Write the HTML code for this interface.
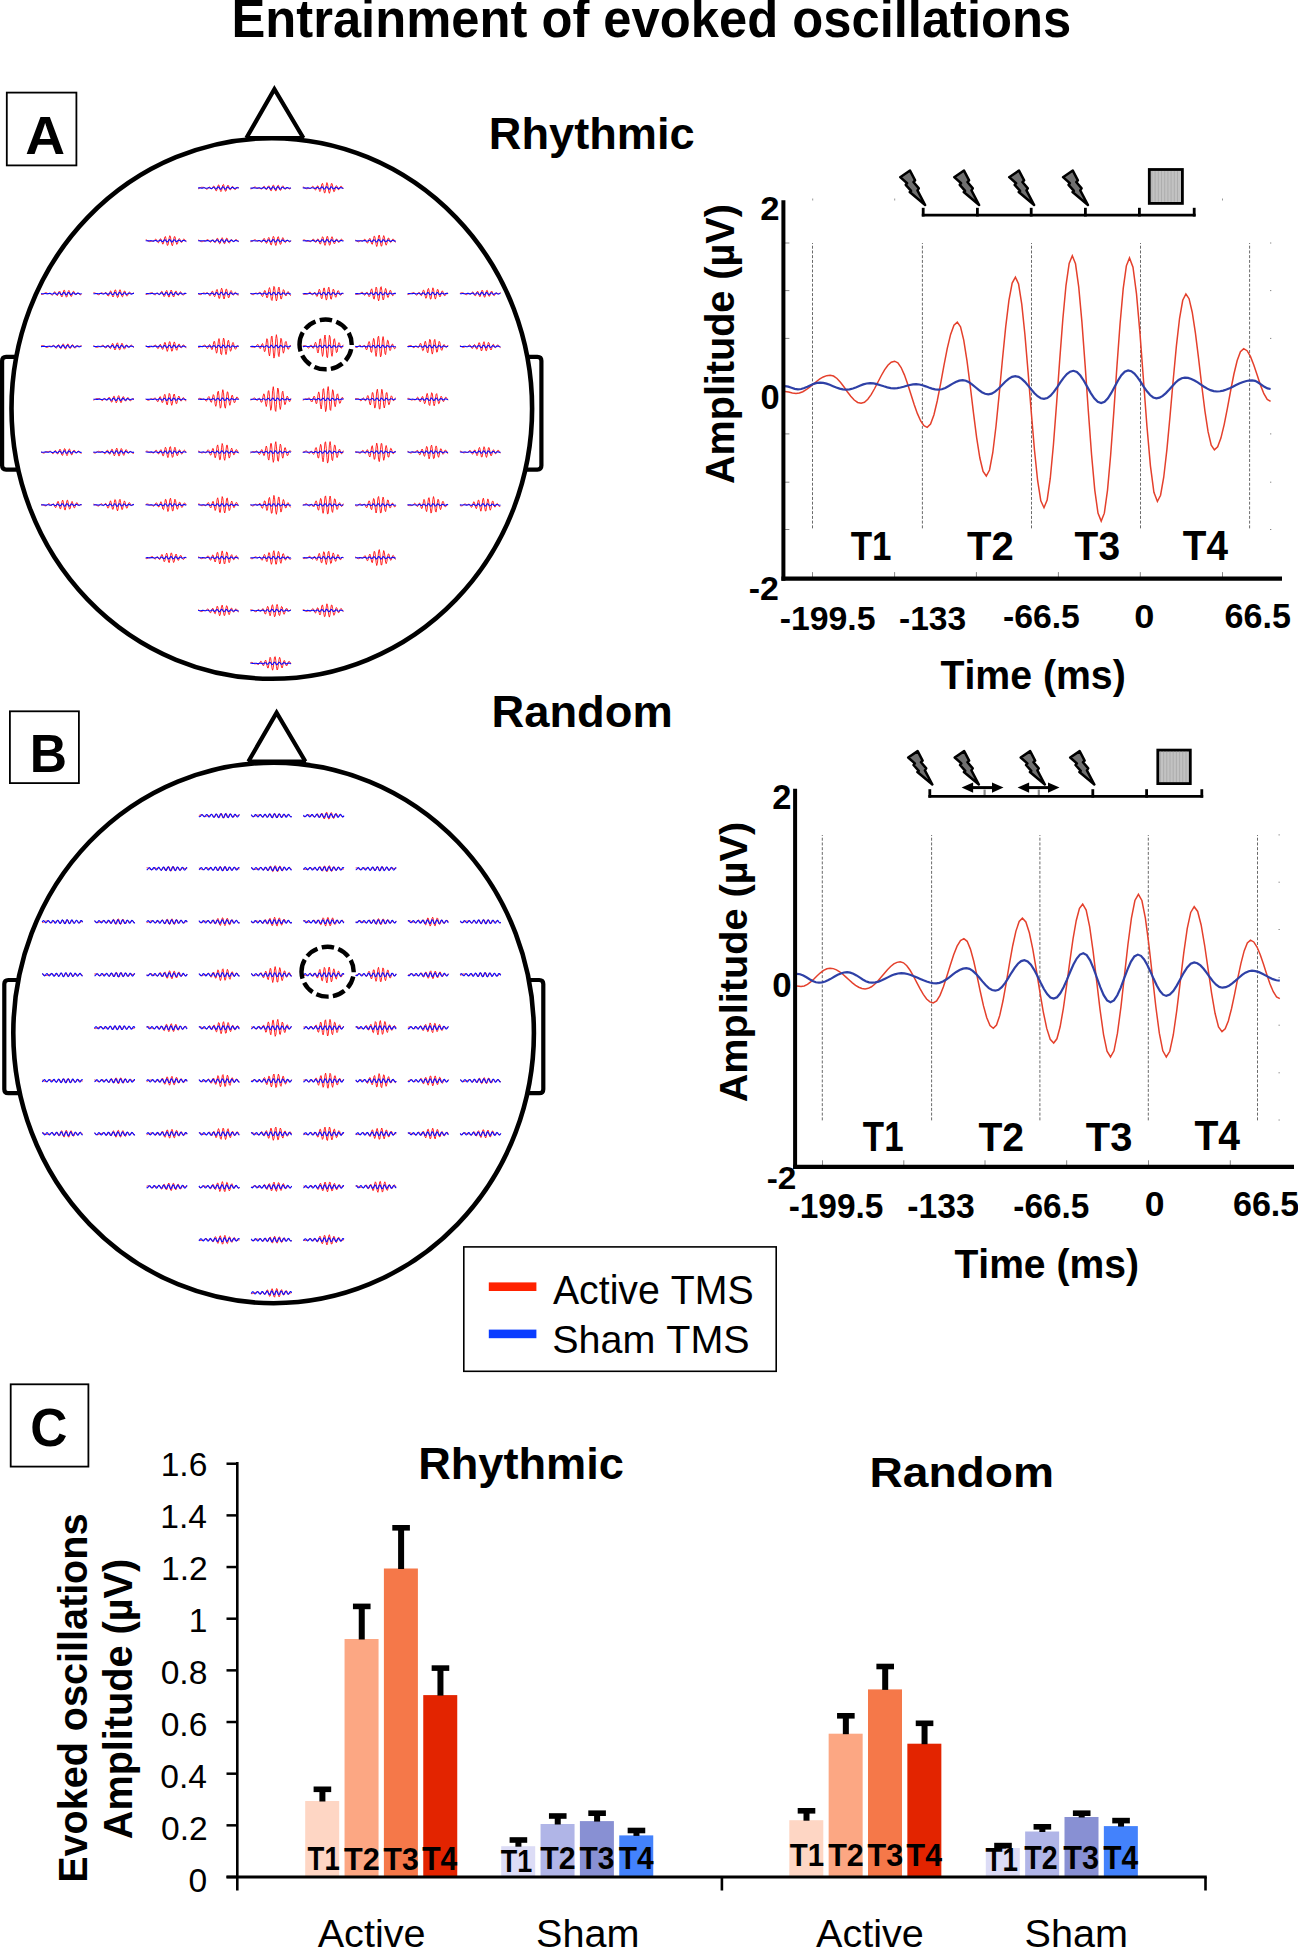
<!DOCTYPE html>
<html><head><meta charset="utf-8"><title>Entrainment of evoked oscillations</title>
<style>html,body{margin:0;padding:0;background:#fff;width:1298px;height:1948px;overflow:hidden}
svg{display:block;font-family:"Liberation Sans",sans-serif}</style></head>
<body>
<svg width="1298" height="1948" viewBox="0 0 1298 1948" font-family="Liberation Sans, sans-serif" style="font-kerning:none"><text transform="translate(231.45,36.67) scale(1,1.0416)" font-size="50.73" font-weight="bold" fill="#000">Entrainment of evoked oscillations</text>
<rect x="6.80" y="92.60" width="69.60" height="72.80" fill="none" stroke="#000" stroke-width="1.80"/>
<text transform="translate(25.35,154.04) scale(1,0.9733)" font-size="55.15" font-weight="bold" fill="#000">A</text>
<rect x="9.90" y="711.30" width="69.00" height="71.80" fill="none" stroke="#000" stroke-width="1.80"/>
<text transform="translate(29.69,771.90) scale(1,1.0328)" font-size="51.64" font-weight="bold" fill="#000">B</text>
<rect x="10.70" y="1384.30" width="77.70" height="82.30" fill="none" stroke="#000" stroke-width="1.80"/>
<text transform="translate(30.34,1446.06) scale(1,1.0494)" font-size="51.54" font-weight="bold" fill="#000">C</text>
<ellipse cx="271.80" cy="408.50" rx="260.30" ry="270.30" fill="none" stroke="#000" stroke-width="4.60"/>
<path d="M246.40,138.00 L274.40,89.20 L303.40,138.00" stroke="#000" stroke-width="4.20" fill="none" stroke-linejoin="miter"/>
<line x1="245.80" y1="138.00" x2="304.00" y2="138.00" stroke="#000" stroke-width="4.20"/>
<path d="M17.31,356.80 H6.10 Q2.10,356.80 2.10,360.80 V465.60 Q2.10,469.60 6.10,469.60 H19.24" stroke="#000" stroke-width="4.20" fill="none"/>
<path d="M526.29,356.80 H537.40 Q541.40,356.80 541.40,360.80 V465.60 Q541.40,469.60 537.40,469.60 H524.36" stroke="#000" stroke-width="4.20" fill="none"/>
<ellipse cx="273.60" cy="1032.90" rx="260.30" ry="270.30" fill="none" stroke="#000" stroke-width="4.60"/>
<path d="M248.40,761.50 L276.60,712.70 L305.40,761.50" stroke="#000" stroke-width="4.20" fill="none" stroke-linejoin="miter"/>
<line x1="247.80" y1="761.50" x2="306.00" y2="761.50" stroke="#000" stroke-width="4.20"/>
<path d="M19.33,980.00 H8.30 Q4.30,980.00 4.30,984.00 V1089.20 Q4.30,1093.20 8.30,1093.20 H20.86" stroke="#000" stroke-width="4.20" fill="none"/>
<path d="M527.87,980.00 H539.30 Q543.30,980.00 543.30,984.00 V1089.20 Q543.30,1093.20 539.30,1093.20 H526.34" stroke="#000" stroke-width="4.20" fill="none"/>
<path d="M198.1 188.8 198.7 188.6 199.3 188.2 200.0 187.8 200.6 187.5 201.3 187.3 201.9 187.3 202.5 187.3 203.2 187.3 203.8 187.4 204.4 187.6 205.1 188.1 205.7 188.6 206.3 189.1 207.0 189.3 207.6 189.0 208.2 188.2 208.9 187.3 209.5 187.0 210.1 187.4 210.8 188.2 211.4 188.9 212.0 188.7 212.7 187.7 213.3 186.4 213.9 185.9 214.6 186.8 215.2 188.8 215.8 190.6 216.5 190.8 217.1 189.2 217.7 186.7 218.4 184.9 219.0 185.2 219.6 187.5 220.3 190.3 220.9 191.6 221.6 190.5 222.2 187.7 222.8 185.0 223.5 184.4 224.1 186.2 224.7 189.2 225.4 191.2 226.0 191.1 226.6 189.0 227.3 186.4 227.9 185.1 228.5 185.8 229.2 187.7 229.8 189.5 230.4 189.9 231.1 188.9 231.7 187.3 232.3 186.4 233.0 186.6 233.6 187.7 234.2 189.0 234.9 189.7 235.5 189.5 236.1 188.7 236.8 187.9 237.4 187.4 238.0 187.4 238.7 187.5 M250.4 188.9 251.1 188.8 251.7 188.6 252.3 188.3 253.0 187.9 253.6 187.5 254.2 187.2 254.9 187.0 255.5 187.1 256.1 187.5 256.8 187.9 257.4 188.2 258.1 188.3 258.7 188.3 259.3 188.2 260.0 188.4 260.6 188.7 261.2 189.0 261.9 189.0 262.5 188.3 263.1 187.2 263.8 186.4 264.4 186.3 265.0 187.3 265.7 188.7 266.3 189.6 266.9 189.4 267.6 188.0 268.2 186.5 268.8 185.8 269.5 186.8 270.1 188.8 270.7 190.6 271.4 190.7 272.0 188.9 272.6 186.5 273.3 185.0 273.9 185.5 274.5 187.7 275.2 190.1 275.8 191.1 276.4 190.0 277.1 187.6 277.7 185.6 278.4 185.3 279.0 186.9 279.6 189.1 280.3 190.4 280.9 190.1 281.5 188.4 282.2 186.6 282.8 185.8 283.4 186.3 284.1 187.6 284.7 188.8 285.3 189.2 286.0 188.8 286.6 188.1 287.2 187.7 287.9 187.9 288.5 188.4 289.1 188.9 289.8 188.9 290.4 188.4 291.0 187.8 M302.8 187.1 303.4 187.1 304.1 187.3 304.7 187.7 305.3 188.1 306.0 188.5 306.6 188.8 307.2 188.7 307.9 188.5 308.5 188.4 309.1 188.3 309.8 188.4 310.4 188.4 311.0 188.1 311.7 187.3 312.3 186.5 312.9 186.2 313.6 186.8 314.2 188.1 314.9 189.6 315.5 190.1 316.1 189.2 316.8 187.4 317.4 185.9 318.0 185.9 318.7 187.7 319.3 190.2 319.9 191.6 320.6 190.5 321.2 187.4 321.8 184.2 322.5 183.3 323.1 185.5 323.7 189.6 324.4 192.8 325.0 192.8 325.6 189.5 326.3 185.1 326.9 182.6 327.5 183.7 328.2 187.8 328.8 191.9 329.4 193.3 330.1 191.1 330.7 187.0 331.3 183.7 332.0 183.5 332.6 186.1 333.2 189.7 333.9 191.8 334.5 191.3 335.2 188.9 335.8 186.5 336.4 185.6 337.1 186.5 337.7 188.3 338.3 189.7 339.0 189.6 339.6 188.4 340.2 187.0 340.9 186.1 341.5 186.3 342.1 187.3 342.8 188.3 343.4 188.9 M145.7 239.9 146.4 239.9 147.0 240.2 147.6 240.6 148.3 241.0 148.9 241.4 149.5 241.6 150.2 241.6 150.8 241.4 151.4 241.2 152.1 241.1 152.7 241.2 153.3 241.1 154.0 240.8 154.6 240.1 155.2 239.4 155.9 239.1 156.5 239.7 157.1 241.1 157.8 242.4 158.4 242.8 159.0 241.9 159.7 240.2 160.3 238.8 160.9 238.9 161.6 240.7 162.2 243.0 162.8 244.2 163.5 243.0 164.1 240.0 164.8 237.2 165.4 236.5 166.0 238.7 166.7 242.6 167.3 245.4 167.9 245.2 168.6 242.0 169.2 237.8 169.8 235.7 170.5 237.0 171.1 240.9 171.7 244.7 172.4 245.8 173.0 243.5 173.6 239.6 174.3 236.7 174.9 236.6 175.5 239.2 176.2 242.6 176.8 244.4 177.4 243.8 178.1 241.5 178.7 239.3 179.3 238.5 180.0 239.5 180.6 241.2 181.2 242.4 181.9 242.3 182.5 241.1 183.1 239.7 183.8 239.0 184.4 239.3 185.1 240.2 185.7 241.2 186.3 241.7 M198.1 240.0 198.7 240.2 199.3 240.5 200.0 240.9 200.6 241.3 201.3 241.6 201.9 241.7 202.5 241.6 203.2 241.3 203.8 241.1 204.4 240.9 205.1 240.8 205.7 240.6 206.3 240.3 207.0 239.9 207.6 239.7 208.2 239.7 208.9 240.4 209.5 241.3 210.1 242.1 210.8 242.2 211.4 241.5 212.0 240.4 212.7 239.7 213.3 239.9 213.9 241.0 214.6 242.3 215.2 242.7 215.8 241.7 216.5 239.8 217.1 238.3 217.7 238.4 218.4 240.1 219.0 242.4 219.6 243.8 220.3 243.2 220.9 240.9 221.6 238.6 222.2 237.7 222.8 238.9 223.5 241.4 224.1 243.5 224.7 243.7 225.4 241.9 226.0 239.5 226.6 238.1 227.3 238.5 227.9 240.4 228.5 242.3 229.2 243.2 229.8 242.6 230.4 241.0 231.1 239.8 231.7 239.5 232.3 240.2 233.0 241.2 233.6 241.7 234.2 241.3 234.9 240.5 235.5 239.7 236.1 239.5 236.8 239.9 237.4 240.7 238.0 241.4 238.7 241.7 M250.4 241.7 251.1 241.6 251.7 241.5 252.3 241.2 253.0 240.8 253.6 240.3 254.2 239.9 254.9 239.8 255.5 239.9 256.1 240.3 256.8 240.8 257.4 241.1 258.1 241.1 258.7 240.9 259.3 240.8 260.0 241.0 260.6 241.6 261.2 242.2 261.9 242.2 262.5 241.4 263.1 239.9 263.8 238.6 264.4 238.5 265.0 239.9 265.7 242.0 266.3 243.4 266.9 243.0 267.6 240.9 268.2 238.4 268.8 237.4 269.5 238.9 270.1 241.9 270.7 244.6 271.4 244.9 272.0 242.4 272.6 238.6 273.3 236.3 273.9 236.9 274.5 240.2 275.2 244.0 275.8 245.5 276.4 243.9 277.1 240.3 277.7 237.2 278.4 236.7 279.0 239.0 279.6 242.3 280.3 244.4 280.9 244.1 281.5 241.6 282.2 238.9 282.8 237.6 283.4 238.4 284.1 240.4 284.7 242.1 285.3 242.7 286.0 241.9 286.6 240.8 287.2 240.1 287.9 240.3 288.5 241.1 289.1 241.8 289.8 242.0 290.4 241.5 291.0 240.7 M302.8 240.2 303.4 240.0 304.1 239.9 304.7 240.0 305.3 240.3 306.0 240.7 306.6 241.0 307.2 241.2 307.9 241.3 308.5 241.3 309.1 241.4 309.8 241.6 310.4 241.7 311.0 241.5 311.7 240.9 312.3 240.0 312.9 239.2 313.6 239.2 314.2 240.0 314.9 241.3 315.5 242.3 316.1 242.2 316.8 241.0 317.4 239.4 318.0 238.8 318.7 239.8 319.3 242.0 319.9 243.9 320.6 243.9 321.2 241.8 321.8 238.7 322.5 236.7 323.1 237.4 323.7 240.4 324.4 243.9 325.0 245.4 325.6 243.8 326.3 240.1 326.9 236.8 327.5 236.2 328.2 238.8 328.8 242.6 329.4 245.2 330.1 244.7 330.7 241.7 331.3 238.3 332.0 236.7 332.6 237.9 333.2 240.7 333.9 243.2 334.5 243.9 335.2 242.5 335.8 240.4 336.4 239.0 337.1 239.2 337.7 240.6 338.3 242.1 339.0 242.6 339.6 242.0 340.2 240.7 340.9 239.5 341.5 239.2 342.1 239.5 342.8 240.3 343.4 240.9 M355.2 240.1 355.8 240.4 356.4 240.8 357.1 241.2 357.7 241.6 358.3 241.8 359.0 241.7 359.6 241.4 360.2 241.0 360.9 240.7 361.5 240.7 362.1 240.8 362.8 240.8 363.4 240.4 364.0 239.7 364.7 239.3 365.3 239.5 365.9 240.5 366.6 242.1 367.2 243.1 367.8 242.9 368.5 241.3 369.1 239.3 369.8 238.3 370.4 239.2 371.0 241.6 371.7 243.9 372.3 244.3 372.9 242.0 373.6 238.5 374.2 236.0 374.8 236.6 375.5 240.2 376.1 244.5 376.7 246.5 377.4 244.7 378.0 240.2 378.6 236.0 379.3 235.0 379.9 238.0 380.5 242.9 381.2 246.2 381.8 245.9 382.4 242.2 383.1 237.7 383.7 235.6 384.3 237.0 385.0 240.7 385.6 244.2 386.2 245.2 386.9 243.4 387.5 240.4 388.1 238.2 388.8 238.1 389.4 239.8 390.1 241.7 390.7 242.6 391.3 242.0 392.0 240.5 392.6 239.2 393.2 239.0 393.9 239.8 394.5 241.0 395.1 242.0 395.8 242.2 M41.0 294.4 41.6 294.5 42.3 294.5 42.9 294.3 43.5 294.0 44.2 293.5 44.8 293.1 45.4 292.8 46.1 292.7 46.7 292.9 47.3 293.3 48.0 293.6 48.6 293.7 49.2 293.6 49.9 293.6 50.5 293.8 51.1 294.3 51.8 294.9 52.4 295.1 53.1 294.5 53.7 293.3 54.3 292.1 55.0 291.7 55.6 292.4 56.2 294.0 56.9 295.4 57.5 295.5 58.1 294.1 58.8 292.1 59.4 291.0 60.0 291.7 60.7 293.9 61.3 296.3 61.9 297.0 62.6 295.5 63.2 292.7 63.8 290.4 64.5 290.3 65.1 292.4 65.7 295.5 66.4 297.2 67.0 296.5 67.6 294.0 68.3 291.3 68.9 290.4 69.5 291.7 70.2 294.2 70.8 296.2 71.5 296.4 72.1 294.9 72.7 292.7 73.4 291.3 74.0 291.5 74.6 292.8 75.3 294.2 75.9 294.8 76.5 294.5 77.2 293.7 77.8 293.1 78.4 293.2 79.1 293.8 79.7 294.5 80.3 294.8 81.0 294.6 81.6 293.9 M93.4 292.8 94.0 292.8 94.6 292.9 95.3 293.2 95.9 293.4 96.5 293.7 97.2 294.1 97.8 294.5 98.4 294.7 99.1 294.7 99.7 294.3 100.3 293.7 101.0 293.1 101.6 292.8 102.2 293.0 102.9 293.4 103.5 293.8 104.1 293.7 104.8 293.2 105.4 292.5 106.0 292.4 106.7 293.3 107.3 294.8 108.0 296.0 108.6 295.9 109.2 294.4 109.9 292.3 110.5 290.9 111.1 291.3 111.8 293.5 112.4 295.9 113.0 297.0 113.7 295.6 114.3 292.7 114.9 290.2 115.6 289.9 116.2 292.2 116.8 295.5 117.5 297.6 118.1 297.1 118.7 294.2 119.4 291.0 120.0 289.7 120.6 291.0 121.3 293.9 121.9 296.4 122.5 296.9 123.2 295.1 123.8 292.5 124.4 291.0 125.1 291.3 125.7 293.2 126.3 295.3 127.0 296.2 127.6 295.5 128.3 294.0 128.9 292.6 129.5 292.1 130.2 292.5 130.8 293.3 131.4 293.8 132.1 293.8 132.7 293.4 133.3 293.1 134.0 293.2 M145.7 294.5 146.4 294.5 147.0 294.4 147.6 294.1 148.3 293.8 148.9 293.5 149.5 293.3 150.2 293.1 150.8 292.9 151.4 292.8 152.1 292.7 152.7 293.0 153.3 293.5 154.0 294.2 154.6 294.8 155.2 294.9 155.9 294.4 156.5 293.6 157.1 293.0 157.8 293.1 158.4 293.8 159.0 294.6 159.7 294.7 160.3 293.9 160.9 292.4 161.6 291.3 162.2 291.6 162.8 293.2 163.5 295.4 164.1 296.6 164.8 295.9 165.4 293.6 166.0 291.2 166.7 290.4 167.3 291.9 167.9 294.7 168.6 296.9 169.2 297.0 169.8 294.7 170.5 291.7 171.1 290.0 171.7 290.8 172.4 293.4 173.0 296.1 173.6 297.0 174.3 295.8 174.9 293.3 175.5 291.3 176.2 291.1 176.8 292.6 177.4 294.5 178.1 295.5 178.7 295.1 179.3 293.6 180.0 292.2 180.6 291.7 181.2 292.5 181.9 293.8 182.5 294.8 183.1 295.2 183.8 294.8 184.4 294.1 185.1 293.6 185.7 293.5 186.3 293.5 M198.1 293.7 198.7 294.1 199.3 294.4 200.0 294.6 200.6 294.6 201.3 294.4 201.9 293.9 202.5 293.4 203.2 293.0 203.8 293.0 204.4 293.1 205.1 293.4 205.7 293.4 206.3 293.1 207.0 292.8 207.6 292.8 208.2 293.5 208.9 294.6 209.5 295.7 210.1 295.8 210.8 294.7 211.4 292.8 212.0 291.3 212.7 291.3 213.3 293.1 213.9 295.5 214.6 296.7 215.2 295.7 215.8 292.9 216.5 290.1 217.1 289.4 217.7 291.7 218.4 295.6 219.0 298.5 219.6 298.2 220.3 294.8 220.9 290.5 221.6 288.2 222.2 289.6 222.8 293.7 223.5 297.8 224.1 299.0 224.7 296.6 225.4 292.3 226.0 289.2 226.6 289.2 227.3 292.1 227.9 295.9 228.5 297.9 229.2 297.1 229.8 294.3 230.4 291.5 231.1 290.5 231.7 291.5 232.3 293.6 233.0 295.1 233.6 295.1 234.2 294.1 234.9 292.8 235.5 292.2 236.1 292.7 236.8 293.9 237.4 294.9 238.0 295.2 238.7 294.9 M250.4 293.4 251.1 293.7 251.7 294.1 252.3 294.5 253.0 294.7 253.6 294.6 254.2 294.2 254.9 293.7 255.5 293.2 256.1 293.1 256.8 293.3 257.4 293.6 258.1 293.6 258.7 293.1 259.3 292.4 260.0 292.1 260.6 292.7 261.2 294.2 261.9 295.9 262.5 296.6 263.1 295.5 263.8 293.1 264.4 290.8 265.0 290.4 265.7 292.4 266.3 295.7 266.9 297.9 267.6 297.2 268.2 293.6 268.8 289.4 269.5 287.6 270.1 289.8 270.7 295.0 271.4 299.7 272.0 300.5 272.6 296.6 273.3 290.5 273.9 286.4 274.5 287.2 275.2 292.3 275.8 298.3 276.4 301.0 277.1 298.7 277.7 293.2 278.4 288.2 279.0 287.1 279.6 290.4 280.3 295.5 280.9 299.0 281.5 298.8 282.2 295.5 282.8 291.5 283.4 289.6 284.1 290.5 284.7 293.1 285.3 295.4 286.0 296.0 286.6 294.7 287.2 292.8 287.9 291.6 288.5 291.9 289.1 293.2 289.8 294.7 290.4 295.4 291.0 295.3 M302.8 293.7 303.4 294.1 304.1 294.3 304.7 294.4 305.3 294.3 306.0 294.3 306.6 294.2 307.2 294.1 307.9 293.7 308.5 293.2 309.1 292.6 309.8 292.2 310.4 292.3 311.0 293.1 311.7 294.2 312.3 294.9 312.9 294.8 313.6 293.8 314.2 292.7 314.9 292.3 315.5 293.3 316.1 295.1 316.8 296.5 317.4 296.1 318.0 293.9 318.7 290.9 319.3 289.2 319.9 290.4 320.6 293.9 321.2 297.6 321.8 298.8 322.5 296.5 323.1 291.9 323.7 288.2 324.4 288.1 325.0 291.9 325.6 297.1 326.3 300.1 326.9 298.8 327.5 293.9 328.2 288.9 328.8 287.2 329.4 289.7 330.1 294.8 330.7 298.8 331.3 299.2 332.0 296.0 332.6 291.6 333.2 289.1 333.9 289.9 334.5 293.1 335.2 296.3 335.8 297.3 336.4 295.9 337.1 293.1 337.7 291.0 338.3 290.6 339.0 291.9 339.6 293.8 340.2 295.1 340.9 295.2 341.5 294.5 342.1 293.7 342.8 293.4 343.4 293.7 M355.2 294.1 355.8 294.4 356.4 294.4 357.1 294.4 357.7 294.2 358.3 294.1 359.0 293.9 359.6 293.8 360.2 293.4 360.9 292.9 361.5 292.4 362.1 292.2 362.8 292.6 363.4 293.6 364.0 294.7 364.7 295.3 365.3 294.8 365.9 293.6 366.6 292.4 367.2 292.2 367.8 293.5 368.5 295.5 369.1 296.7 369.8 295.8 370.4 293.0 371.0 290.0 371.7 288.8 372.3 290.9 372.9 295.1 373.6 298.7 374.2 299.1 374.8 295.7 375.5 290.5 376.1 287.1 376.7 288.2 377.4 293.1 378.0 298.6 378.6 300.9 379.3 298.3 379.9 292.5 380.5 287.5 381.2 286.7 381.8 290.5 382.4 296.3 383.1 300.0 383.7 299.3 384.3 295.1 385.0 290.4 385.6 288.4 386.2 290.0 386.9 293.9 387.5 297.1 388.1 297.6 388.8 295.4 389.4 292.3 390.1 290.3 390.7 290.5 391.3 292.4 392.0 294.6 392.6 295.7 393.2 295.5 393.9 294.4 394.5 293.5 395.1 293.2 395.8 293.6 M407.5 294.6 408.2 294.5 408.8 294.3 409.4 294.0 410.1 293.7 410.7 293.4 411.3 293.3 412.0 293.1 412.6 292.9 413.2 292.7 413.9 292.6 414.5 292.9 415.1 293.6 415.8 294.5 416.4 295.2 417.0 295.1 417.7 294.3 418.3 293.1 418.9 292.3 419.6 292.7 420.2 294.0 420.8 295.3 421.5 295.6 422.1 294.1 422.7 291.8 423.4 290.1 424.0 290.5 424.6 293.3 425.3 296.6 425.9 298.3 426.6 297.0 427.2 293.1 427.8 289.4 428.5 288.4 429.1 291.1 429.7 295.7 430.4 299.1 431.0 298.9 431.6 295.1 432.3 290.3 432.9 287.8 433.5 289.2 434.2 293.6 434.8 297.8 435.4 299.1 436.1 296.8 436.7 292.7 437.3 289.6 438.0 289.5 438.6 292.1 439.2 295.3 439.9 296.9 440.5 296.1 441.1 293.7 441.8 291.4 442.4 290.8 443.0 292.0 443.7 294.0 444.3 295.5 444.9 295.8 445.6 295.0 446.2 293.9 446.9 293.2 447.5 293.1 448.1 293.4 M459.9 293.5 460.5 293.2 461.1 292.9 461.8 292.8 462.4 292.8 463.1 292.9 463.7 293.2 464.3 293.6 465.0 294.1 465.6 294.5 466.2 294.7 466.9 294.5 467.5 294.0 468.1 293.6 468.8 293.4 469.4 293.6 470.0 293.9 470.7 293.9 471.3 293.4 471.9 292.6 472.6 292.0 473.2 292.2 473.8 293.4 474.5 294.9 475.1 295.9 475.7 295.5 476.4 293.8 477.0 292.0 477.6 291.2 478.3 292.2 478.9 294.4 479.5 296.4 480.2 296.5 480.8 294.6 481.4 291.8 482.1 290.1 482.7 290.7 483.4 293.3 484.0 296.2 484.6 297.3 485.3 296.0 485.9 293.1 486.5 290.7 487.2 290.3 487.8 292.2 488.4 294.8 489.1 296.4 489.7 296.0 490.3 294.0 491.0 291.9 491.6 291.0 492.2 291.9 492.9 293.7 493.5 295.3 494.1 295.8 494.8 295.0 495.4 293.8 496.0 293.0 496.7 292.9 497.3 293.3 497.9 293.8 498.6 293.9 499.2 293.5 499.8 292.9 500.5 292.6 M41.0 346.0 41.6 345.7 42.3 345.6 42.9 345.6 43.5 345.8 44.2 346.0 44.8 346.4 45.4 346.8 46.1 347.2 46.7 347.4 47.3 347.4 48.0 347.1 48.6 346.7 49.2 346.3 49.9 346.1 50.5 346.2 51.1 346.4 51.8 346.3 52.4 346.0 53.1 345.5 53.7 345.3 54.3 345.7 55.0 346.7 55.6 347.8 56.2 348.3 56.9 347.7 57.5 346.3 58.1 345.0 58.8 344.7 59.4 345.7 60.0 347.4 60.7 348.6 61.3 348.3 61.9 346.7 62.6 344.7 63.2 343.8 63.8 344.7 64.5 346.8 65.1 348.7 65.7 349.1 66.4 347.7 67.0 345.6 67.6 344.0 68.3 344.2 68.9 345.8 69.5 347.7 70.2 348.6 70.8 347.9 71.5 346.3 72.1 344.9 72.7 344.6 73.4 345.5 74.0 347.0 74.6 348.0 75.3 348.1 75.9 347.4 76.5 346.4 77.2 345.8 77.8 345.8 78.4 346.1 79.1 346.4 79.7 346.3 80.3 346.1 81.0 345.8 81.6 345.7 M93.4 345.7 94.0 345.9 94.6 346.3 95.3 346.7 95.9 347.1 96.5 347.3 97.2 347.3 97.8 347.2 98.4 346.9 99.1 346.6 99.7 346.4 100.3 346.4 101.0 346.3 101.6 346.0 102.2 345.5 102.9 345.2 103.5 345.4 104.1 346.1 104.8 347.2 105.4 348.0 106.0 348.0 106.7 347.1 107.3 345.8 108.0 345.0 108.6 345.4 109.2 346.8 109.9 348.2 110.5 348.6 111.1 347.3 111.8 345.1 112.4 343.5 113.0 343.7 113.7 345.8 114.3 348.5 114.9 350.0 115.6 349.1 116.2 346.4 116.8 343.6 117.5 342.8 118.1 344.5 118.7 347.4 119.4 349.7 120.0 349.7 120.6 347.6 121.3 344.8 121.9 343.2 122.5 343.9 123.2 346.1 123.8 348.4 124.4 349.2 125.1 348.3 125.7 346.5 126.3 345.1 127.0 344.9 127.6 345.8 128.3 346.9 128.9 347.5 129.5 347.1 130.2 346.1 130.8 345.3 131.4 345.1 132.1 345.6 132.7 346.5 133.3 347.2 134.0 347.5 M145.7 345.8 146.4 346.1 147.0 346.5 147.6 346.9 148.3 347.3 148.9 347.4 149.5 347.3 150.2 347.0 150.8 346.6 151.4 346.4 152.1 346.3 152.7 346.4 153.3 346.3 154.0 346.0 154.6 345.4 155.2 345.1 155.9 345.3 156.5 346.3 157.1 347.7 157.8 348.6 158.4 348.3 159.0 346.9 159.7 345.1 160.3 344.2 160.9 345.1 161.6 347.2 162.2 349.1 162.8 349.4 163.5 347.4 164.1 344.3 164.8 342.3 165.4 342.9 166.0 346.1 166.7 349.8 167.3 351.4 167.9 349.7 168.6 345.7 169.2 342.1 169.8 341.5 170.5 344.2 171.1 348.4 171.7 351.2 172.4 350.8 173.0 347.5 173.6 343.6 174.3 341.9 174.9 343.2 175.5 346.6 176.2 349.5 176.8 350.3 177.4 348.7 178.1 346.0 178.7 344.2 179.3 344.1 180.0 345.6 180.6 347.3 181.2 348.0 181.9 347.4 182.5 346.0 183.1 345.0 183.8 344.9 184.4 345.6 185.1 346.7 185.7 347.6 186.3 347.8 M198.1 347.3 198.7 347.4 199.3 347.2 200.0 346.9 200.6 346.7 201.3 346.5 201.9 346.4 202.5 346.2 203.2 345.9 203.8 345.5 204.4 345.1 205.1 345.2 205.7 346.0 206.3 347.2 207.0 348.3 207.6 348.4 208.2 347.4 208.9 345.7 209.5 344.5 210.1 344.9 210.8 346.8 211.4 349.0 212.0 349.7 212.7 347.9 213.3 344.4 213.9 341.5 214.6 341.5 215.2 345.0 215.8 350.1 216.5 353.2 217.1 351.9 217.7 346.7 218.4 340.8 219.0 338.6 219.6 341.7 220.3 348.4 220.9 354.0 221.6 354.7 222.2 349.7 222.8 342.6 223.5 338.1 224.1 339.3 224.7 345.2 225.4 351.7 226.0 354.5 226.6 351.8 227.3 346.0 227.9 341.0 228.5 340.2 229.2 343.5 229.8 348.2 230.4 351.2 231.1 350.6 231.7 347.3 232.3 343.8 233.0 342.4 233.6 343.6 234.2 346.3 234.9 348.6 235.5 349.3 236.1 348.4 236.8 346.8 237.4 345.8 238.0 345.6 238.7 346.2 M250.4 346.5 251.1 346.8 251.7 347.0 252.3 347.1 253.0 347.0 253.6 347.1 254.2 347.2 254.9 347.2 255.5 347.0 256.1 346.3 256.8 345.3 257.4 344.5 258.1 344.6 258.7 345.7 259.3 347.4 260.0 348.6 260.6 348.3 261.2 346.5 261.9 344.3 262.5 343.5 263.1 345.2 263.8 348.6 264.4 351.5 265.0 351.4 265.7 347.5 266.3 342.1 266.9 338.7 267.6 340.3 268.2 346.5 268.8 353.3 269.5 356.0 270.1 352.1 270.7 343.8 271.4 336.7 272.0 336.0 272.6 342.6 273.3 352.1 273.9 358.1 274.5 356.3 275.2 347.8 275.8 338.5 276.4 334.7 277.1 338.8 277.7 347.8 278.4 355.4 279.0 356.6 279.6 351.2 280.3 343.2 280.9 338.3 281.5 339.2 282.2 344.8 282.8 350.8 283.4 353.2 284.1 351.0 284.7 346.2 285.3 342.2 286.0 341.4 286.6 343.5 287.2 346.8 287.9 349.1 288.5 349.2 289.1 347.7 289.8 346.1 290.4 345.4 291.0 345.9 M302.8 345.9 303.4 345.8 304.1 345.7 304.7 345.7 305.3 345.8 306.0 345.9 306.6 346.3 307.2 347.0 307.9 347.7 308.5 348.1 309.1 347.8 309.8 346.7 310.4 345.5 311.0 345.0 311.7 345.5 312.3 347.0 312.9 348.2 313.6 348.1 314.2 346.2 314.9 343.6 315.5 342.2 316.1 343.6 316.8 347.5 317.4 351.6 318.0 353.0 318.7 349.9 319.3 344.0 319.9 339.0 320.6 338.9 321.2 344.2 321.8 351.8 322.5 356.4 323.1 354.3 323.7 346.4 324.4 338.0 325.0 335.0 325.6 339.7 326.3 349.2 326.9 357.0 327.5 357.7 328.2 350.8 328.8 341.1 329.4 335.3 330.1 337.1 330.7 344.9 331.3 353.2 332.0 356.3 332.6 352.8 333.2 345.4 333.9 339.5 334.5 338.7 335.2 343.0 335.8 348.9 336.4 352.6 337.1 352.0 337.7 348.3 338.3 344.3 339.0 342.6 339.6 343.5 340.2 346.0 340.9 347.9 341.5 348.2 342.1 347.0 342.8 345.5 343.4 344.8 M355.2 347.1 355.8 347.3 356.4 347.4 357.1 347.3 357.7 347.0 358.3 346.5 359.0 345.8 359.6 345.3 360.2 345.3 360.9 345.8 361.5 346.5 362.1 347.0 362.8 346.7 363.4 345.9 364.0 345.3 364.7 345.5 365.3 346.9 365.9 348.9 366.6 349.9 367.2 348.9 367.8 346.0 368.5 342.7 369.1 341.5 369.8 343.6 370.4 348.0 371.0 352.0 371.7 352.3 372.3 348.2 372.9 342.2 373.6 338.4 374.2 340.0 374.8 346.5 375.5 353.7 376.1 356.4 376.7 352.5 377.4 344.1 378.0 337.1 378.6 336.2 379.3 342.3 379.9 351.3 380.5 356.9 381.2 355.4 381.8 348.0 382.4 340.0 383.1 336.6 383.7 340.0 384.3 347.4 385.0 353.6 385.6 354.6 386.2 350.4 386.9 344.2 387.5 340.2 388.1 340.6 388.8 344.4 389.4 348.7 390.1 350.6 390.7 349.5 391.3 346.6 392.0 344.3 392.6 344.0 393.2 345.5 393.9 347.6 394.5 348.8 395.1 348.5 395.8 347.2 M407.5 346.5 408.2 346.2 408.8 345.9 409.4 345.7 410.1 345.5 410.7 345.5 411.3 345.7 412.0 346.2 412.6 346.8 413.2 347.5 413.9 347.7 414.5 347.4 415.1 346.6 415.8 346.0 416.4 345.9 417.0 346.6 417.7 347.4 418.3 347.7 418.9 346.9 419.6 345.1 420.2 343.5 420.8 343.5 421.5 345.5 422.1 348.6 422.7 350.7 423.4 350.2 424.0 347.0 424.6 343.1 425.3 341.2 425.9 343.0 426.6 347.6 427.2 352.0 427.8 352.8 428.5 349.2 429.1 343.4 429.7 339.3 430.4 340.0 431.0 345.1 431.6 351.2 432.3 354.1 432.9 351.9 433.5 346.1 434.2 340.7 434.8 339.4 435.4 342.8 436.1 348.4 436.7 352.2 437.3 351.9 438.0 348.0 438.6 343.5 439.2 341.3 439.9 342.6 440.5 346.1 441.1 349.4 441.8 350.4 442.4 349.0 443.0 346.6 443.7 344.8 444.3 344.6 444.9 345.7 445.6 347.0 446.2 347.5 446.9 347.0 447.5 346.0 448.1 345.1 M459.9 345.6 460.5 345.9 461.1 346.2 461.8 346.7 462.4 347.1 463.1 347.3 463.7 347.4 464.3 347.1 465.0 346.8 465.6 346.6 466.2 346.5 466.9 346.5 467.5 346.4 468.1 346.1 468.8 345.5 469.4 345.0 470.0 345.1 470.7 346.0 471.3 347.3 471.9 348.3 472.6 348.3 473.2 347.2 473.8 345.5 474.5 344.5 475.1 345.0 475.7 346.8 476.4 348.8 477.0 349.3 477.6 347.7 478.3 344.9 478.9 342.7 479.5 342.9 480.2 345.5 480.8 349.0 481.4 351.0 482.1 349.9 482.7 346.4 483.4 342.9 484.0 341.7 484.6 343.8 485.3 347.6 485.9 350.6 486.5 350.7 487.2 348.0 487.8 344.4 488.4 342.3 489.1 343.1 489.7 346.0 490.3 348.9 491.0 350.0 491.6 348.8 492.2 346.5 492.9 344.6 493.5 344.3 494.1 345.5 494.8 347.1 495.4 347.8 496.0 347.4 496.7 346.2 497.3 345.1 497.9 344.8 498.6 345.4 499.2 346.4 499.8 347.3 500.5 347.6 M93.4 400.2 94.0 400.0 94.6 399.6 95.3 399.3 95.9 398.9 96.5 398.7 97.2 398.6 97.8 398.6 98.4 398.6 99.1 398.6 99.7 398.8 100.3 399.2 101.0 399.7 101.6 400.3 102.2 400.6 102.9 400.3 103.5 399.6 104.1 398.8 104.8 398.4 105.4 398.7 106.0 399.5 106.7 400.2 107.3 400.1 108.0 399.0 108.6 397.7 109.2 397.1 109.9 397.9 110.5 399.8 111.1 401.7 111.8 402.2 112.4 400.8 113.0 398.2 113.7 396.3 114.3 396.3 114.9 398.5 115.6 401.3 116.2 402.9 116.8 402.0 117.5 399.3 118.1 396.5 118.7 395.6 119.4 397.2 120.0 400.1 120.6 402.4 121.3 402.5 121.9 400.5 122.5 398.0 123.2 396.5 123.8 397.0 124.4 398.8 125.1 400.6 125.7 401.2 126.3 400.3 127.0 398.7 127.6 397.6 128.3 397.7 128.9 398.8 129.5 400.1 130.2 400.9 130.8 400.8 131.4 400.1 132.1 399.3 132.7 398.8 133.3 398.7 134.0 398.8 M145.7 399.0 146.4 399.4 147.0 399.8 147.6 400.1 148.3 400.3 148.9 400.2 149.5 399.9 150.2 399.4 150.8 399.0 151.4 398.8 152.1 398.9 152.7 399.1 153.3 399.1 154.0 398.7 154.6 398.2 155.2 398.0 155.9 398.6 156.5 399.8 157.1 401.2 157.8 401.8 158.4 400.9 159.0 398.9 159.7 397.0 160.3 396.6 160.9 398.2 161.6 400.9 162.2 402.7 162.8 402.2 163.5 399.3 164.1 395.8 164.8 394.3 165.4 396.1 166.0 400.4 166.7 404.2 167.3 404.9 167.9 401.7 168.6 396.8 169.2 393.4 169.8 394.0 170.5 398.2 171.1 403.0 171.7 405.3 172.4 403.5 173.0 398.9 173.6 394.9 174.3 394.0 174.9 396.6 175.5 400.8 176.2 403.7 176.8 403.5 177.4 400.8 178.1 397.6 178.7 396.0 179.3 396.7 180.0 398.8 180.6 400.7 181.2 401.1 181.9 400.1 182.5 398.5 183.1 397.6 183.8 397.9 184.4 399.0 185.1 400.2 185.7 400.9 186.3 400.8 M198.1 399.2 198.7 398.8 199.3 398.4 200.0 398.3 200.6 398.5 201.3 398.8 201.9 399.2 202.5 399.3 203.2 399.3 203.8 399.2 204.4 399.4 205.1 400.0 205.7 400.7 206.3 401.1 207.0 400.5 207.6 399.0 208.2 397.3 208.9 396.5 209.5 397.4 210.1 399.7 210.8 401.9 211.4 402.3 212.0 400.3 212.7 396.9 213.3 394.6 213.9 395.5 214.6 399.5 215.2 404.3 215.8 406.3 216.5 403.6 217.1 397.6 217.7 392.1 218.4 391.2 219.0 395.9 219.6 403.2 220.3 408.2 220.9 407.2 221.6 400.8 222.2 393.2 222.8 389.7 223.5 392.7 224.1 400.1 224.7 406.7 225.4 408.2 226.0 403.7 226.6 396.6 227.3 391.8 227.9 392.2 228.5 397.0 229.2 402.6 229.8 405.3 230.4 403.7 231.1 399.6 231.7 395.9 232.3 395.1 233.0 397.3 233.6 400.5 234.2 402.6 234.9 402.4 235.5 400.5 236.1 398.2 236.8 397.0 237.4 397.2 238.0 398.2 238.7 399.3 M250.4 400.0 251.1 399.8 251.7 399.6 252.3 399.3 253.0 398.8 253.6 398.3 254.2 397.9 254.9 398.0 255.5 398.7 256.1 399.6 256.8 400.4 257.4 400.4 258.1 399.6 258.7 398.6 259.3 398.1 260.0 399.0 260.6 400.8 261.2 402.3 261.9 402.0 262.5 399.5 263.1 396.0 263.8 393.8 264.4 394.9 265.0 399.4 265.7 404.4 266.3 406.5 266.9 403.5 267.6 397.0 268.2 391.2 268.8 390.6 269.5 396.3 270.1 404.9 270.7 410.3 271.4 408.5 272.0 400.1 272.6 390.6 273.3 386.7 273.9 391.3 274.5 401.4 275.2 410.1 275.8 411.4 276.4 404.6 277.1 394.5 277.7 388.0 278.4 389.3 279.0 397.1 279.6 405.7 280.3 409.4 280.9 406.2 281.5 398.8 282.2 392.6 282.8 391.2 283.4 395.0 284.1 400.7 284.7 404.5 285.3 404.4 286.0 401.3 286.6 397.7 287.2 396.1 287.9 397.1 288.5 399.5 289.1 401.3 289.8 401.5 290.4 400.2 291.0 398.5 M302.8 400.3 303.4 400.0 304.1 399.6 304.7 399.2 305.3 398.9 306.0 398.9 306.6 399.0 307.2 399.0 307.9 398.7 308.5 398.2 309.1 398.0 309.8 398.4 310.4 399.6 311.0 401.1 311.7 402.0 312.3 401.4 312.9 399.3 313.6 397.0 314.2 396.1 314.9 397.6 315.5 400.8 316.1 403.6 316.8 403.4 317.4 399.8 318.0 394.7 318.7 391.9 319.3 393.8 319.9 400.1 320.6 406.7 321.2 409.0 321.8 404.6 322.5 396.1 323.1 389.0 323.7 388.7 324.4 395.8 325.0 405.7 325.6 411.6 326.3 409.2 326.9 400.0 327.5 390.3 328.2 386.6 328.8 391.5 329.4 401.4 330.1 409.5 330.7 410.4 331.3 404.1 332.0 395.1 332.6 389.7 333.2 391.0 333.9 397.4 334.5 404.1 335.2 406.7 335.8 404.1 336.4 398.6 337.1 394.4 337.7 393.8 338.3 396.8 339.0 400.8 339.6 403.3 340.2 403.1 340.9 400.9 341.5 398.5 342.1 397.4 342.8 397.7 343.4 398.8 M355.2 398.6 355.8 398.5 356.4 398.6 357.1 398.6 357.7 398.7 358.3 398.8 359.0 399.3 359.6 399.9 360.2 400.5 360.9 400.8 361.5 400.5 362.1 399.5 362.8 398.4 363.4 397.9 364.0 398.4 364.7 399.7 365.3 400.8 365.9 400.6 366.6 398.9 367.2 396.7 367.8 395.5 368.5 396.9 369.1 400.4 369.8 404.0 370.4 405.0 371.0 402.2 371.7 396.9 372.3 392.6 372.9 392.7 373.6 397.6 374.2 404.3 374.8 408.1 375.5 405.9 376.1 398.8 376.7 391.5 377.4 389.2 378.0 393.7 378.6 402.1 379.3 408.8 379.9 409.1 380.5 402.7 381.2 394.2 381.8 389.3 382.4 391.2 383.1 398.3 383.7 405.5 384.3 408.0 385.0 404.6 385.6 398.0 386.2 393.0 386.9 392.5 387.5 396.5 388.1 401.8 388.8 404.8 389.4 404.1 390.1 400.8 390.7 397.3 391.3 395.8 392.0 396.7 392.6 398.9 393.2 400.5 393.9 400.7 394.5 399.7 395.1 398.4 395.8 397.8 M407.5 398.4 408.2 398.3 408.8 398.5 409.4 398.8 410.1 399.3 410.7 399.7 411.3 400.0 412.0 400.0 412.6 399.8 413.2 399.6 413.9 399.7 414.5 399.9 415.1 400.0 415.8 399.6 416.4 398.8 417.0 397.7 417.7 397.2 418.3 397.7 418.9 399.2 419.6 401.0 420.2 401.8 420.8 400.9 421.5 398.7 422.1 396.7 422.7 396.5 423.4 398.6 424.0 401.8 424.6 403.8 425.3 402.8 425.9 399.1 426.6 395.0 427.2 393.4 427.8 395.8 428.5 400.7 429.1 404.9 429.7 405.5 430.4 401.7 431.0 396.2 431.6 392.7 432.3 393.6 432.9 398.4 433.5 403.6 434.2 405.8 434.8 403.6 435.4 398.6 436.1 394.3 436.7 393.6 437.3 396.5 438.0 400.9 438.6 403.7 439.2 403.4 439.9 400.7 440.5 397.6 441.1 396.2 441.8 397.2 442.4 399.5 443.0 401.3 443.7 401.5 444.3 400.1 444.9 398.3 445.6 397.2 446.2 397.3 446.9 398.3 447.5 399.4 448.1 400.2 M41.0 451.9 41.6 452.3 42.3 452.6 42.9 452.9 43.5 453.1 44.2 453.0 44.8 452.7 45.4 452.3 46.1 451.9 46.7 451.6 47.3 451.6 48.0 451.7 48.6 451.7 49.2 451.5 49.9 451.3 50.5 451.3 51.1 451.8 51.8 452.6 52.4 453.5 53.1 453.8 53.7 453.2 54.3 452.0 55.0 450.8 55.6 450.5 56.2 451.4 56.9 453.0 57.5 454.0 58.1 453.7 58.8 451.9 59.4 449.9 60.0 449.1 60.7 450.3 61.3 452.9 61.9 455.1 62.6 455.4 63.2 453.5 63.8 450.5 64.5 448.6 65.1 449.0 65.7 451.5 66.4 454.4 67.0 455.7 67.6 454.5 68.3 451.8 68.9 449.4 69.5 448.9 70.2 450.6 70.8 453.1 71.5 454.9 72.1 454.7 72.7 453.1 73.4 451.1 74.0 450.1 74.6 450.5 75.3 451.7 75.9 452.8 76.5 452.9 77.2 452.3 77.8 451.4 78.4 451.0 79.1 451.3 79.7 452.1 80.3 452.9 81.0 453.4 81.6 453.3 M93.4 452.6 94.0 452.9 94.6 453.0 95.3 453.0 95.9 452.8 96.5 452.4 97.2 451.9 97.8 451.5 98.4 451.3 99.1 451.3 99.7 451.6 100.3 451.8 101.0 451.9 101.6 451.8 102.2 451.7 102.9 451.9 103.5 452.5 104.1 453.3 104.8 453.8 105.4 453.5 106.0 452.4 106.7 450.9 107.3 450.1 108.0 450.5 108.6 452.1 109.2 453.7 109.9 454.3 110.5 453.1 111.1 450.9 111.8 449.2 112.4 449.4 113.0 451.6 113.7 454.4 114.3 455.9 114.9 454.9 115.6 451.9 116.2 449.0 116.8 448.1 117.5 449.9 118.1 453.2 118.7 455.8 119.4 455.8 120.0 453.4 120.6 450.2 121.3 448.5 121.9 449.3 122.5 451.9 123.2 454.5 123.8 455.4 124.4 454.1 125.1 451.8 125.7 449.9 126.3 449.6 127.0 450.8 127.6 452.3 128.3 453.2 128.9 453.1 129.5 452.2 130.2 451.4 130.8 451.3 131.4 451.9 132.1 452.8 132.7 453.4 133.3 453.4 134.0 452.8 M145.7 451.4 146.4 451.2 147.0 451.1 147.6 451.3 148.3 451.7 148.9 452.1 149.5 452.4 150.2 452.6 150.8 452.6 151.4 452.5 152.1 452.6 152.7 452.8 153.3 453.0 154.0 452.8 154.6 452.1 155.2 451.0 155.9 450.2 156.5 450.3 157.1 451.4 157.8 452.9 158.4 454.0 159.0 453.7 159.7 452.1 160.3 450.3 160.9 449.6 161.6 450.9 162.2 453.6 162.8 455.8 163.5 455.7 164.1 453.1 164.8 449.4 165.4 447.2 166.0 448.2 166.7 452.0 167.3 456.1 167.9 457.6 168.6 455.4 169.2 450.8 169.8 447.1 170.5 446.7 171.1 450.0 171.7 454.6 172.4 457.4 173.0 456.6 173.6 452.8 174.3 448.8 174.9 447.2 175.5 448.8 176.2 452.3 176.8 455.2 177.4 455.8 178.1 454.0 178.7 451.4 179.3 449.8 180.0 450.1 180.6 451.9 181.2 453.6 181.9 454.2 182.5 453.4 183.1 451.8 183.8 450.6 184.4 450.2 185.1 450.8 185.7 451.7 186.3 452.4 M198.1 451.1 198.7 451.2 199.3 451.4 200.0 451.9 200.6 452.4 201.3 452.8 201.9 452.9 202.5 452.8 203.2 452.5 203.8 452.3 204.4 452.4 205.1 452.7 205.7 452.8 206.3 452.4 207.0 451.3 207.6 450.2 208.2 449.7 208.9 450.5 209.5 452.6 210.1 454.6 210.8 455.2 211.4 453.7 212.0 450.8 212.7 448.5 213.3 448.7 213.9 451.8 214.6 455.7 215.2 457.8 215.8 455.9 216.5 451.0 217.1 446.2 217.7 444.9 218.4 448.6 219.0 454.9 219.6 459.7 220.3 459.5 220.9 454.1 221.6 447.2 222.2 443.5 222.8 445.6 223.5 452.1 224.1 458.4 224.7 460.3 225.4 456.7 226.0 450.2 226.6 445.3 227.3 445.2 227.9 449.5 228.5 455.0 229.2 458.1 229.8 457.0 230.4 453.2 231.1 449.3 231.7 448.1 232.3 449.7 233.0 452.6 233.6 454.7 234.2 454.7 234.9 452.9 235.5 450.7 236.1 449.6 236.8 449.9 237.4 451.3 238.0 452.7 238.7 453.4 M250.4 453.0 251.1 452.8 251.7 452.4 252.3 452.0 253.0 451.7 253.6 451.6 254.2 451.7 254.9 451.7 255.5 451.5 256.1 451.1 256.8 451.0 257.4 451.5 258.1 452.6 258.7 453.8 259.3 454.5 260.0 453.9 260.6 452.1 261.2 450.2 261.9 449.5 262.5 450.8 263.1 453.4 263.8 455.6 264.4 455.3 265.0 452.2 265.7 448.2 266.3 446.0 266.9 447.9 267.6 453.1 268.2 458.5 268.8 460.1 269.5 456.2 270.1 449.1 270.7 443.5 271.4 443.6 272.0 449.6 272.6 457.7 273.3 462.3 273.9 460.0 274.5 452.2 275.2 444.4 275.8 441.7 276.4 446.1 277.1 454.3 277.7 460.7 278.4 461.2 279.0 455.7 279.6 448.3 280.3 444.1 280.9 445.5 281.5 450.9 282.2 456.3 282.8 458.2 283.4 455.8 284.1 451.3 284.7 447.9 285.3 447.7 286.0 450.3 286.6 453.6 287.2 455.6 287.9 455.3 288.5 453.4 289.1 451.5 289.8 450.5 290.4 450.8 291.0 451.6 M302.8 452.4 303.4 452.1 304.1 451.8 304.7 451.5 305.3 451.2 306.0 451.0 306.6 451.0 307.2 451.4 307.9 452.2 308.5 453.1 309.1 453.5 309.8 453.2 310.4 452.2 311.0 451.3 311.7 451.2 312.3 452.2 312.9 453.7 313.6 454.4 314.2 453.5 314.9 450.9 315.5 448.2 316.1 447.5 316.8 449.8 317.4 454.2 318.0 457.9 318.7 457.9 319.3 453.8 319.9 447.9 320.6 444.3 321.2 446.0 321.8 452.4 322.5 459.4 323.1 461.8 323.7 457.6 324.4 449.2 325.0 442.3 325.6 441.9 326.3 448.4 326.9 457.5 327.5 463.1 328.2 461.2 328.8 453.3 329.4 444.8 330.1 441.6 330.7 445.5 331.3 453.4 332.0 459.8 332.6 460.6 333.2 455.8 333.9 449.0 334.5 444.9 335.2 445.8 335.8 450.4 336.4 455.4 337.1 457.6 337.7 456.1 338.3 452.7 339.0 449.8 339.6 449.2 340.2 450.7 340.9 452.8 341.5 453.9 342.1 453.5 342.8 452.0 343.4 450.7 M355.2 451.4 355.8 451.7 356.4 452.0 357.1 452.3 357.7 452.4 358.3 452.6 359.0 452.9 359.6 453.2 360.2 453.2 360.9 452.8 361.5 451.9 362.1 450.9 362.8 450.4 363.4 450.7 364.0 451.9 364.7 453.1 365.3 453.6 365.9 452.7 366.6 450.9 367.2 449.6 367.8 450.1 368.5 452.5 369.1 455.6 369.8 457.0 370.4 455.3 371.0 451.0 371.7 446.8 372.3 445.7 372.9 449.1 373.6 455.0 374.2 459.4 374.8 458.9 375.5 453.6 376.1 446.7 376.7 443.1 377.4 445.6 378.0 452.7 378.6 459.6 379.3 461.6 379.9 457.1 380.5 449.3 381.2 443.5 381.8 443.6 382.4 449.3 383.1 456.5 383.7 460.3 384.3 458.4 385.0 452.7 385.6 447.2 386.2 445.5 386.9 448.4 387.5 453.4 388.1 457.0 388.8 457.1 389.4 454.1 390.1 450.4 390.7 448.3 391.3 448.7 392.0 450.9 392.6 453.0 393.2 453.9 393.9 453.3 394.5 452.1 395.1 451.3 395.8 451.5 M407.5 451.3 408.2 451.6 408.8 452.0 409.4 452.5 410.1 452.9 410.7 453.1 411.3 453.0 412.0 452.6 412.6 452.2 413.2 452.0 413.9 452.0 414.5 452.2 415.1 452.2 415.8 451.8 416.4 451.0 417.0 450.3 417.7 450.5 418.3 451.7 418.9 453.5 419.6 454.8 420.2 454.5 420.8 452.6 421.5 450.2 422.1 449.0 422.7 450.1 423.4 453.0 424.0 455.8 424.6 456.3 425.3 453.7 425.9 449.4 426.6 446.4 427.2 447.1 427.8 451.3 428.5 456.4 429.1 458.9 429.7 456.8 430.4 451.4 431.0 446.3 431.6 445.1 432.3 448.6 432.9 454.5 433.5 458.6 434.2 458.2 434.8 453.8 435.4 448.5 436.1 445.9 436.7 447.5 437.3 451.9 438.0 456.1 438.6 457.3 439.2 455.2 439.9 451.6 440.5 448.9 441.1 448.8 441.8 450.8 442.4 453.2 443.0 454.3 443.7 453.6 444.3 451.8 444.9 450.3 445.6 450.0 446.2 450.9 446.9 452.3 447.5 453.4 448.1 453.7 M459.9 451.2 460.5 451.2 461.1 451.4 461.8 451.8 462.4 452.2 463.1 452.6 463.7 452.9 464.3 452.8 465.0 452.7 465.6 452.5 466.2 452.4 466.9 452.5 467.5 452.5 468.1 452.2 468.8 451.4 469.4 450.6 470.0 450.3 470.7 450.9 471.3 452.2 471.9 453.6 472.6 454.2 473.2 453.3 473.8 451.5 474.5 450.0 475.1 450.0 475.7 451.8 476.4 454.3 477.0 455.7 477.6 454.6 478.3 451.5 478.9 448.4 479.5 447.4 480.2 449.6 480.8 453.7 481.4 456.9 482.1 456.9 482.7 453.6 483.4 449.2 484.0 446.7 484.6 447.8 485.3 451.8 485.9 456.0 486.5 457.4 487.2 455.2 487.8 451.1 488.4 447.8 489.1 447.6 489.7 450.2 490.3 453.8 491.0 455.9 491.6 455.4 492.2 453.0 492.9 450.6 493.5 449.7 494.1 450.6 494.8 452.4 495.4 453.8 496.0 453.7 496.7 452.5 497.3 451.1 497.9 450.2 498.6 450.4 499.2 451.4 499.8 452.4 500.5 453.0 M41.0 504.2 41.6 504.5 42.3 504.8 42.9 505.1 43.5 505.3 44.2 505.5 44.8 505.7 45.4 505.9 46.1 505.8 46.7 505.5 47.3 504.9 48.0 504.2 48.6 503.7 49.2 503.8 49.9 504.4 50.5 505.2 51.1 505.5 51.8 505.2 52.4 504.4 53.1 503.7 53.7 504.0 54.3 505.3 55.0 507.0 55.6 507.7 56.2 506.8 56.9 504.4 57.5 502.0 58.1 501.3 58.8 503.1 59.4 506.2 60.0 508.7 60.7 508.7 61.3 505.9 61.9 502.1 62.6 500.1 63.2 501.3 63.8 505.1 64.5 508.9 65.1 510.1 65.7 507.8 66.4 503.6 67.0 500.4 67.6 500.2 68.3 503.2 68.9 507.1 69.5 509.2 70.2 508.4 70.8 505.4 71.5 502.4 72.1 501.4 72.7 502.9 73.4 505.7 74.0 507.7 74.6 507.8 75.3 506.2 75.9 504.1 76.5 502.8 77.2 502.8 77.8 503.9 78.4 505.1 79.1 505.6 79.7 505.4 80.3 504.9 81.0 504.6 81.6 504.8 M93.4 504.1 94.0 504.3 94.6 504.5 95.3 504.8 95.9 505.1 96.5 505.4 97.2 505.6 97.8 505.9 98.4 506.0 99.1 505.8 99.7 505.2 100.3 504.4 101.0 503.8 101.6 503.8 102.2 504.3 102.9 505.1 103.5 505.6 104.1 505.3 104.8 504.3 105.4 503.4 106.0 503.5 106.7 504.9 107.3 506.9 108.0 508.2 108.6 507.5 109.2 505.0 109.9 502.1 110.5 500.8 111.1 502.3 111.8 505.8 112.4 509.0 113.0 509.5 113.7 506.7 114.3 502.4 114.9 499.5 115.6 500.2 116.2 504.2 116.8 508.8 117.5 510.9 118.1 508.9 118.7 504.3 119.4 500.2 120.0 499.3 120.6 502.2 121.3 506.7 121.9 509.6 122.5 509.3 123.2 506.1 123.8 502.5 124.4 500.9 125.1 502.2 125.7 505.2 126.3 507.7 127.0 508.3 127.6 506.8 128.3 504.5 128.9 502.8 129.5 502.6 130.2 503.6 130.8 504.9 131.4 505.6 132.1 505.5 132.7 504.9 133.3 504.4 134.0 504.5 M145.7 504.5 146.4 504.2 147.0 504.0 147.6 504.0 148.3 504.2 148.9 504.6 149.5 505.0 150.2 505.2 150.8 505.2 151.4 505.2 152.1 505.4 152.7 505.7 153.3 506.1 154.0 506.1 154.6 505.4 155.2 504.2 155.9 503.1 156.5 502.8 157.1 503.7 157.8 505.5 158.4 506.9 159.0 506.9 159.7 505.3 160.3 502.9 160.9 501.7 161.6 502.9 162.2 505.9 162.8 509.0 163.5 509.7 164.1 507.1 164.8 502.7 165.4 499.4 166.0 499.6 166.7 503.6 167.3 508.7 167.9 511.5 168.6 509.8 169.2 504.7 169.8 499.7 170.5 498.2 171.1 501.2 171.7 506.7 172.4 510.8 173.0 510.9 173.6 507.0 174.3 502.0 174.9 499.2 175.5 500.3 176.2 504.2 176.8 508.0 177.4 509.3 178.1 507.6 178.7 504.6 179.3 502.3 180.0 502.3 180.6 504.1 181.2 506.3 181.9 507.5 182.5 506.9 183.1 505.2 183.8 503.6 184.4 502.9 185.1 503.3 185.7 504.2 186.3 505.0 M198.1 504.0 198.7 504.0 199.3 504.1 200.0 504.6 200.6 505.1 201.3 505.5 201.9 505.7 202.5 505.6 203.2 505.3 203.8 505.1 204.4 505.2 205.1 505.5 205.7 505.7 206.3 505.3 207.0 504.3 207.6 503.1 208.2 502.5 208.9 503.2 209.5 505.1 210.1 507.2 210.8 508.0 211.4 506.6 212.0 503.9 212.7 501.5 213.3 501.5 213.9 504.3 214.6 508.2 215.2 510.5 215.8 509.0 216.5 504.3 217.1 499.4 217.7 497.8 218.4 501.0 219.0 507.2 219.6 512.2 220.3 512.4 220.9 507.5 221.6 500.7 222.2 496.6 222.8 498.2 223.5 504.3 224.1 510.7 224.7 513.0 225.4 509.9 226.0 503.6 226.6 498.6 227.3 498.0 227.9 501.9 228.5 507.3 229.2 510.6 229.8 509.9 230.4 506.3 231.1 502.5 231.7 501.0 232.3 502.4 233.0 505.2 233.6 507.4 234.2 507.6 234.9 505.9 235.5 503.7 236.1 502.5 236.8 502.7 237.4 503.9 238.0 505.3 238.7 506.1 M250.4 504.9 251.1 505.3 251.7 505.6 252.3 505.9 253.0 506.0 253.6 505.8 254.2 505.2 254.9 504.6 255.5 504.2 256.1 504.2 256.8 504.6 257.4 505.0 258.1 505.0 258.7 504.4 259.3 503.6 260.0 503.3 260.6 504.2 261.2 506.1 261.9 507.9 262.5 508.3 263.1 506.6 263.8 503.4 264.4 500.9 265.0 501.0 265.7 504.0 266.3 508.2 266.9 510.5 267.6 508.9 268.2 504.0 268.8 498.9 269.5 497.4 270.1 501.1 270.7 507.9 271.4 513.2 272.0 513.1 272.6 507.3 273.3 499.7 273.9 495.4 274.5 497.6 275.2 504.7 275.8 511.9 276.4 514.3 277.1 510.4 277.7 503.0 278.4 497.3 279.0 497.0 279.6 501.9 280.3 508.4 280.9 512.1 281.5 510.9 282.2 506.2 282.8 501.3 283.4 499.5 284.1 501.3 284.7 504.9 285.3 507.7 286.0 508.0 286.6 506.1 287.2 503.7 287.9 502.5 288.5 503.1 289.1 504.8 289.8 506.5 290.4 507.1 291.0 506.6 M302.8 505.3 303.4 505.0 304.1 504.7 304.7 504.4 305.3 504.1 306.0 503.8 306.6 503.8 307.2 504.1 307.9 504.9 308.5 505.7 309.1 506.1 309.8 506.0 310.4 505.2 311.0 504.4 311.7 504.2 312.3 505.0 312.9 506.2 313.6 507.0 314.2 506.2 314.9 504.0 315.5 501.6 316.1 500.8 316.8 502.6 317.4 506.4 318.0 509.7 318.7 510.1 319.3 506.8 319.9 501.7 320.6 498.4 321.2 499.4 321.8 504.7 322.5 510.8 323.1 513.3 323.7 510.2 324.4 503.1 325.0 496.9 325.6 495.9 326.3 501.1 326.9 509.0 327.5 514.1 328.2 513.1 328.8 506.6 329.4 499.2 330.1 496.0 330.7 498.8 331.3 505.5 332.0 511.2 332.6 512.4 333.2 508.5 333.9 502.7 334.5 498.9 335.2 499.3 335.8 503.1 336.4 507.4 337.1 509.5 337.7 508.5 338.3 505.7 339.0 503.2 339.6 502.6 340.2 503.7 340.9 505.5 341.5 506.5 342.1 506.2 342.8 504.9 343.4 503.7 M355.2 505.5 355.8 505.7 356.4 505.9 357.1 505.8 357.7 505.6 358.3 505.0 359.0 504.4 359.6 504.0 360.2 503.9 360.9 504.2 361.5 504.8 362.1 505.2 362.8 505.1 363.4 504.5 364.0 504.0 364.7 504.2 365.3 505.3 365.9 506.9 366.6 507.8 367.2 507.1 367.8 504.8 368.5 502.1 369.1 500.8 369.8 502.3 370.4 505.8 371.0 509.1 371.7 509.7 372.3 506.7 372.9 501.8 373.6 498.5 374.2 499.4 374.8 504.5 375.5 510.4 376.1 513.0 376.7 510.2 377.4 503.6 378.0 497.7 378.6 496.5 379.3 501.1 379.9 508.2 380.5 513.1 381.2 512.4 381.8 506.7 382.4 500.1 383.1 497.1 383.7 499.4 384.3 505.2 385.0 510.4 385.6 511.6 386.2 508.5 386.9 503.5 387.5 500.0 388.1 500.0 388.8 502.9 389.4 506.4 390.1 508.1 390.7 507.4 391.3 505.2 392.0 503.3 392.6 503.0 393.2 504.2 393.9 505.8 394.5 506.9 395.1 506.8 395.8 505.7 M407.5 504.9 408.2 505.3 408.8 505.5 409.4 505.6 410.1 505.6 410.7 505.6 411.3 505.6 412.0 505.5 412.6 505.3 413.2 504.7 413.9 503.9 414.5 503.3 415.1 503.4 415.8 504.2 416.4 505.5 417.0 506.4 417.7 506.3 418.3 505.1 418.9 503.6 419.6 503.0 420.2 504.2 420.8 506.5 421.5 508.5 422.1 508.4 422.7 505.6 423.4 501.8 424.0 499.4 424.6 500.5 425.3 504.8 425.9 509.7 426.6 511.6 427.2 508.9 427.8 503.1 428.5 498.1 429.1 497.6 429.7 502.1 430.4 508.8 431.0 513.1 431.6 511.9 432.3 505.9 432.9 499.4 433.5 496.6 434.2 499.5 434.8 505.8 435.4 511.2 436.1 512.1 436.7 508.3 437.3 502.8 438.0 499.2 438.6 499.9 439.2 503.8 439.9 508.0 440.5 509.7 441.1 508.1 441.8 504.7 442.4 501.8 443.0 501.2 443.7 502.7 444.3 505.0 444.9 506.7 445.6 506.8 446.2 505.9 446.9 504.9 447.5 504.4 448.1 504.8 M459.9 505.4 460.5 505.7 461.1 505.8 461.8 505.9 462.4 505.7 463.1 505.3 463.7 504.7 464.3 504.2 465.0 504.0 465.6 504.1 466.2 504.5 466.9 504.9 467.5 504.9 468.1 504.5 468.8 504.1 469.4 504.2 470.0 505.1 470.7 506.4 471.3 507.4 471.9 507.0 472.6 505.3 473.2 503.0 473.8 501.7 474.5 502.5 475.1 505.1 475.7 507.8 476.4 508.7 477.0 506.8 477.6 503.0 478.3 500.1 478.9 500.3 479.5 503.8 480.2 508.6 480.8 511.2 481.4 509.7 482.1 504.8 482.7 499.8 483.4 498.2 484.0 501.1 484.6 506.6 485.3 510.9 485.9 511.1 486.5 507.2 487.2 501.9 487.8 498.9 488.4 500.1 489.1 504.4 489.7 508.7 490.3 510.2 491.0 508.3 491.6 504.5 492.2 501.5 492.9 501.0 493.5 502.9 494.1 505.6 494.8 507.1 495.4 506.8 496.0 505.3 496.7 503.8 497.3 503.4 497.9 504.2 498.6 505.6 499.2 506.5 499.8 506.6 500.5 505.9 M145.7 558.5 146.4 558.6 147.0 558.6 147.6 558.4 148.3 558.1 148.9 557.9 149.5 557.6 150.2 557.4 150.8 557.2 151.4 556.8 152.1 556.6 152.7 556.7 153.3 557.2 154.0 558.1 154.6 558.9 155.2 559.1 155.9 558.6 156.5 557.6 157.1 556.8 157.8 556.9 158.4 557.9 159.0 559.1 159.7 559.6 160.3 558.6 160.9 556.5 161.6 554.7 162.2 554.6 162.8 556.6 163.5 559.6 164.1 561.7 164.8 561.2 165.4 558.3 166.0 554.7 166.7 553.1 167.3 554.6 167.9 558.5 168.6 562.0 169.2 562.7 169.8 560.1 170.5 555.8 171.1 552.9 171.7 553.3 172.4 556.6 173.0 560.6 173.6 562.5 174.3 561.2 174.9 557.8 175.5 554.8 176.2 554.0 176.8 555.8 177.4 558.6 178.1 560.4 178.7 560.2 179.3 558.3 180.0 556.1 180.6 555.2 181.2 555.8 181.9 557.4 182.5 558.9 183.1 559.5 183.8 559.2 184.4 558.3 185.1 557.7 185.7 557.5 186.3 557.7 M198.1 556.8 198.7 557.0 199.3 557.3 200.0 557.8 200.6 558.2 201.3 558.6 201.9 558.6 202.5 558.4 203.2 558.1 203.8 557.9 204.4 557.9 205.1 558.0 205.7 558.0 206.3 557.6 207.0 556.8 207.6 556.0 208.2 555.9 208.9 556.8 209.5 558.5 210.1 560.0 210.8 560.2 211.4 558.8 212.0 556.4 212.7 554.9 213.3 555.4 213.9 558.0 214.6 560.9 215.2 562.0 215.8 560.1 216.5 556.1 217.1 552.6 217.7 552.4 218.4 555.8 219.0 560.8 219.6 564.0 220.3 563.1 220.9 558.4 221.6 553.1 222.2 550.9 222.8 553.4 223.5 558.7 224.1 563.3 224.7 564.0 225.4 560.5 226.0 555.3 226.6 552.0 227.3 552.6 227.9 556.5 228.5 560.7 229.2 562.7 229.8 561.3 230.4 558.0 231.1 555.2 231.7 554.6 232.3 556.2 233.0 558.5 233.6 559.8 234.2 559.5 234.9 557.9 235.5 556.2 236.1 555.6 236.8 556.2 237.4 557.4 238.0 558.6 238.7 559.1 M250.4 558.2 251.1 558.5 251.7 558.7 252.3 558.7 253.0 558.5 253.6 558.1 254.2 557.5 254.9 557.0 255.5 556.8 256.1 557.0 256.8 557.4 257.4 557.8 258.1 557.7 258.7 557.4 259.3 557.0 260.0 557.1 260.6 558.0 261.2 559.3 261.9 560.3 262.5 559.9 263.1 558.0 263.8 555.7 264.4 554.4 265.0 555.3 265.7 558.0 266.3 560.9 266.9 561.7 267.6 559.5 268.2 555.6 268.8 552.6 269.5 553.0 270.1 556.8 270.7 561.7 271.4 564.3 272.0 562.5 272.6 557.4 273.3 552.2 273.9 550.7 274.5 554.0 275.2 559.8 275.8 564.2 276.4 564.1 277.1 559.9 277.7 554.4 278.4 551.4 279.0 552.8 279.6 557.4 280.3 561.8 280.9 563.3 281.5 561.1 282.2 557.1 282.8 554.0 283.4 553.6 284.1 555.7 284.7 558.5 285.3 560.1 286.0 559.7 286.6 558.1 287.2 556.5 287.9 556.1 288.5 557.1 289.1 558.5 289.8 559.4 290.4 559.4 291.0 558.7 M302.8 558.2 303.4 558.5 304.1 558.6 304.7 558.5 305.3 558.3 306.0 558.2 306.6 558.0 307.2 557.8 307.9 557.5 308.5 557.0 309.1 556.5 309.8 556.3 310.4 556.7 311.0 557.7 311.7 558.7 312.3 559.3 312.9 558.9 313.6 557.7 314.2 556.6 314.9 556.5 315.5 557.6 316.1 559.5 316.8 560.5 317.4 559.7 318.0 557.1 318.7 554.3 319.3 553.3 319.9 555.2 320.6 559.1 321.2 562.5 321.8 562.8 322.5 559.6 323.1 554.8 323.7 551.7 324.4 552.7 325.0 557.3 325.6 562.4 326.3 564.5 326.9 562.0 327.5 556.6 328.2 552.0 328.8 551.3 329.4 554.9 330.1 560.2 330.7 563.6 331.3 563.0 332.0 559.1 332.6 554.7 333.2 552.9 333.9 554.4 334.5 558.0 335.2 560.9 335.8 561.4 336.4 559.4 337.1 556.5 337.7 554.6 338.3 554.8 339.0 556.6 339.6 558.6 340.2 559.7 340.9 559.5 341.5 558.5 342.1 557.7 342.8 557.4 343.4 557.7 M355.2 556.9 355.8 557.2 356.4 557.6 357.1 558.1 357.7 558.5 358.3 558.7 359.0 558.6 359.6 558.3 360.2 557.9 360.9 557.6 361.5 557.7 362.1 558.0 362.8 558.0 363.4 557.5 364.0 556.6 364.7 555.8 365.3 555.8 365.9 557.1 366.6 559.2 367.2 560.7 367.8 560.5 368.5 558.4 369.1 555.6 369.8 554.1 370.4 555.3 371.0 558.6 371.7 562.0 372.3 562.7 372.9 559.8 373.6 554.9 374.2 551.3 374.8 551.8 375.5 556.5 376.1 562.4 376.7 565.5 377.4 563.4 378.0 557.3 378.6 551.3 379.3 549.6 379.9 553.4 380.5 560.1 381.2 565.0 381.8 564.9 382.4 560.1 383.1 553.9 383.7 550.6 384.3 552.2 385.0 557.2 385.6 562.1 386.2 563.7 386.9 561.5 387.5 557.3 388.1 554.2 388.8 553.9 389.4 556.1 390.1 558.9 390.7 560.4 391.3 559.7 392.0 557.6 392.6 555.8 393.2 555.3 393.9 556.3 394.5 557.8 395.1 559.0 395.8 559.4 M198.1 609.8 198.7 610.0 199.3 610.4 200.0 610.9 200.6 611.3 201.3 611.5 201.9 611.5 202.5 611.2 203.2 610.8 203.8 610.6 204.4 610.5 205.1 610.6 205.7 610.5 206.3 610.2 207.0 609.5 207.6 609.0 208.2 609.2 208.9 610.2 209.5 611.6 210.1 612.7 210.8 612.6 211.4 611.2 212.0 609.3 212.7 608.2 213.3 608.9 213.9 611.1 214.6 613.3 215.2 613.8 215.8 611.9 216.5 608.6 217.1 606.2 217.7 606.6 218.4 609.7 219.0 613.8 219.6 615.8 220.3 614.3 220.9 610.2 221.6 606.2 222.2 605.1 222.8 607.7 223.5 612.2 224.1 615.5 224.7 615.4 225.4 612.1 226.0 607.9 226.6 605.7 227.3 606.9 227.9 610.3 228.5 613.6 229.2 614.7 229.8 613.1 230.4 610.3 231.1 608.3 231.7 608.1 232.3 609.5 233.0 611.3 233.6 612.2 234.2 611.7 234.9 610.3 235.5 609.1 236.1 608.8 236.8 609.5 237.4 610.6 238.0 611.6 238.7 611.9 M250.4 609.7 251.1 609.8 251.7 609.9 252.3 610.1 253.0 610.3 253.6 610.6 254.2 611.0 254.9 611.4 255.5 611.7 256.1 611.7 256.8 611.3 257.4 610.5 258.1 609.8 258.7 609.5 259.3 609.9 260.0 610.6 260.6 611.2 261.2 611.0 261.9 610.0 262.5 608.9 263.1 608.6 263.8 609.9 264.4 612.1 265.0 613.9 265.7 613.9 266.3 611.6 266.9 608.3 267.6 606.3 268.2 607.1 268.8 610.5 269.5 614.3 270.1 615.8 270.7 613.6 271.4 609.1 272.0 605.2 272.6 604.8 273.3 608.4 273.9 613.6 274.5 616.8 275.2 615.8 275.8 611.3 276.4 606.4 277.1 604.4 277.7 606.6 278.4 611.2 279.0 615.0 279.6 615.6 280.3 612.8 280.9 608.8 281.5 606.4 282.2 607.0 282.8 609.8 283.4 612.9 284.1 614.3 284.7 613.2 285.3 610.9 286.0 608.9 286.6 608.2 287.2 609.0 287.9 610.3 288.5 611.2 289.1 611.1 289.8 610.5 290.4 609.9 291.0 609.8 M302.8 609.6 303.4 609.7 304.1 609.9 304.7 610.3 305.3 610.8 306.0 611.2 306.6 611.4 307.2 611.3 307.9 611.0 308.5 610.8 309.1 610.9 309.8 611.0 310.4 611.1 311.0 610.7 311.7 609.8 312.3 608.9 312.9 608.5 313.6 609.2 314.2 610.9 314.9 612.5 315.5 613.1 316.1 611.9 316.8 609.7 317.4 607.8 318.0 608.0 318.7 610.3 319.3 613.4 319.9 615.0 320.6 613.6 321.2 609.7 321.8 605.9 322.5 604.9 323.1 607.7 323.7 612.7 324.4 616.6 325.0 616.4 325.6 612.2 326.3 606.8 326.9 603.8 327.5 605.4 328.2 610.5 328.8 615.5 329.4 617.1 330.1 614.2 330.7 609.1 331.3 605.2 332.0 605.1 332.6 608.4 333.2 612.8 333.9 615.3 334.5 614.5 335.2 611.5 335.8 608.5 336.4 607.5 337.1 608.7 337.7 611.0 338.3 612.6 339.0 612.6 339.6 611.1 340.2 609.3 340.9 608.4 341.5 608.7 342.1 609.8 342.8 611.0 343.4 611.7 M250.4 662.8 251.1 662.5 251.7 662.4 252.3 662.5 253.0 662.9 253.6 663.4 254.2 663.7 254.9 663.8 255.5 663.8 256.1 663.7 256.8 663.8 257.4 664.2 258.1 664.5 258.7 664.3 259.3 663.5 260.0 662.3 260.6 661.3 261.2 661.3 261.9 662.5 262.5 664.4 263.1 665.7 263.8 665.4 264.4 663.4 265.0 661.0 265.7 660.1 266.3 661.7 266.9 665.1 267.6 667.9 268.2 668.0 268.8 664.8 269.5 660.2 270.1 657.3 270.7 658.4 271.4 663.0 272.0 668.2 272.6 670.2 273.3 667.6 273.9 662.0 274.5 657.2 275.2 656.6 275.8 660.5 276.4 666.3 277.1 670.0 277.7 669.1 278.4 664.5 279.0 659.4 279.6 657.3 280.3 659.2 280.9 663.5 281.5 667.2 282.2 668.0 282.8 665.8 283.4 662.5 284.1 660.4 284.7 660.8 285.3 662.9 286.0 665.1 286.6 666.0 287.2 665.0 287.9 663.2 288.5 661.7 289.1 661.2 289.8 661.9 290.4 662.9 291.0 663.8" stroke="#ff1010" stroke-width="0.90" fill="none" stroke-linejoin="round"/>
<path d="M198.1 188.0 198.7 187.9 199.3 187.9 200.0 187.9 200.6 188.0 201.3 188.1 201.9 188.1 202.5 188.1 203.2 187.9 203.8 187.8 204.4 187.8 205.1 188.0 205.7 188.2 206.3 188.3 207.0 188.2 207.6 188.0 208.2 187.7 208.9 187.6 209.5 187.7 210.1 188.1 210.8 188.5 211.4 188.6 212.0 188.2 212.7 187.7 213.3 187.2 213.9 187.3 214.6 187.9 215.2 188.6 215.8 189.0 216.5 188.7 217.1 187.9 217.7 187.1 218.4 186.9 219.0 187.4 219.6 188.4 220.3 189.2 220.9 189.1 221.6 188.3 222.2 187.3 222.8 186.7 223.5 187.0 224.1 188.0 224.7 188.9 225.4 189.2 226.0 188.7 226.6 187.7 227.3 187.0 227.9 187.0 228.5 187.6 229.2 188.4 229.8 188.9 230.4 188.7 231.1 188.1 231.7 187.5 232.3 187.3 233.0 187.5 233.6 188.1 234.2 188.4 234.9 188.5 235.5 188.2 236.1 187.9 236.8 187.6 237.4 187.7 238.0 187.9 238.7 188.1 M250.4 188.0 251.1 188.1 251.7 188.1 252.3 188.1 253.0 188.0 253.6 187.9 254.2 187.9 254.9 187.9 255.5 188.0 256.1 188.2 256.8 188.2 257.4 188.1 258.1 187.9 258.7 187.7 259.3 187.7 260.0 187.9 260.6 188.2 261.2 188.4 261.9 188.3 262.5 188.0 263.1 187.6 263.8 187.4 264.4 187.7 265.0 188.2 265.7 188.7 266.3 188.8 266.9 188.3 267.6 187.5 268.2 187.0 268.8 187.2 269.5 187.9 270.1 188.8 270.7 189.2 271.4 188.8 272.0 187.8 272.6 186.9 273.3 186.8 273.9 187.5 274.5 188.5 275.2 189.2 275.8 189.1 276.4 188.3 277.1 187.2 277.7 186.8 278.4 187.1 279.0 188.0 279.6 188.9 280.3 189.1 280.9 188.6 281.5 187.7 282.2 187.2 282.8 187.2 283.4 187.7 284.1 188.4 284.7 188.7 285.3 188.5 286.0 188.1 286.6 187.6 287.2 187.5 287.9 187.7 288.5 188.1 289.1 188.3 289.8 188.3 290.4 188.1 291.0 187.9 M302.8 187.9 303.4 187.9 304.1 188.0 304.7 188.1 305.3 188.1 306.0 188.1 306.6 188.0 307.2 187.9 307.9 187.8 308.5 187.9 309.1 188.1 309.8 188.2 310.4 188.2 311.0 188.1 311.7 187.8 312.3 187.7 312.9 187.7 313.6 188.0 314.2 188.3 314.9 188.5 315.5 188.4 316.1 187.9 316.8 187.5 317.4 187.3 318.0 187.6 318.7 188.3 319.3 188.8 319.9 188.8 320.6 188.2 321.2 187.4 321.8 186.9 322.5 187.1 323.1 188.0 323.7 188.9 324.4 189.2 325.0 188.7 325.6 187.7 326.3 186.9 326.9 186.8 327.5 187.5 328.2 188.6 328.8 189.2 329.4 189.1 330.1 188.2 330.7 187.2 331.3 186.8 332.0 187.2 332.6 188.1 333.2 188.8 333.9 189.0 334.5 188.5 335.2 187.7 335.8 187.2 336.4 187.3 337.1 187.8 337.7 188.3 338.3 188.6 339.0 188.4 339.6 188.0 340.2 187.7 340.9 187.6 341.5 187.8 342.1 188.1 342.8 188.3 343.4 188.3 M145.7 240.7 146.4 240.7 147.0 240.8 147.6 240.9 148.3 240.9 148.9 240.9 149.5 240.8 150.2 240.7 150.8 240.6 151.4 240.7 152.1 240.9 152.7 241.0 153.3 241.1 154.0 240.9 154.6 240.7 155.2 240.5 155.9 240.5 156.5 240.8 157.1 241.2 157.8 241.3 158.4 241.2 159.0 240.7 159.7 240.3 160.3 240.1 160.9 240.5 161.6 241.1 162.2 241.7 162.8 241.6 163.5 241.0 164.1 240.2 164.8 239.7 165.4 240.0 166.0 240.9 166.7 241.8 167.3 242.0 167.9 241.5 168.6 240.5 169.2 239.7 169.8 239.6 170.5 240.4 171.1 241.4 171.7 242.1 172.4 241.8 173.0 240.9 173.6 240.0 174.3 239.7 174.9 240.1 175.5 241.0 176.2 241.7 176.8 241.8 177.4 241.2 178.1 240.5 178.7 240.1 179.3 240.1 180.0 240.7 180.6 241.2 181.2 241.4 181.9 241.2 182.5 240.8 183.1 240.5 183.8 240.4 184.4 240.6 185.1 240.9 185.7 241.1 186.3 241.1 M198.1 240.7 198.7 240.7 199.3 240.8 200.0 240.9 200.6 240.9 201.3 240.9 201.9 240.8 202.5 240.7 203.2 240.7 203.8 240.8 204.4 240.9 205.1 241.1 205.7 241.0 206.3 240.9 207.0 240.6 207.6 240.5 208.2 240.6 208.9 240.9 209.5 241.2 210.1 241.3 210.8 241.1 211.4 240.6 212.0 240.2 212.7 240.2 213.3 240.6 213.9 241.3 214.6 241.7 215.2 241.5 215.8 240.8 216.5 240.0 217.1 239.7 217.7 240.2 218.4 241.1 219.0 241.9 219.6 242.0 220.3 241.3 220.9 240.2 221.6 239.6 222.2 239.7 222.8 240.6 223.5 241.7 224.1 242.1 224.7 241.7 225.4 240.7 226.0 239.9 226.6 239.7 227.3 240.3 227.9 241.2 228.5 241.8 229.2 241.7 229.8 241.1 230.4 240.4 231.1 240.0 231.7 240.2 232.3 240.8 233.0 241.3 233.6 241.4 234.2 241.2 234.9 240.7 235.5 240.4 236.1 240.4 236.8 240.7 237.4 241.0 238.0 241.1 238.7 241.1 M250.4 240.8 251.1 240.9 251.7 240.9 252.3 240.9 253.0 240.8 253.6 240.7 254.2 240.7 254.9 240.7 255.5 240.9 256.1 241.0 256.8 241.0 257.4 240.9 258.1 240.7 258.7 240.5 259.3 240.5 260.0 240.8 260.6 241.1 261.2 241.2 261.9 241.2 262.5 240.8 263.1 240.4 263.8 240.2 264.4 240.5 265.0 241.0 265.7 241.5 266.3 241.6 266.9 241.1 267.6 240.4 268.2 239.9 268.8 240.0 269.5 240.7 270.1 241.6 270.7 242.0 271.4 241.6 272.0 240.6 272.6 239.8 273.3 239.6 273.9 240.2 274.5 241.3 275.2 242.0 275.8 242.0 276.4 241.1 277.1 240.1 277.7 239.6 278.4 239.9 279.0 240.8 279.6 241.7 280.3 241.9 280.9 241.4 281.5 240.6 282.2 240.0 282.8 240.0 283.4 240.5 284.1 241.2 284.7 241.5 285.3 241.4 286.0 240.9 286.6 240.5 287.2 240.3 287.9 240.5 288.5 240.9 289.1 241.1 289.8 241.2 290.4 241.0 291.0 240.7 M302.8 240.7 303.4 240.7 304.1 240.8 304.7 240.8 305.3 240.9 306.0 240.9 306.6 240.9 307.2 240.7 307.9 240.6 308.5 240.7 309.1 240.8 309.8 241.0 310.4 241.1 311.0 241.0 311.7 240.8 312.3 240.5 312.9 240.4 313.6 240.6 314.2 241.0 314.9 241.3 315.5 241.3 316.1 241.0 316.8 240.5 317.4 240.1 318.0 240.2 318.7 240.8 319.3 241.5 319.9 241.8 320.6 241.4 321.2 240.6 321.8 239.9 322.5 239.7 323.1 240.3 323.7 241.3 324.4 242.0 325.0 241.9 325.6 241.1 326.3 240.0 326.9 239.5 327.5 239.9 328.2 240.9 328.8 241.8 329.4 242.1 330.1 241.5 330.7 240.5 331.3 239.8 332.0 239.8 332.6 240.5 333.2 241.3 333.9 241.8 334.5 241.6 335.2 240.9 335.8 240.3 336.4 240.1 337.1 240.4 337.7 240.9 338.3 241.3 339.0 241.4 339.6 241.0 340.2 240.6 340.9 240.4 341.5 240.5 342.1 240.7 342.8 241.0 343.4 241.1 M355.2 240.7 355.8 240.8 356.4 240.8 357.1 240.9 357.7 240.9 358.3 240.9 359.0 240.8 359.6 240.7 360.2 240.7 360.9 240.8 361.5 241.0 362.1 241.1 362.8 241.0 363.4 240.8 364.0 240.6 364.7 240.5 365.3 240.6 365.9 240.9 366.6 241.2 367.2 241.3 367.8 241.0 368.5 240.5 369.1 240.2 369.8 240.2 370.4 240.8 371.0 241.4 371.7 241.7 372.3 241.4 372.9 240.7 373.6 240.0 374.2 239.8 374.8 240.3 375.5 241.3 376.1 242.0 376.7 241.9 377.4 241.1 378.0 240.1 378.6 239.5 379.3 239.9 379.9 240.8 380.5 241.8 381.2 242.1 381.8 241.5 382.4 240.5 383.1 239.8 383.7 239.7 384.3 240.4 385.0 241.3 385.6 241.8 386.2 241.6 386.9 240.9 387.5 240.2 388.1 240.0 388.8 240.3 389.4 240.9 390.1 241.4 390.7 241.4 391.3 241.1 392.0 240.6 392.6 240.4 393.2 240.4 393.9 240.7 394.5 241.0 395.1 241.1 395.8 241.0 M41.0 293.6 41.6 293.7 42.3 293.7 42.9 293.7 43.5 293.7 44.2 293.6 44.8 293.5 45.4 293.5 46.1 293.6 46.7 293.8 47.3 293.9 48.0 293.8 48.6 293.6 49.2 293.4 49.9 293.3 50.5 293.5 51.1 293.8 51.8 294.1 52.4 294.0 53.1 293.7 53.7 293.3 54.3 293.0 55.0 293.2 55.6 293.7 56.2 294.3 56.9 294.5 57.5 294.1 58.1 293.4 58.8 292.7 59.4 292.7 60.0 293.3 60.7 294.2 61.3 294.8 61.9 294.6 62.6 293.7 63.2 292.8 63.8 292.4 64.5 292.8 65.1 293.9 65.7 294.7 66.4 294.9 67.0 294.2 67.6 293.1 68.3 292.5 68.9 292.6 69.5 293.4 70.2 294.3 70.8 294.7 71.5 294.4 72.1 293.6 72.7 292.9 73.4 292.8 74.0 293.2 74.6 293.8 75.3 294.3 75.9 294.2 76.5 293.8 77.2 293.4 77.8 293.1 78.4 293.3 79.1 293.6 79.7 293.9 80.3 294.0 81.0 293.8 81.6 293.6 M93.4 293.7 94.0 293.7 94.6 293.7 95.3 293.6 95.9 293.5 96.5 293.5 97.2 293.6 97.8 293.8 98.4 293.8 99.1 293.8 99.7 293.6 100.3 293.4 101.0 293.4 101.6 293.5 102.2 293.8 102.9 294.0 103.5 294.0 104.1 293.7 104.8 293.4 105.4 293.1 106.0 293.2 106.7 293.7 107.3 294.2 108.0 294.4 108.6 294.1 109.2 293.4 109.9 292.8 110.5 292.8 111.1 293.3 111.8 294.1 112.4 294.7 113.0 294.6 113.7 293.8 114.3 292.8 114.9 292.4 115.6 292.8 116.2 293.8 116.8 294.7 117.5 294.9 118.1 294.2 118.7 293.2 119.4 292.4 120.0 292.5 120.6 293.3 121.3 294.3 121.9 294.8 122.5 294.5 123.2 293.7 123.8 292.9 124.4 292.7 125.1 293.1 125.7 293.8 126.3 294.4 127.0 294.4 127.6 293.9 128.3 293.3 128.9 293.1 129.5 293.2 130.2 293.6 130.8 293.9 131.4 294.1 132.1 293.9 132.7 293.6 133.3 293.4 134.0 293.4 M145.7 293.7 146.4 293.6 147.0 293.5 147.6 293.5 148.3 293.6 148.9 293.7 149.5 293.8 150.2 293.8 150.8 293.6 151.4 293.5 152.1 293.4 152.7 293.5 153.3 293.7 154.0 293.9 154.6 293.9 155.2 293.8 155.9 293.5 156.5 293.2 157.1 293.2 157.8 293.6 158.4 294.0 159.0 294.3 159.7 294.1 160.3 293.6 160.9 293.0 161.6 292.8 162.2 293.2 162.8 293.9 163.5 294.6 164.1 294.6 164.8 293.9 165.4 293.0 166.0 292.5 166.7 292.7 167.3 293.6 167.9 294.5 168.6 294.9 169.2 294.4 169.8 293.4 170.5 292.5 171.1 292.4 171.7 293.1 172.4 294.2 173.0 294.8 173.6 294.7 174.3 293.8 174.9 292.9 175.5 292.6 176.2 292.9 176.8 293.7 177.4 294.4 178.1 294.5 178.7 294.1 179.3 293.4 180.0 293.0 180.6 293.0 181.2 293.5 181.9 293.9 182.5 294.1 183.1 294.0 183.8 293.7 184.4 293.4 185.1 293.3 185.7 293.4 186.3 293.7 M198.1 293.6 198.7 293.6 199.3 293.7 200.0 293.8 200.6 293.7 201.3 293.6 201.9 293.5 202.5 293.5 203.2 293.6 203.8 293.7 204.4 293.8 205.1 293.9 205.7 293.7 206.3 293.5 207.0 293.3 207.6 293.4 208.2 293.6 208.9 293.9 209.5 294.1 210.1 294.0 210.8 293.5 211.4 293.1 212.0 293.0 212.7 293.3 213.3 294.0 213.9 294.4 214.6 294.4 215.2 293.8 215.8 293.0 216.5 292.6 217.1 292.9 217.7 293.7 218.4 294.6 219.0 294.8 219.6 294.3 220.3 293.3 220.9 292.5 221.6 292.4 222.2 293.2 222.8 294.3 223.5 294.9 224.1 294.7 224.7 293.8 225.4 292.8 226.0 292.4 226.6 292.9 227.3 293.8 227.9 294.5 228.5 294.6 229.2 294.1 229.8 293.3 230.4 292.8 231.1 292.9 231.7 293.5 232.3 294.1 233.0 294.3 233.6 294.1 234.2 293.6 234.9 293.3 235.5 293.2 236.1 293.4 236.8 293.7 237.4 293.9 238.0 293.9 238.7 293.7 M250.4 293.5 251.1 293.6 251.7 293.7 252.3 293.8 253.0 293.7 253.6 293.7 254.2 293.5 254.9 293.5 255.5 293.5 256.1 293.7 256.8 293.8 257.4 293.9 258.1 293.8 258.7 293.5 259.3 293.3 260.0 293.3 260.6 293.5 261.2 293.9 261.9 294.1 262.5 294.0 263.1 293.6 263.8 293.2 264.4 293.0 265.0 293.2 265.7 293.8 266.3 294.4 266.9 294.5 267.6 294.0 268.2 293.2 268.8 292.6 269.5 292.7 270.1 293.5 270.7 294.4 271.4 294.8 272.0 294.5 272.6 293.5 273.3 292.6 273.9 292.4 274.5 293.0 275.2 294.1 275.8 294.8 276.4 294.8 277.1 294.0 277.7 293.0 278.4 292.5 279.0 292.7 279.6 293.6 280.3 294.4 280.9 294.7 281.5 294.2 282.2 293.5 282.8 292.9 283.4 292.9 284.1 293.3 284.7 293.9 285.3 294.3 286.0 294.2 286.6 293.7 287.2 293.3 287.9 293.2 288.5 293.3 289.1 293.7 289.8 293.9 290.4 294.0 291.0 293.8 M302.8 293.7 303.4 293.7 304.1 293.6 304.7 293.5 305.3 293.5 306.0 293.6 306.6 293.8 307.2 293.8 307.9 293.7 308.5 293.6 309.1 293.4 309.8 293.4 310.4 293.5 311.0 293.8 311.7 294.0 312.3 293.9 312.9 293.7 313.6 293.4 314.2 293.2 314.9 293.3 315.5 293.7 316.1 294.1 316.8 294.3 317.4 294.0 318.0 293.4 318.7 292.9 319.3 292.9 319.9 293.4 320.6 294.2 321.2 294.7 321.8 294.5 322.5 293.7 323.1 292.8 323.7 292.4 324.4 292.9 325.0 293.9 325.6 294.8 326.3 294.9 326.9 294.1 327.5 293.1 328.2 292.4 328.8 292.6 329.4 293.4 330.1 294.4 330.7 294.8 331.3 294.4 332.0 293.5 332.6 292.8 333.2 292.6 333.9 293.1 334.5 293.9 335.2 294.4 335.8 294.4 336.4 293.9 337.1 293.3 337.7 293.0 338.3 293.2 339.0 293.6 339.6 294.0 340.2 294.1 340.9 293.9 341.5 293.6 342.1 293.3 342.8 293.3 343.4 293.5 M355.2 293.7 355.8 293.6 356.4 293.6 357.1 293.5 357.7 293.6 358.3 293.7 359.0 293.8 359.6 293.8 360.2 293.7 360.9 293.6 361.5 293.4 362.1 293.4 362.8 293.6 363.4 293.8 364.0 294.0 364.7 293.9 365.3 293.6 365.9 293.3 366.6 293.2 367.2 293.4 367.8 293.8 368.5 294.2 369.1 294.2 369.8 293.8 370.4 293.2 371.0 292.8 371.7 293.0 372.3 293.6 372.9 294.3 373.6 294.7 374.2 294.3 374.8 293.4 375.5 292.6 376.1 292.5 376.7 293.1 377.4 294.2 378.0 294.9 378.6 294.8 379.3 293.9 379.9 292.8 380.5 292.4 381.2 292.7 381.8 293.7 382.4 294.6 383.1 294.8 383.7 294.3 384.3 293.3 385.0 292.7 385.6 292.7 386.2 293.3 386.9 294.1 387.5 294.5 388.1 294.3 388.8 293.7 389.4 293.2 390.1 293.0 390.7 293.3 391.3 293.7 392.0 294.1 392.6 294.1 393.2 293.8 393.9 293.5 394.5 293.3 395.1 293.4 395.8 293.6 M407.5 293.7 408.2 293.6 408.8 293.5 409.4 293.5 410.1 293.6 410.7 293.7 411.3 293.8 412.0 293.8 412.6 293.6 413.2 293.5 413.9 293.4 414.5 293.5 415.1 293.7 415.8 293.9 416.4 293.9 417.0 293.7 417.7 293.4 418.3 293.2 418.9 293.3 419.6 293.6 420.2 294.0 420.8 294.3 421.5 294.1 422.1 293.5 422.7 293.0 423.4 292.8 424.0 293.3 424.6 294.0 425.3 294.6 425.9 294.5 426.6 293.9 427.2 293.0 427.8 292.5 428.5 292.8 429.1 293.7 429.7 294.6 430.4 294.9 431.0 294.4 431.6 293.3 432.3 292.5 432.9 292.4 433.5 293.2 434.2 294.2 434.8 294.8 435.4 294.6 436.1 293.8 436.7 292.9 437.3 292.6 438.0 293.0 438.6 293.8 439.2 294.4 439.9 294.5 440.5 294.0 441.1 293.4 441.8 293.0 442.4 293.1 443.0 293.5 443.7 293.9 444.3 294.1 444.9 294.0 445.6 293.6 446.2 293.4 446.9 293.3 447.5 293.5 448.1 293.7 M459.9 293.7 460.5 293.7 461.1 293.7 461.8 293.6 462.4 293.5 463.1 293.5 463.7 293.6 464.3 293.7 465.0 293.8 465.6 293.8 466.2 293.7 466.9 293.5 467.5 293.4 468.1 293.4 468.8 293.6 469.4 293.9 470.0 294.0 470.7 293.9 471.3 293.6 471.9 293.2 472.6 293.1 473.2 293.3 473.8 293.9 474.5 294.3 475.1 294.3 475.7 293.9 476.4 293.2 477.0 292.7 477.6 292.9 478.3 293.6 478.9 294.4 479.5 294.8 480.2 294.4 480.8 293.4 481.4 292.6 482.1 292.4 482.7 293.1 483.4 294.2 484.0 294.9 484.6 294.8 485.3 293.9 485.9 292.9 486.5 292.4 487.2 292.8 487.8 293.7 488.4 294.5 489.1 294.7 489.7 294.2 490.3 293.4 491.0 292.8 491.6 292.8 492.2 293.4 492.9 294.0 493.5 294.4 494.1 294.2 494.8 293.7 495.4 293.2 496.0 293.1 496.7 293.3 497.3 293.7 497.9 294.0 498.6 294.0 499.2 293.8 499.8 293.5 500.5 293.4 M41.0 346.5 41.6 346.6 42.3 346.5 42.9 346.4 43.5 346.4 44.2 346.3 44.8 346.4 45.4 346.5 46.1 346.6 46.7 346.6 47.3 346.5 48.0 346.3 48.6 346.2 49.2 346.3 49.9 346.5 50.5 346.7 51.1 346.8 51.8 346.7 52.4 346.3 53.1 346.0 53.7 345.9 54.3 346.3 55.0 346.8 55.6 347.2 56.2 347.1 56.9 346.5 57.5 345.9 58.1 345.5 58.8 345.8 59.4 346.6 60.0 347.4 60.7 347.6 61.3 347.0 61.9 346.0 62.6 345.3 63.2 345.4 63.8 346.2 64.5 347.2 65.1 347.8 65.7 347.4 66.4 346.4 67.0 345.5 67.6 345.2 68.3 345.8 68.9 346.8 69.5 347.5 70.2 347.5 70.8 346.8 71.5 346.0 72.1 345.5 72.7 345.7 73.4 346.3 74.0 347.0 74.6 347.2 75.3 346.9 75.9 346.4 76.5 346.0 77.2 345.9 77.8 346.2 78.4 346.6 79.1 346.9 79.7 346.8 80.3 346.6 81.0 346.3 81.6 346.2 M93.4 346.4 94.0 346.4 94.6 346.5 95.3 346.6 95.9 346.6 96.5 346.5 97.2 346.4 97.8 346.3 98.4 346.3 99.1 346.4 99.7 346.6 100.3 346.7 101.0 346.7 101.6 346.5 102.2 346.2 102.9 346.1 103.5 346.2 104.1 346.5 104.8 346.9 105.4 347.0 106.0 346.7 106.7 346.2 107.3 345.8 108.0 345.8 108.6 346.3 109.2 347.0 109.9 347.3 110.5 347.1 111.1 346.4 111.8 345.6 112.4 345.4 113.0 345.9 113.7 346.8 114.3 347.6 114.9 347.6 115.6 346.8 116.2 345.8 116.8 345.2 117.5 345.4 118.1 346.4 118.7 347.4 119.4 347.7 120.0 347.3 120.6 346.3 121.3 345.4 121.9 345.3 122.5 346.0 123.2 346.9 123.8 347.4 124.4 347.3 125.1 346.7 125.7 345.9 126.3 345.6 127.0 345.9 127.6 346.5 128.3 347.0 128.9 347.1 129.5 346.8 130.2 346.3 130.8 346.0 131.4 346.1 132.1 346.3 132.7 346.6 133.3 346.8 134.0 346.7 M145.7 346.4 146.4 346.4 147.0 346.5 147.6 346.6 148.3 346.6 148.9 346.5 149.5 346.4 150.2 346.3 150.8 346.3 151.4 346.4 152.1 346.6 152.7 346.7 153.3 346.6 154.0 346.4 154.6 346.2 155.2 346.1 155.9 346.3 156.5 346.6 157.1 346.9 157.8 346.9 158.4 346.6 159.0 346.1 159.7 345.8 160.3 345.9 160.9 346.4 161.6 347.0 162.2 347.3 162.8 347.0 163.5 346.3 164.1 345.6 164.8 345.4 165.4 346.0 166.0 346.9 166.7 347.6 167.3 347.5 167.9 346.7 168.6 345.7 169.2 345.2 169.8 345.5 170.5 346.5 171.1 347.5 171.7 347.7 172.4 347.1 173.0 346.1 173.6 345.4 174.3 345.4 174.9 346.1 175.5 347.0 176.2 347.5 176.8 347.2 177.4 346.5 178.1 345.9 178.7 345.6 179.3 346.0 180.0 346.6 180.6 347.0 181.2 347.0 181.9 346.7 182.5 346.3 183.1 346.0 183.8 346.1 184.4 346.4 185.1 346.7 185.7 346.8 186.3 346.7 M198.1 346.5 198.7 346.4 199.3 346.4 200.0 346.4 200.6 346.4 201.3 346.5 201.9 346.6 202.5 346.6 203.2 346.5 203.8 346.3 204.4 346.2 205.1 346.3 205.7 346.5 206.3 346.7 207.0 346.8 207.6 346.6 208.2 346.3 208.9 346.1 209.5 346.0 210.1 346.3 210.8 346.8 211.4 347.1 212.0 347.0 212.7 346.4 213.3 345.9 213.9 345.6 214.6 346.0 215.2 346.7 215.8 347.3 216.5 347.4 217.1 346.8 217.7 345.9 218.4 345.3 219.0 345.5 219.6 346.3 220.3 347.3 220.9 347.7 221.6 347.3 222.2 346.3 222.8 345.4 223.5 345.2 224.1 345.9 224.7 346.9 225.4 347.6 226.0 347.5 226.6 346.8 227.3 345.8 227.9 345.4 228.5 345.7 229.2 346.4 229.8 347.1 230.4 347.3 231.1 346.9 231.7 346.3 232.3 345.8 233.0 345.8 233.6 346.2 234.2 346.7 234.9 346.9 235.5 346.9 236.1 346.5 236.8 346.2 237.4 346.1 238.0 346.2 238.7 346.5 M250.4 346.6 251.1 346.5 251.7 346.4 252.3 346.3 253.0 346.4 253.6 346.5 254.2 346.6 254.9 346.6 255.5 346.6 256.1 346.4 256.8 346.3 257.4 346.2 258.1 346.4 258.7 346.6 259.3 346.8 260.0 346.8 260.6 346.5 261.2 346.2 261.9 346.0 262.5 346.1 263.1 346.5 263.8 346.9 264.4 347.1 265.0 346.8 265.7 346.2 266.3 345.7 266.9 345.6 267.6 346.2 268.2 347.0 268.8 347.5 269.5 347.3 270.1 346.6 270.7 345.7 271.4 345.3 272.0 345.7 272.6 346.7 273.3 347.5 273.9 347.7 274.5 347.0 275.2 346.0 275.8 345.2 276.4 345.3 277.1 346.2 277.7 347.2 278.4 347.7 279.0 347.3 279.6 346.4 280.3 345.6 280.9 345.4 281.5 345.9 282.2 346.7 282.8 347.2 283.4 347.2 284.1 346.7 284.7 346.1 285.3 345.8 286.0 346.0 286.6 346.4 287.2 346.8 287.9 346.9 288.5 346.7 289.1 346.4 289.8 346.2 290.4 346.2 291.0 346.3 M302.8 346.5 303.4 346.6 304.1 346.5 304.7 346.4 305.3 346.3 306.0 346.3 306.6 346.4 307.2 346.5 307.9 346.6 308.5 346.6 309.1 346.5 309.8 346.3 310.4 346.2 311.0 346.3 311.7 346.5 312.3 346.8 312.9 346.8 313.6 346.6 314.2 346.3 314.9 346.0 315.5 346.0 316.1 346.3 316.8 346.9 317.4 347.2 318.0 347.0 318.7 346.4 319.3 345.8 319.9 345.5 320.6 345.9 321.2 346.7 321.8 347.4 322.5 347.5 323.1 346.9 323.7 345.9 324.4 345.3 325.0 345.4 325.6 346.3 326.3 347.3 326.9 347.8 327.5 347.3 328.2 346.3 328.8 345.4 329.4 345.2 330.1 345.9 330.7 346.9 331.3 347.5 332.0 347.5 332.6 346.7 333.2 345.9 333.9 345.5 334.5 345.8 335.2 346.5 335.8 347.1 336.4 347.2 337.1 346.9 337.7 346.3 338.3 345.9 339.0 345.9 339.6 346.3 340.2 346.7 340.9 346.9 341.5 346.8 342.1 346.5 342.8 346.3 343.4 346.2 M355.2 346.4 355.8 346.5 356.4 346.6 357.1 346.6 357.7 346.5 358.3 346.4 359.0 346.3 359.6 346.3 360.2 346.4 360.9 346.6 361.5 346.7 362.1 346.6 362.8 346.4 363.4 346.2 364.0 346.2 364.7 346.3 365.3 346.6 365.9 346.9 366.6 346.9 367.2 346.6 367.8 346.1 368.5 345.8 369.1 346.0 369.8 346.5 370.4 347.0 371.0 347.3 371.7 347.0 372.3 346.2 372.9 345.6 373.6 345.5 374.2 346.1 374.8 347.0 375.5 347.6 376.1 347.5 376.7 346.6 377.4 345.6 378.0 345.2 378.6 345.6 379.3 346.6 379.9 347.5 380.5 347.7 381.2 347.1 381.8 346.0 382.4 345.3 383.1 345.4 383.7 346.2 384.3 347.1 385.0 347.5 385.6 347.2 386.2 346.5 386.9 345.8 387.5 345.6 388.1 346.0 388.8 346.6 389.4 347.1 390.1 347.1 390.7 346.7 391.3 346.2 392.0 346.0 392.6 346.1 393.2 346.4 393.9 346.7 394.5 346.8 395.1 346.7 395.8 346.4 M407.5 346.5 408.2 346.6 408.8 346.6 409.4 346.5 410.1 346.4 410.7 346.3 411.3 346.4 412.0 346.5 412.6 346.6 413.2 346.6 413.9 346.6 414.5 346.4 415.1 346.2 415.8 346.2 416.4 346.4 417.0 346.7 417.7 346.8 418.3 346.8 418.9 346.5 419.6 346.1 420.2 345.9 420.8 346.1 421.5 346.6 422.1 347.1 422.7 347.2 423.4 346.8 424.0 346.1 424.6 345.6 425.3 345.6 425.9 346.3 426.6 347.2 427.2 347.6 427.8 347.3 428.5 346.4 429.1 345.5 429.7 345.2 430.4 345.8 431.0 346.9 431.6 347.7 432.3 347.6 432.9 346.8 433.5 345.8 434.2 345.2 434.8 345.5 435.4 346.4 436.1 347.3 436.7 347.6 437.3 347.1 438.0 346.3 438.6 345.6 439.2 345.6 439.9 346.1 440.5 346.8 441.1 347.2 441.8 347.1 442.4 346.6 443.0 346.1 443.7 345.9 444.3 346.1 444.9 346.5 445.6 346.8 446.2 346.8 446.9 346.6 447.5 346.4 448.1 346.2 M459.9 346.4 460.5 346.4 461.1 346.5 461.8 346.6 462.4 346.6 463.1 346.5 463.7 346.4 464.3 346.3 465.0 346.3 465.6 346.4 466.2 346.6 466.9 346.7 467.5 346.7 468.1 346.5 468.8 346.2 469.4 346.1 470.0 346.2 470.7 346.5 471.3 346.9 471.9 347.0 472.6 346.7 473.2 346.2 473.8 345.8 474.5 345.8 475.1 346.3 475.7 347.0 476.4 347.3 477.0 347.1 477.6 346.4 478.3 345.7 478.9 345.4 479.5 345.9 480.2 346.8 480.8 347.5 481.4 347.6 482.1 346.9 482.7 345.8 483.4 345.2 484.0 345.4 484.6 346.3 485.3 347.3 485.9 347.7 486.5 347.3 487.2 346.3 487.8 345.5 488.4 345.3 489.1 346.0 489.7 346.9 490.3 347.4 491.0 347.3 491.6 346.7 492.2 346.0 492.9 345.6 493.5 345.9 494.1 346.5 494.8 347.0 495.4 347.1 496.0 346.8 496.7 346.3 497.3 346.0 497.9 346.1 498.6 346.3 499.2 346.6 499.8 346.8 500.5 346.7 M93.4 399.3 94.0 399.2 94.6 399.2 95.3 399.2 95.9 399.3 96.5 399.4 97.2 399.4 97.8 399.4 98.4 399.2 99.1 399.1 99.7 399.1 100.3 399.2 101.0 399.4 101.6 399.6 102.2 399.5 102.9 399.3 103.5 399.0 104.1 398.8 104.8 399.0 105.4 399.4 106.0 399.8 106.7 399.9 107.3 399.6 108.0 399.0 108.6 398.5 109.2 398.6 109.9 399.1 110.5 399.8 111.1 400.3 111.8 400.0 112.4 399.2 113.0 398.4 113.7 398.1 114.3 398.6 114.9 399.6 115.6 400.4 116.2 400.5 116.8 399.7 117.5 398.7 118.1 398.0 118.7 398.2 119.4 399.1 120.0 400.1 120.6 400.5 121.3 400.1 121.9 399.1 122.5 398.4 123.2 398.2 123.8 398.8 124.4 399.6 125.1 400.1 125.7 400.1 126.3 399.5 127.0 398.8 127.6 398.6 128.3 398.8 128.9 399.3 129.5 399.7 130.2 399.8 130.8 399.5 131.4 399.2 132.1 398.9 132.7 399.0 133.3 399.2 134.0 399.4 M145.7 399.2 146.4 399.2 147.0 399.3 147.6 399.4 148.3 399.4 148.9 399.3 149.5 399.2 150.2 399.1 150.8 399.2 151.4 399.3 152.1 399.5 152.7 399.5 153.3 399.4 154.0 399.2 154.6 399.0 155.2 399.0 155.9 399.2 156.5 399.5 157.1 399.7 157.8 399.7 158.4 399.3 159.0 398.8 159.7 398.6 160.3 398.9 160.9 399.4 161.6 400.0 162.2 400.1 162.8 399.6 163.5 398.8 164.1 398.3 164.8 398.4 165.4 399.1 166.0 400.0 166.7 400.5 167.3 400.1 167.9 399.2 168.6 398.3 169.2 398.0 169.8 398.6 170.5 399.7 171.1 400.5 171.7 400.4 172.4 399.6 173.0 398.6 173.6 398.1 174.3 398.4 174.9 399.2 175.5 400.0 176.2 400.3 176.8 399.9 177.4 399.1 178.1 398.5 178.7 398.5 179.3 399.0 180.0 399.6 180.6 399.9 181.2 399.8 181.9 399.4 182.5 399.0 183.1 398.8 183.8 399.0 184.4 399.3 185.1 399.5 185.7 399.6 186.3 399.4 M198.1 399.2 198.7 399.2 199.3 399.2 200.0 399.3 200.6 399.4 201.3 399.4 201.9 399.4 202.5 399.3 203.2 399.1 203.8 399.1 204.4 399.2 205.1 399.4 205.7 399.5 206.3 399.5 207.0 399.4 207.6 399.1 208.2 398.9 208.9 399.0 209.5 399.3 210.1 399.7 210.8 399.8 211.4 399.6 212.0 399.1 212.7 398.6 213.3 398.6 213.9 399.0 214.6 399.7 215.2 400.2 215.8 400.1 216.5 399.4 217.1 398.6 217.7 398.1 218.4 398.5 219.0 399.4 219.6 400.3 220.3 400.5 220.9 399.9 221.6 398.8 222.2 398.1 222.8 398.1 223.5 398.9 224.1 400.0 224.7 400.5 225.4 400.2 226.0 399.3 226.6 398.4 227.3 398.2 227.9 398.6 228.5 399.5 229.2 400.1 229.8 400.2 230.4 399.6 231.1 398.9 231.7 398.5 232.3 398.7 233.0 399.2 233.6 399.7 234.2 399.8 234.9 399.6 235.5 399.2 236.1 398.9 236.8 398.9 237.4 399.1 238.0 399.4 238.7 399.5 M250.4 399.3 251.1 399.4 251.7 399.4 252.3 399.3 253.0 399.3 253.6 399.2 254.2 399.1 254.9 399.2 255.5 399.4 256.1 399.5 256.8 399.5 257.4 399.3 258.1 399.1 258.7 399.0 259.3 399.1 260.0 399.3 260.6 399.6 261.2 399.7 261.9 399.5 262.5 399.1 263.1 398.8 263.8 398.7 264.4 399.1 265.0 399.7 265.7 400.0 266.3 399.9 266.9 399.3 267.6 398.6 268.2 398.3 268.8 398.7 269.5 399.5 270.1 400.3 270.7 400.4 271.4 399.8 272.0 398.8 272.6 398.1 273.3 398.2 273.9 399.1 274.5 400.1 275.2 400.6 275.8 400.2 276.4 399.2 277.1 398.3 277.7 398.1 278.4 398.7 279.0 399.6 279.6 400.3 280.3 400.3 280.9 399.6 281.5 398.8 282.2 398.4 282.8 398.6 283.4 399.2 284.1 399.8 284.7 400.0 285.3 399.7 286.0 399.2 286.6 398.8 287.2 398.8 287.9 399.1 288.5 399.4 289.1 399.6 289.8 399.6 290.4 399.3 291.0 399.1 M302.8 399.3 303.4 399.2 304.1 399.2 304.7 399.2 305.3 399.3 306.0 399.4 306.6 399.4 307.2 399.4 307.9 399.2 308.5 399.1 309.1 399.1 309.8 399.2 310.4 399.4 311.0 399.6 311.7 399.5 312.3 399.3 312.9 399.0 313.6 398.8 314.2 399.0 314.9 399.3 315.5 399.7 316.1 399.9 316.8 399.6 317.4 399.0 318.0 398.6 318.7 398.5 319.3 399.0 319.9 399.8 320.6 400.3 321.2 400.1 321.8 399.3 322.5 398.5 323.1 398.1 323.7 398.6 324.4 399.5 325.0 400.4 325.6 400.5 326.3 399.8 326.9 398.7 327.5 398.0 328.2 398.2 328.8 399.1 329.4 400.1 330.1 400.5 330.7 400.1 331.3 399.2 332.0 398.4 332.6 398.2 333.2 398.7 333.9 399.6 334.5 400.1 335.2 400.1 335.8 399.5 336.4 398.9 337.1 398.6 337.7 398.8 338.3 399.2 339.0 399.7 339.6 399.8 340.2 399.6 340.9 399.2 341.5 399.0 342.1 398.9 342.8 399.1 343.4 399.4 M355.2 399.4 355.8 399.4 356.4 399.3 357.1 399.2 357.7 399.2 358.3 399.2 359.0 399.2 359.6 399.4 360.2 399.5 360.9 399.4 361.5 399.3 362.1 399.1 362.8 399.0 363.4 399.1 364.0 399.3 364.7 399.6 365.3 399.7 365.9 399.4 366.6 399.1 367.2 398.8 367.8 398.8 368.5 399.2 369.1 399.7 369.8 400.0 370.4 399.8 371.0 399.2 371.7 398.6 372.3 398.4 372.9 398.8 373.6 399.6 374.2 400.3 374.8 400.3 375.5 399.6 376.1 398.7 376.7 398.1 377.4 398.3 378.0 399.2 378.6 400.2 379.3 400.6 379.9 400.1 380.5 399.1 381.2 398.2 381.8 398.1 382.4 398.8 383.1 399.7 383.7 400.4 384.3 400.3 385.0 399.5 385.6 398.7 386.2 398.3 386.9 398.6 387.5 399.3 388.1 399.9 388.8 400.0 389.4 399.7 390.1 399.1 390.7 398.7 391.3 398.8 392.0 399.1 392.6 399.5 393.2 399.7 393.9 399.6 394.5 399.3 395.1 399.1 395.8 399.0 M407.5 399.2 408.2 399.2 408.8 399.2 409.4 399.3 410.1 399.4 410.7 399.4 411.3 399.3 412.0 399.2 412.6 399.1 413.2 399.2 413.9 399.3 414.5 399.5 415.1 399.5 415.8 399.4 416.4 399.2 417.0 398.9 417.7 398.9 418.3 399.2 418.9 399.6 419.6 399.8 420.2 399.7 420.8 399.3 421.5 398.8 422.1 398.6 422.7 398.9 423.4 399.5 424.0 400.1 424.6 400.1 425.3 399.6 425.9 398.8 426.6 398.2 427.2 398.4 427.8 399.2 428.5 400.1 429.1 400.5 429.7 400.1 430.4 399.1 431.0 398.2 431.6 398.0 432.3 398.7 432.9 399.7 433.5 400.5 434.2 400.4 434.8 399.6 435.4 398.6 436.1 398.1 436.7 398.4 437.3 399.3 438.0 400.0 438.6 400.3 439.2 399.8 439.9 399.1 440.5 398.6 441.1 398.6 441.8 399.0 442.4 399.6 443.0 399.9 443.7 399.7 444.3 399.4 444.9 399.0 445.6 398.9 446.2 399.0 446.9 399.3 447.5 399.5 448.1 399.6 M41.0 452.0 41.6 452.1 42.3 452.2 42.9 452.2 43.5 452.2 44.2 452.1 44.8 452.0 45.4 451.9 46.1 452.0 46.7 452.1 47.3 452.3 48.0 452.3 48.6 452.2 49.2 452.0 49.9 451.8 50.5 451.8 51.1 452.0 51.8 452.4 52.4 452.6 53.1 452.5 53.7 452.1 54.3 451.6 55.0 451.4 55.6 451.7 56.2 452.3 56.9 452.8 57.5 452.9 58.1 452.4 58.8 451.6 59.4 451.1 60.0 451.2 60.7 452.0 61.3 452.9 61.9 453.3 62.6 452.9 63.2 452.0 63.8 451.1 64.5 450.8 65.1 451.5 65.7 452.5 66.4 453.3 67.0 453.2 67.6 452.4 68.3 451.4 68.9 450.9 69.5 451.2 70.2 452.1 70.8 452.9 71.5 453.1 72.1 452.7 72.7 451.9 73.4 451.3 74.0 451.3 74.6 451.8 75.3 452.4 75.9 452.7 76.5 452.6 77.2 452.2 77.8 451.8 78.4 451.6 79.1 451.8 79.7 452.1 80.3 452.4 81.0 452.4 81.6 452.2 M93.4 452.0 94.0 452.1 94.6 452.2 95.3 452.2 95.9 452.2 96.5 452.1 97.2 452.0 97.8 452.0 98.4 452.1 99.1 452.2 99.7 452.3 100.3 452.3 101.0 452.1 101.6 451.9 102.2 451.8 102.9 451.9 103.5 452.2 104.1 452.5 104.8 452.5 105.4 452.3 106.0 451.9 106.7 451.5 107.3 451.5 108.0 452.0 108.6 452.6 109.2 452.9 109.9 452.7 110.5 452.0 111.1 451.3 111.8 451.1 112.4 451.5 113.0 452.4 113.7 453.2 114.3 453.2 114.9 452.5 115.6 451.4 116.2 450.8 116.8 451.1 117.5 452.0 118.1 453.0 118.7 453.4 119.4 452.9 120.0 451.9 120.6 451.1 121.3 450.9 121.9 451.6 122.5 452.5 123.2 453.1 123.8 453.0 124.4 452.3 125.1 451.5 125.7 451.2 126.3 451.5 127.0 452.1 127.6 452.6 128.3 452.7 128.9 452.4 129.5 452.0 130.2 451.6 130.8 451.7 131.4 452.0 132.1 452.3 132.7 452.4 133.3 452.4 134.0 452.1 M145.7 452.0 146.4 452.0 147.0 452.0 147.6 452.1 148.3 452.2 148.9 452.2 149.5 452.1 150.2 452.0 150.8 451.9 151.4 451.9 152.1 452.1 152.7 452.3 153.3 452.4 154.0 452.3 154.6 452.1 155.2 451.8 155.9 451.7 156.5 451.9 157.1 452.3 157.8 452.6 158.4 452.6 159.0 452.2 159.7 451.7 160.3 451.4 160.9 451.5 161.6 452.1 162.2 452.8 162.8 453.0 163.5 452.7 164.1 451.8 164.8 451.1 165.4 451.0 166.0 451.7 166.7 452.7 167.3 453.3 167.9 453.1 168.6 452.3 169.2 451.2 169.8 450.8 170.5 451.2 171.1 452.2 171.7 453.1 172.4 453.3 173.0 452.7 173.6 451.7 174.3 451.0 174.9 451.1 175.5 451.8 176.2 452.7 176.8 453.1 177.4 452.8 178.1 452.1 178.7 451.5 179.3 451.3 180.0 451.7 180.6 452.2 181.2 452.6 181.9 452.6 182.5 452.3 183.1 451.9 183.8 451.7 184.4 451.8 185.1 452.0 185.7 452.3 186.3 452.4 M198.1 452.0 198.7 452.0 199.3 452.1 200.0 452.2 200.6 452.2 201.3 452.2 201.9 452.1 202.5 452.0 203.2 451.9 203.8 452.0 204.4 452.2 205.1 452.3 205.7 452.3 206.3 452.2 207.0 451.9 207.6 451.8 208.2 451.8 208.9 452.1 209.5 452.4 210.1 452.6 210.8 452.5 211.4 452.0 212.0 451.5 212.7 451.4 213.3 451.8 213.9 452.4 214.6 452.9 215.2 452.9 215.8 452.3 216.5 451.5 217.1 451.0 217.7 451.3 218.4 452.1 219.0 453.0 219.6 453.3 220.3 452.8 220.9 451.8 221.6 450.9 222.2 450.9 222.8 451.7 223.5 452.7 224.1 453.3 224.7 453.1 225.4 452.2 226.0 451.3 226.6 450.9 227.3 451.4 227.9 452.2 228.5 452.9 229.2 453.1 229.8 452.5 230.4 451.8 231.1 451.3 231.7 451.4 232.3 451.9 233.0 452.5 233.6 452.7 234.2 452.5 234.9 452.1 235.5 451.8 236.1 451.7 236.8 451.9 237.4 452.2 238.0 452.4 238.7 452.4 M250.4 452.1 251.1 452.0 251.7 452.0 252.3 452.0 253.0 452.1 253.6 452.2 254.2 452.2 254.9 452.2 255.5 452.0 256.1 451.9 256.8 451.9 257.4 452.0 258.1 452.2 258.7 452.4 259.3 452.4 260.0 452.1 260.6 451.8 261.2 451.7 261.9 451.8 262.5 452.2 263.1 452.6 263.8 452.7 264.4 452.4 265.0 451.8 265.7 451.4 266.3 451.4 266.9 451.9 267.6 452.6 268.2 453.1 268.8 452.9 269.5 452.1 270.1 451.2 270.7 450.9 271.4 451.4 272.0 452.4 272.6 453.2 273.3 453.3 273.9 452.6 274.5 451.5 275.2 450.8 275.8 451.0 276.4 451.9 277.1 452.9 277.7 453.3 278.4 452.9 279.0 452.0 279.6 451.2 280.3 451.1 280.9 451.6 281.5 452.4 282.2 453.0 282.8 452.9 283.4 452.3 284.1 451.7 284.7 451.4 285.3 451.6 286.0 452.1 286.6 452.5 287.2 452.6 287.9 452.4 288.5 452.0 289.1 451.8 289.8 451.8 290.4 452.0 291.0 452.2 M302.8 452.1 303.4 452.2 304.1 452.2 304.7 452.1 305.3 452.0 306.0 452.0 306.6 452.0 307.2 452.1 307.9 452.2 308.5 452.3 309.1 452.2 309.8 452.1 310.4 451.9 311.0 451.8 311.7 452.0 312.3 452.2 312.9 452.5 313.6 452.5 314.2 452.2 314.9 451.8 315.5 451.5 316.1 451.7 316.8 452.1 317.4 452.7 318.0 452.9 318.7 452.5 319.3 451.8 319.9 451.2 320.6 451.2 321.2 451.8 321.8 452.7 322.5 453.2 323.1 453.0 323.7 452.2 324.4 451.2 325.0 450.8 325.6 451.3 326.3 452.3 326.9 453.2 327.5 453.3 328.2 452.7 328.8 451.6 329.4 450.9 330.1 451.0 330.7 451.8 331.3 452.8 332.0 453.2 332.6 452.9 333.2 452.1 333.9 451.4 334.5 451.2 335.2 451.6 335.8 452.3 336.4 452.8 337.1 452.8 337.7 452.3 338.3 451.8 339.0 451.6 339.6 451.7 340.2 452.0 340.9 452.4 341.5 452.5 342.1 452.3 342.8 452.1 343.4 451.9 M355.2 452.2 355.8 452.2 356.4 452.1 357.1 452.0 357.7 452.0 358.3 452.0 359.0 452.2 359.6 452.3 360.2 452.3 360.9 452.1 361.5 452.0 362.1 451.9 362.8 451.9 363.4 452.1 364.0 452.3 364.7 452.5 365.3 452.3 365.9 452.0 366.6 451.7 367.2 451.6 367.8 451.9 368.5 452.4 369.1 452.7 369.8 452.7 370.4 452.2 371.0 451.6 371.7 451.2 372.3 451.5 372.9 452.2 373.6 452.9 374.2 453.2 374.8 452.7 375.5 451.7 376.1 451.0 376.7 451.0 377.4 451.7 378.0 452.8 378.6 453.4 379.3 453.1 379.9 452.2 380.5 451.2 381.2 450.8 381.8 451.3 382.4 452.3 383.1 453.1 383.7 453.2 384.3 452.6 385.0 451.7 385.6 451.1 386.2 451.3 386.9 451.9 387.5 452.6 388.1 452.9 388.8 452.6 389.4 452.1 390.1 451.6 390.7 451.5 391.3 451.8 392.0 452.2 392.6 452.5 393.2 452.5 393.9 452.2 394.5 451.9 395.1 451.8 395.8 451.9 M407.5 452.0 408.2 452.0 408.8 452.1 409.4 452.2 410.1 452.2 410.7 452.2 411.3 452.0 412.0 451.9 412.6 451.9 413.2 452.1 413.9 452.2 414.5 452.3 415.1 452.3 415.8 452.1 416.4 451.9 417.0 451.7 417.7 451.9 418.3 452.2 418.9 452.5 419.6 452.6 420.2 452.3 420.8 451.8 421.5 451.4 422.1 451.5 422.7 452.0 423.4 452.7 424.0 453.0 424.6 452.7 425.3 452.0 425.9 451.2 426.6 451.0 427.2 451.6 427.8 452.5 428.5 453.2 429.1 453.2 429.7 452.4 430.4 451.4 431.0 450.8 431.6 451.1 432.3 452.1 432.9 453.1 433.5 453.4 434.2 452.8 434.8 451.8 435.4 451.0 436.1 451.0 436.7 451.7 437.3 452.6 438.0 453.1 438.6 452.9 439.2 452.2 439.9 451.5 440.5 451.3 441.1 451.6 441.8 452.2 442.4 452.6 443.0 452.7 443.7 452.4 444.3 451.9 444.9 451.7 445.6 451.7 446.2 452.0 446.9 452.3 447.5 452.4 448.1 452.3 M459.9 452.0 460.5 452.0 461.1 452.1 461.8 452.2 462.4 452.2 463.1 452.2 463.7 452.1 464.3 452.0 465.0 451.9 465.6 452.0 466.2 452.2 466.9 452.3 467.5 452.3 468.1 452.2 468.8 451.9 469.4 451.8 470.0 451.8 470.7 452.1 471.3 452.4 471.9 452.6 472.6 452.5 473.2 452.0 473.8 451.6 474.5 451.4 475.1 451.7 475.7 452.4 476.4 452.9 477.0 452.9 477.6 452.3 478.3 451.5 478.9 451.0 479.5 451.2 480.2 452.1 480.8 453.0 481.4 453.3 482.1 452.8 482.7 451.8 483.4 451.0 484.0 450.9 484.6 451.6 485.3 452.7 485.9 453.3 486.5 453.2 487.2 452.3 487.8 451.3 488.4 450.9 489.1 451.3 489.7 452.2 490.3 452.9 491.0 453.1 491.6 452.6 492.2 451.8 492.9 451.4 493.5 451.4 494.1 451.9 494.8 452.4 495.4 452.7 496.0 452.5 496.7 452.1 497.3 451.8 497.9 451.7 498.6 451.9 499.2 452.2 499.8 452.4 500.5 452.4 M41.0 505.0 41.6 505.0 42.3 504.9 42.9 504.8 43.5 504.8 44.2 504.9 44.8 505.0 45.4 505.1 46.1 505.1 46.7 505.0 47.3 504.8 48.0 504.7 48.6 504.7 49.2 504.9 49.9 505.2 50.5 505.3 51.1 505.2 51.8 504.8 52.4 504.5 53.1 504.4 53.7 504.7 54.3 505.2 55.0 505.6 55.6 505.5 56.2 505.1 56.9 504.4 57.5 504.0 58.1 504.3 58.8 505.0 59.4 505.7 60.0 506.0 60.7 505.5 61.3 504.6 61.9 503.8 62.6 503.8 63.2 504.5 63.8 505.6 64.5 506.2 65.1 506.0 65.7 505.0 66.4 504.0 67.0 503.6 67.6 504.1 68.3 505.1 68.9 505.9 69.5 506.0 70.2 505.4 70.8 504.5 71.5 503.9 72.1 504.1 72.7 504.7 73.4 505.4 74.0 505.7 74.6 505.5 75.3 504.9 75.9 504.4 76.5 504.3 77.2 504.6 77.8 505.0 78.4 505.3 79.1 505.3 79.7 505.1 80.3 504.8 81.0 504.6 81.6 504.7 M93.4 505.0 94.0 505.0 94.6 504.9 95.3 504.8 95.9 504.8 96.5 504.8 97.2 504.9 97.8 505.1 98.4 505.1 99.1 505.0 99.7 504.8 100.3 504.7 101.0 504.7 101.6 504.9 102.2 505.1 102.9 505.3 103.5 505.2 104.1 504.9 104.8 504.6 105.4 504.4 106.0 504.6 106.7 505.1 107.3 505.5 108.0 505.6 108.6 505.2 109.2 504.5 109.9 504.1 110.5 504.2 111.1 504.8 111.8 505.6 112.4 506.0 113.0 505.7 113.7 504.8 114.3 503.9 114.9 503.7 115.6 504.3 116.2 505.4 116.8 506.1 117.5 506.1 118.1 505.2 118.7 504.2 119.4 503.7 120.0 504.0 120.6 504.9 121.3 505.8 121.9 506.1 122.5 505.6 123.2 504.7 123.8 504.0 124.4 504.0 125.1 504.6 125.7 505.3 126.3 505.7 127.0 505.6 127.6 505.0 128.3 504.5 128.9 504.3 129.5 504.5 130.2 505.0 130.8 505.3 131.4 505.3 132.1 505.1 132.7 504.8 133.3 504.6 134.0 504.7 M145.7 504.9 146.4 504.8 147.0 504.8 147.6 504.9 148.3 505.0 148.9 505.1 149.5 505.0 150.2 504.9 150.8 504.8 151.4 504.7 152.1 504.9 152.7 505.0 153.3 505.2 154.0 505.1 154.6 504.9 155.2 504.7 155.9 504.5 156.5 504.7 157.1 505.0 157.8 505.4 158.4 505.5 159.0 505.2 159.7 504.6 160.3 504.2 160.9 504.3 161.6 504.8 162.2 505.5 162.8 505.9 163.5 505.6 164.1 504.9 164.8 504.1 165.4 503.8 166.0 504.3 166.7 505.3 167.3 506.0 167.9 506.1 168.6 505.3 169.2 504.3 169.8 503.6 170.5 503.9 171.1 504.8 171.7 505.8 172.4 506.2 173.0 505.7 173.6 504.7 174.3 503.9 174.9 503.8 175.5 504.5 176.2 505.3 176.8 505.8 177.4 505.7 178.1 505.1 178.7 504.4 179.3 504.2 180.0 504.4 180.6 504.9 181.2 505.4 181.9 505.5 182.5 505.2 183.1 504.8 183.8 504.5 184.4 504.6 185.1 504.8 185.7 505.1 186.3 505.2 M198.1 504.8 198.7 504.8 199.3 504.9 200.0 505.0 200.6 505.0 201.3 505.0 201.9 504.9 202.5 504.8 203.2 504.7 203.8 504.8 204.4 505.0 205.1 505.1 205.7 505.2 206.3 505.0 207.0 504.8 207.6 504.6 208.2 504.6 208.9 504.9 209.5 505.2 210.1 505.4 210.8 505.3 211.4 504.9 212.0 504.4 212.7 504.2 213.3 504.5 213.9 505.2 214.6 505.7 215.2 505.8 215.8 505.2 216.5 504.4 217.1 503.8 217.7 504.0 218.4 504.9 219.0 505.8 219.6 506.2 220.3 505.7 220.9 504.7 221.6 503.8 222.2 503.7 222.8 504.4 223.5 505.5 224.1 506.1 224.7 506.0 225.4 505.1 226.0 504.2 226.6 503.8 227.3 504.1 227.9 505.0 228.5 505.7 229.2 505.9 229.8 505.4 230.4 504.7 231.1 504.2 231.7 504.2 232.3 504.7 233.0 505.2 233.6 505.5 234.2 505.4 234.9 505.0 235.5 504.6 236.1 504.5 236.8 504.7 237.4 505.0 238.0 505.2 238.7 505.2 M250.4 504.8 251.1 504.9 251.7 505.0 252.3 505.0 253.0 505.0 253.6 504.9 254.2 504.8 254.9 504.8 255.5 504.8 256.1 505.0 256.8 505.1 257.4 505.1 258.1 505.0 258.7 504.8 259.3 504.6 260.0 504.6 260.6 504.9 261.2 505.2 261.9 505.4 262.5 505.3 263.1 504.8 263.8 504.4 264.4 504.3 265.0 504.6 265.7 505.2 266.3 505.7 266.9 505.7 267.6 505.1 268.2 504.3 268.8 503.9 269.5 504.1 270.1 504.9 270.7 505.8 271.4 506.1 272.0 505.6 272.6 504.6 273.3 503.8 273.9 503.7 274.5 504.5 275.2 505.5 275.8 506.2 276.4 506.0 277.1 505.1 277.7 504.1 278.4 503.7 279.0 504.1 279.6 505.0 280.3 505.8 280.9 505.9 281.5 505.4 282.2 504.6 282.8 504.1 283.4 504.2 284.1 504.7 284.7 505.3 285.3 505.6 286.0 505.4 286.6 504.9 287.2 504.6 287.9 504.5 288.5 504.7 289.1 505.0 289.8 505.2 290.4 505.2 291.0 505.0 M302.8 504.9 303.4 505.0 304.1 505.0 304.7 505.0 305.3 504.9 306.0 504.8 306.6 504.8 307.2 504.9 307.9 505.0 308.5 505.1 309.1 505.1 309.8 504.9 310.4 504.7 311.0 504.6 311.7 504.8 312.3 505.0 312.9 505.3 313.6 505.3 314.2 505.0 314.9 504.6 315.5 504.4 316.1 504.5 316.8 504.9 317.4 505.5 318.0 505.7 318.7 505.4 319.3 504.7 319.9 504.1 320.6 504.0 321.2 504.5 321.8 505.4 322.5 506.0 323.1 505.9 323.7 505.1 324.4 504.1 325.0 503.7 325.6 504.0 326.3 505.0 326.9 506.0 327.5 506.2 328.2 505.6 328.8 504.5 329.4 503.8 330.1 503.8 330.7 504.6 331.3 505.5 332.0 506.0 332.6 505.8 333.2 505.0 333.9 504.2 334.5 504.0 335.2 504.4 335.8 505.1 336.4 505.6 337.1 505.6 337.7 505.2 338.3 504.7 339.0 504.4 339.6 504.5 340.2 504.8 340.9 505.2 341.5 505.3 342.1 505.2 342.8 504.9 343.4 504.7 M355.2 504.9 355.8 504.9 356.4 505.0 357.1 505.0 357.7 505.0 358.3 504.9 359.0 504.8 359.6 504.8 360.2 504.9 360.9 505.0 361.5 505.1 362.1 505.1 362.8 504.9 363.4 504.7 364.0 504.6 364.7 504.7 365.3 505.0 365.9 505.3 366.6 505.3 367.2 505.1 367.8 504.6 368.5 504.3 369.1 504.4 369.8 504.9 370.4 505.5 371.0 505.7 371.7 505.5 372.3 504.7 372.9 504.1 373.6 503.9 374.2 504.5 374.8 505.4 375.5 506.0 376.1 506.0 376.7 505.2 377.4 504.2 378.0 503.6 378.6 504.0 379.3 505.0 379.9 505.9 380.5 506.2 381.2 505.6 381.8 504.6 382.4 503.8 383.1 503.8 383.7 504.5 384.3 505.5 385.0 506.0 385.6 505.7 386.2 505.0 386.9 504.3 387.5 504.0 388.1 504.4 388.8 505.0 389.4 505.5 390.1 505.6 390.7 505.2 391.3 504.7 392.0 504.4 392.6 504.5 393.2 504.8 393.9 505.1 394.5 505.3 395.1 505.2 395.8 504.9 M407.5 505.0 408.2 504.9 408.8 504.9 409.4 504.8 410.1 504.8 410.7 504.9 411.3 505.0 412.0 505.1 412.6 505.0 413.2 504.9 413.9 504.7 414.5 504.7 415.1 504.8 415.8 505.0 416.4 505.2 417.0 505.2 417.7 505.0 418.3 504.7 418.9 504.4 419.6 504.5 420.2 504.9 420.8 505.4 421.5 505.6 422.1 505.3 422.7 504.7 423.4 504.2 424.0 504.1 424.6 504.6 425.3 505.4 425.9 505.9 426.6 505.8 427.2 505.0 427.8 504.1 428.5 503.7 429.1 504.1 429.7 505.1 430.4 506.0 431.0 506.2 431.6 505.5 432.3 504.4 432.9 503.7 433.5 503.8 434.2 504.6 434.8 505.6 435.4 506.1 436.1 505.8 436.7 504.9 437.3 504.1 438.0 503.9 438.6 504.4 439.2 505.1 439.9 505.7 440.5 505.7 441.1 505.2 441.8 504.6 442.4 504.3 443.0 504.4 443.7 504.8 444.3 505.3 444.9 505.4 445.6 505.2 446.2 504.9 446.9 504.6 447.5 504.6 448.1 504.8 M459.9 504.9 460.5 504.9 461.1 505.0 461.8 505.0 462.4 505.0 463.1 504.9 463.7 504.8 464.3 504.8 465.0 504.9 465.6 505.0 466.2 505.1 466.9 505.1 467.5 504.9 468.1 504.7 468.8 504.6 469.4 504.7 470.0 505.0 470.7 505.3 471.3 505.4 471.9 505.1 472.6 504.7 473.2 504.3 473.8 504.3 474.5 504.8 475.1 505.4 475.7 505.7 476.4 505.6 477.0 504.9 477.6 504.1 478.3 503.9 478.9 504.3 479.5 505.2 480.2 506.0 480.8 506.0 481.4 505.3 482.1 504.3 482.7 503.7 483.4 503.9 484.0 504.8 484.6 505.8 485.3 506.2 485.9 505.7 486.5 504.7 487.2 503.9 487.8 503.8 488.4 504.4 489.1 505.3 489.7 505.9 490.3 505.8 491.0 505.1 491.6 504.4 492.2 504.1 492.9 504.3 493.5 504.9 494.1 505.5 494.8 505.6 495.4 505.3 496.0 504.8 496.7 504.5 497.3 504.5 497.9 504.8 498.6 505.1 499.2 505.3 499.8 505.2 500.5 505.0 M145.7 557.8 146.4 557.7 147.0 557.6 147.6 557.6 148.3 557.7 148.9 557.8 149.5 557.9 150.2 557.9 150.8 557.8 151.4 557.6 152.1 557.5 152.7 557.6 153.3 557.8 154.0 558.0 154.6 558.1 155.2 557.9 155.9 557.6 156.5 557.3 157.1 557.3 157.8 557.6 158.4 558.0 159.0 558.3 159.7 558.3 160.3 557.8 160.9 557.2 161.6 556.9 162.2 557.2 162.8 557.9 163.5 558.6 164.1 558.7 164.8 558.2 165.4 557.3 166.0 556.6 166.7 556.7 167.3 557.5 167.9 558.5 168.6 559.0 169.2 558.7 169.8 557.7 170.5 556.7 171.1 556.5 171.7 557.1 172.4 558.1 173.0 558.8 173.6 558.8 174.3 558.1 174.9 557.2 175.5 556.7 176.2 556.9 176.8 557.6 177.4 558.4 178.1 558.6 178.7 558.3 179.3 557.6 180.0 557.2 180.6 557.1 181.2 557.5 181.9 557.9 182.5 558.2 183.1 558.1 183.8 557.8 184.4 557.5 185.1 557.4 185.7 557.5 186.3 557.7 M198.1 557.6 198.7 557.7 199.3 557.7 200.0 557.8 200.6 557.9 201.3 557.8 201.9 557.7 202.5 557.6 203.2 557.6 203.8 557.7 204.4 557.8 205.1 558.0 205.7 558.0 206.3 557.8 207.0 557.5 207.6 557.4 208.2 557.5 208.9 557.8 209.5 558.1 210.1 558.2 210.8 558.0 211.4 557.6 212.0 557.1 212.7 557.1 213.3 557.5 213.9 558.2 214.6 558.6 215.2 558.5 215.8 557.8 216.5 557.0 217.1 556.7 217.7 557.0 218.4 557.9 219.0 558.8 219.6 558.9 220.3 558.3 220.9 557.2 221.6 556.5 222.2 556.6 222.8 557.5 223.5 558.5 224.1 559.0 224.7 558.6 225.4 557.7 226.0 556.8 226.6 556.6 227.3 557.1 227.9 558.0 228.5 558.7 229.2 558.6 229.8 558.0 230.4 557.3 231.1 556.9 231.7 557.1 232.3 557.7 233.0 558.2 233.6 558.3 234.2 558.1 234.9 557.7 235.5 557.4 236.1 557.3 236.8 557.6 237.4 557.9 238.0 558.0 238.7 558.0 M250.4 557.7 251.1 557.8 251.7 557.8 252.3 557.9 253.0 557.8 253.6 557.7 254.2 557.6 254.9 557.6 255.5 557.7 256.1 557.8 256.8 558.0 257.4 557.9 258.1 557.7 258.7 557.5 259.3 557.4 260.0 557.5 260.6 557.8 261.2 558.1 261.9 558.2 262.5 557.9 263.1 557.5 263.8 557.1 264.4 557.2 265.0 557.6 265.7 558.2 266.3 558.6 266.9 558.3 267.6 557.7 268.2 556.9 268.8 556.7 269.5 557.2 270.1 558.1 270.7 558.8 271.4 558.8 272.0 558.1 272.6 557.1 273.3 556.5 273.9 556.7 274.5 557.7 275.2 558.7 275.8 559.0 276.4 558.5 277.1 557.5 277.7 556.7 278.4 556.6 279.0 557.3 279.6 558.2 280.3 558.8 280.9 558.6 281.5 557.9 282.2 557.2 282.8 556.9 283.4 557.2 284.1 557.8 284.7 558.3 285.3 558.4 286.0 558.1 286.6 557.6 287.2 557.3 287.9 557.3 288.5 557.6 289.1 557.9 289.8 558.1 290.4 558.0 291.0 557.8 M302.8 557.8 303.4 557.7 304.1 557.7 304.7 557.6 305.3 557.7 306.0 557.8 306.6 557.9 307.2 557.9 307.9 557.8 308.5 557.7 309.1 557.5 309.8 557.5 310.4 557.7 311.0 557.9 311.7 558.1 312.3 558.0 312.9 557.7 313.6 557.4 314.2 557.3 314.9 557.5 315.5 557.9 316.1 558.3 316.8 558.3 317.4 557.9 318.0 557.3 318.7 556.9 319.3 557.1 319.9 557.7 320.6 558.4 321.2 558.8 321.8 558.4 322.5 557.5 323.1 556.7 323.7 556.6 324.4 557.2 325.0 558.3 325.6 559.0 326.3 558.8 326.9 558.0 327.5 556.9 328.2 556.5 328.8 556.8 329.4 557.8 330.1 558.7 330.7 558.9 331.3 558.4 332.0 557.4 332.6 556.8 333.2 556.8 333.9 557.4 334.5 558.2 335.2 558.6 335.8 558.4 336.4 557.8 337.1 557.3 337.7 557.1 338.3 557.4 339.0 557.8 339.6 558.2 340.2 558.2 340.9 557.9 341.5 557.6 342.1 557.4 342.8 557.5 343.4 557.7 M355.2 557.6 355.8 557.7 356.4 557.8 357.1 557.8 357.7 557.9 358.3 557.8 359.0 557.7 359.6 557.6 360.2 557.6 360.9 557.7 361.5 557.9 362.1 558.0 362.8 557.9 363.4 557.7 364.0 557.5 364.7 557.4 365.3 557.5 365.9 557.8 366.6 558.2 367.2 558.2 367.8 558.0 368.5 557.5 369.1 557.1 369.8 557.1 370.4 557.6 371.0 558.3 371.7 558.6 372.3 558.4 372.9 557.7 373.6 556.9 374.2 556.7 374.8 557.2 375.5 558.1 376.1 558.9 376.7 558.9 377.4 558.1 378.0 557.1 378.6 556.5 379.3 556.7 379.9 557.7 380.5 558.7 381.2 559.0 381.8 558.5 382.4 557.5 383.1 556.7 383.7 556.6 384.3 557.3 385.0 558.2 385.6 558.7 386.2 558.6 386.9 557.9 387.5 557.2 388.1 556.9 388.8 557.2 389.4 557.8 390.1 558.3 390.7 558.3 391.3 558.0 392.0 557.6 392.6 557.3 393.2 557.4 393.9 557.6 394.5 557.9 395.1 558.0 395.8 558.0 M198.1 610.5 198.7 610.5 199.3 610.6 200.0 610.7 200.6 610.7 201.3 610.6 201.9 610.5 202.5 610.4 203.2 610.4 203.8 610.5 204.4 610.7 205.1 610.8 205.7 610.8 206.3 610.6 207.0 610.3 207.6 610.2 208.2 610.3 208.9 610.7 209.5 611.0 210.1 611.0 210.8 610.8 211.4 610.3 212.0 609.9 212.7 610.0 213.3 610.5 213.9 611.1 214.6 611.4 215.2 611.2 215.8 610.5 216.5 609.7 217.1 609.5 217.7 610.0 218.4 610.9 219.0 611.7 219.6 611.7 220.3 610.9 220.9 609.9 221.6 609.3 222.2 609.6 222.8 610.5 223.5 611.5 224.1 611.8 224.7 611.3 225.4 610.3 226.0 609.5 226.6 609.5 227.3 610.1 227.9 611.0 228.5 611.5 229.2 611.4 229.8 610.7 230.4 610.0 231.1 609.7 231.7 610.0 232.3 610.6 233.0 611.1 233.6 611.2 234.2 610.9 234.9 610.4 235.5 610.1 236.1 610.2 236.8 610.4 237.4 610.7 238.0 610.9 238.7 610.8 M250.4 610.7 251.1 610.7 251.7 610.6 252.3 610.5 253.0 610.4 253.6 610.5 254.2 610.6 254.9 610.7 255.5 610.7 256.1 610.7 256.8 610.5 257.4 610.4 258.1 610.3 258.7 610.4 259.3 610.7 260.0 610.9 260.6 610.9 261.2 610.6 261.9 610.3 262.5 610.0 263.1 610.2 263.8 610.6 264.4 611.1 265.0 611.3 265.7 611.0 266.3 610.3 266.9 609.8 267.6 609.7 268.2 610.2 268.8 611.1 269.5 611.6 270.1 611.5 270.7 610.7 271.4 609.7 272.0 609.3 272.6 609.7 273.3 610.7 273.9 611.6 274.5 611.8 275.2 611.1 275.8 610.1 276.4 609.4 277.1 609.5 277.7 610.3 278.4 611.3 279.0 611.7 279.6 611.4 280.3 610.6 280.9 609.8 281.5 609.6 282.2 610.0 282.8 610.8 283.4 611.3 284.1 611.3 284.7 610.8 285.3 610.3 286.0 610.0 286.6 610.1 287.2 610.5 287.9 610.9 288.5 611.0 289.1 610.8 289.8 610.5 290.4 610.3 291.0 610.3 M302.8 610.5 303.4 610.5 304.1 610.5 304.7 610.6 305.3 610.7 306.0 610.7 306.6 610.6 307.2 610.4 307.9 610.4 308.5 610.5 309.1 610.6 309.8 610.8 310.4 610.8 311.0 610.7 311.7 610.4 312.3 610.2 312.9 610.2 313.6 610.5 314.2 610.9 314.9 611.1 315.5 610.9 316.1 610.5 316.8 610.0 317.4 609.9 318.0 610.2 318.7 610.9 319.3 611.4 319.9 611.4 320.6 610.8 321.2 610.0 321.8 609.5 322.5 609.7 323.1 610.6 323.7 611.5 324.4 611.8 325.0 611.3 325.6 610.2 326.3 609.4 326.9 609.3 327.5 610.1 328.2 611.2 328.8 611.8 329.4 611.6 330.1 610.7 330.7 609.8 331.3 609.4 332.0 609.8 332.6 610.7 333.2 611.4 333.9 611.5 334.5 611.0 335.2 610.3 335.8 609.8 336.4 609.9 337.1 610.4 337.7 610.9 338.3 611.2 339.0 611.0 339.6 610.6 340.2 610.2 340.9 610.1 341.5 610.3 342.1 610.6 342.8 610.8 343.4 610.8 M250.4 663.3 251.1 663.3 251.7 663.3 252.3 663.4 253.0 663.5 253.6 663.5 254.2 663.4 254.9 663.3 255.5 663.2 256.1 663.2 256.8 663.4 257.4 663.5 258.1 663.6 258.7 663.6 259.3 663.3 260.0 663.1 260.6 663.0 261.2 663.2 261.9 663.5 262.5 663.9 263.1 663.9 263.8 663.5 264.4 663.0 265.0 662.7 265.7 662.8 266.3 663.4 266.9 664.0 267.6 664.3 268.2 664.0 268.8 663.1 269.5 662.4 270.1 662.3 270.7 662.9 271.4 663.9 272.0 664.6 272.6 664.4 273.3 663.6 273.9 662.6 274.5 662.1 275.2 662.5 275.8 663.5 276.4 664.4 277.1 664.6 277.7 664.0 278.4 663.0 279.0 662.3 279.6 662.4 280.3 663.1 280.9 663.9 281.5 664.3 282.2 664.1 282.8 663.4 283.4 662.8 284.1 662.6 284.7 662.9 285.3 663.5 286.0 663.9 286.6 663.9 287.2 663.6 287.9 663.2 288.5 663.0 289.1 663.1 289.8 663.3 290.4 663.6 291.0 663.7" stroke="#0a0aff" stroke-width="1.10" fill="none" stroke-linejoin="round"/>
<path d="M198.9 815.6 199.5 815.3 200.1 815.0 200.8 814.9 201.4 814.8 202.1 814.9 202.7 815.2 203.3 815.6 204.0 816.0 204.6 816.4 205.2 816.6 205.9 816.5 206.5 816.2 207.1 815.9 207.8 815.7 208.4 815.7 209.0 815.8 209.7 815.7 210.3 815.4 210.9 814.8 211.6 814.4 212.2 814.6 212.8 815.4 213.5 816.6 214.1 817.3 214.7 817.1 215.4 816.0 216.0 814.7 216.6 814.1 217.3 814.7 217.9 816.1 218.5 817.5 219.2 817.7 219.8 816.4 220.4 814.6 221.1 813.3 221.7 813.7 222.4 815.4 223.0 817.3 223.6 818.2 224.3 817.4 224.9 815.5 225.5 813.8 226.2 813.4 226.8 814.6 227.4 816.4 228.1 817.5 228.7 817.3 229.3 816.0 230.0 814.5 230.6 813.9 231.2 814.4 231.9 815.7 232.5 816.8 233.1 817.2 233.8 816.8 234.4 816.1 235.0 815.5 235.7 815.3 236.3 815.5 236.9 815.8 237.6 815.7 238.2 815.4 238.8 815.0 239.5 814.8 M251.1 815.6 251.8 815.9 252.4 816.3 253.0 816.5 253.7 816.6 254.3 816.5 254.9 816.2 255.6 815.9 256.2 815.5 256.8 815.2 257.5 815.1 258.1 815.1 258.8 815.1 259.4 815.1 260.0 815.1 260.7 815.2 261.3 815.6 261.9 816.3 262.6 816.8 263.2 817.0 263.8 816.6 264.5 815.7 265.1 814.9 265.7 814.7 266.4 815.2 267.0 816.1 267.6 816.8 268.3 816.5 268.9 815.5 269.5 814.3 270.2 813.9 270.8 814.7 271.4 816.3 272.1 817.6 272.7 817.8 273.3 816.5 274.0 814.7 274.6 813.5 275.2 813.8 275.9 815.4 276.5 817.2 277.1 817.9 277.8 817.1 278.4 815.4 279.1 814.0 279.7 813.8 280.3 814.9 281.0 816.5 281.6 817.5 282.2 817.4 282.9 816.3 283.5 815.1 284.1 814.5 284.8 814.7 285.4 815.4 286.0 815.9 286.7 816.0 287.3 815.6 287.9 815.1 288.6 814.9 289.2 815.3 289.8 815.9 290.5 816.5 291.1 816.8 291.7 816.7 M303.4 816.4 304.0 816.6 304.7 816.6 305.3 816.4 305.9 816.1 306.6 815.7 307.2 815.2 307.8 814.9 308.5 814.8 309.1 814.9 309.7 815.2 310.4 815.6 311.0 815.7 311.6 815.7 312.3 815.6 312.9 815.8 313.5 816.3 314.2 816.9 314.8 817.1 315.5 816.7 316.1 815.5 316.7 814.3 317.4 813.8 318.0 814.4 318.6 815.9 319.3 817.3 319.9 817.5 320.5 816.3 321.2 814.3 321.8 813.1 322.4 813.7 323.1 815.8 323.7 818.1 324.3 819.0 325.0 817.7 325.6 814.9 326.2 812.6 326.9 812.3 327.5 814.3 328.1 817.3 328.8 819.1 329.4 818.6 330.0 816.2 330.7 813.6 331.3 812.5 331.9 813.6 332.6 816.1 333.2 818.1 333.8 818.5 334.5 817.0 335.1 814.9 335.8 813.5 336.4 813.5 337.0 814.7 337.7 816.1 338.3 816.8 338.9 816.5 339.6 815.7 340.2 815.2 340.8 815.2 341.5 815.8 342.1 816.5 342.7 816.9 343.4 816.7 344.0 816.1 M146.6 867.8 147.3 867.9 147.9 868.1 148.5 868.3 149.2 868.6 149.8 869.0 150.4 869.3 151.1 869.6 151.7 869.7 152.3 869.6 153.0 869.3 153.6 868.8 154.2 868.3 154.9 868.0 155.5 868.0 156.1 868.3 156.8 868.6 157.4 868.6 158.0 868.3 158.7 868.0 159.3 868.1 159.9 868.7 160.6 869.6 161.2 870.3 161.8 870.2 162.5 869.2 163.1 867.8 163.7 867.0 164.4 867.3 165.0 868.6 165.7 870.1 166.3 870.7 166.9 869.8 167.6 868.0 168.2 866.6 168.8 866.5 169.5 868.0 170.1 870.0 170.7 871.2 171.4 870.7 172.0 868.9 172.6 867.0 173.3 866.3 173.9 867.2 174.5 869.0 175.2 870.4 175.8 870.6 176.4 869.5 177.1 867.9 177.7 867.1 178.3 867.4 179.0 868.7 179.6 869.9 180.2 870.4 180.9 870.0 181.5 868.9 182.1 868.0 182.8 867.7 183.4 867.9 184.0 868.3 184.7 868.5 185.3 868.5 186.0 868.4 186.6 868.3 187.2 868.5 M198.9 868.0 199.5 868.3 200.1 868.6 200.8 869.0 201.4 869.2 202.1 869.5 202.7 869.6 203.3 869.6 204.0 869.4 204.6 869.1 205.2 868.6 205.9 868.1 206.5 867.8 207.1 867.8 207.8 868.1 208.4 868.5 209.0 868.8 209.7 868.8 210.3 868.6 210.9 868.5 211.6 868.7 212.2 869.2 212.8 869.9 213.5 870.1 214.1 869.5 214.7 868.4 215.4 867.3 216.0 867.0 216.6 867.8 217.3 869.3 217.9 870.3 218.5 870.3 219.2 869.0 219.8 867.4 220.4 866.6 221.1 867.2 221.7 868.9 222.4 870.5 223.0 871.0 223.6 869.9 224.3 868.0 224.9 866.7 225.5 866.7 226.2 868.0 226.8 869.7 227.4 870.6 228.1 870.2 228.7 868.8 229.3 867.6 230.0 867.3 230.6 868.1 231.2 869.3 231.9 870.1 232.5 870.1 233.1 869.2 233.8 868.2 234.4 867.5 235.0 867.5 235.7 867.9 236.3 868.5 236.9 868.8 237.6 868.8 238.2 868.8 238.8 868.8 239.5 869.0 M251.1 867.8 251.8 868.0 252.4 868.3 253.0 868.7 253.7 869.1 254.3 869.4 254.9 869.5 255.6 869.5 256.2 869.3 256.8 869.1 257.5 868.9 258.1 868.8 258.8 868.6 259.4 868.3 260.0 867.9 260.7 867.5 261.3 867.5 261.9 868.1 262.6 869.0 263.2 869.9 263.8 870.1 264.5 869.5 265.1 868.4 265.7 867.6 266.4 867.7 267.0 868.8 267.6 870.1 268.3 870.6 268.9 869.7 269.5 867.9 270.2 866.3 270.8 866.1 271.4 867.7 272.1 870.1 272.7 871.6 273.3 871.2 274.0 869.1 274.6 866.7 275.2 865.6 275.9 866.6 276.5 869.1 277.1 871.2 277.8 871.6 278.4 870.1 279.1 867.7 279.7 866.1 280.3 866.3 281.0 868.0 281.6 870.0 282.2 871.0 282.9 870.5 283.5 869.1 284.1 867.8 284.8 867.5 285.4 868.1 286.0 869.1 286.7 869.6 287.3 869.3 287.9 868.5 288.6 867.7 289.2 867.4 289.8 867.7 290.5 868.4 291.1 869.1 291.7 869.5 M303.4 868.8 304.0 869.2 304.7 869.4 305.3 869.5 305.9 869.5 306.6 869.4 307.2 869.2 307.8 868.9 308.5 868.6 309.1 868.2 309.7 867.8 310.4 867.6 311.0 867.7 311.6 868.2 312.3 868.9 312.9 869.4 313.5 869.4 314.2 869.1 314.8 868.6 315.5 868.4 316.1 868.8 316.7 869.5 317.4 870.1 318.0 869.8 318.6 868.6 319.3 867.2 319.9 866.4 320.5 867.1 321.2 868.8 321.8 870.6 322.4 871.2 323.1 870.0 323.7 867.8 324.3 866.1 325.0 866.1 325.6 868.0 326.2 870.4 326.9 871.8 327.5 871.1 328.1 868.8 328.8 866.4 329.4 865.6 330.0 866.9 330.7 869.3 331.3 871.2 331.9 871.3 332.6 869.8 333.2 867.8 333.8 866.7 334.5 867.1 335.1 868.6 335.8 870.1 336.4 870.5 337.0 869.6 337.7 868.2 338.3 867.1 338.9 867.0 339.6 867.7 340.2 868.7 340.8 869.4 341.5 869.6 342.1 869.4 342.7 869.1 343.4 869.0 344.0 869.1 M355.7 867.9 356.3 867.9 356.9 868.0 357.6 868.2 358.2 868.5 358.8 868.8 359.5 869.2 360.1 869.5 360.7 869.7 361.4 869.6 362.0 869.4 362.6 868.9 363.3 868.4 363.9 868.1 364.5 868.1 365.2 868.3 365.8 868.5 366.4 868.5 367.1 868.3 367.7 868.0 368.3 868.1 369.0 868.7 369.6 869.5 370.3 870.2 370.9 870.2 371.5 869.3 372.2 868.0 372.8 867.2 373.4 867.3 374.1 868.5 374.7 869.9 375.3 870.5 376.0 869.8 376.6 868.2 377.2 866.8 377.9 866.6 378.5 867.9 379.1 869.7 379.8 870.9 380.4 870.6 381.0 869.1 381.7 867.3 382.3 866.5 382.9 867.2 383.6 868.8 384.2 870.2 384.8 870.4 385.5 869.5 386.1 868.1 386.7 867.2 387.4 867.5 388.0 868.6 388.6 869.8 389.3 870.3 389.9 870.0 390.6 869.1 391.2 868.2 391.8 867.8 392.5 867.9 393.1 868.3 393.7 868.5 394.4 868.5 395.0 868.3 395.6 868.3 396.3 868.4 M42.1 922.6 42.7 922.5 43.4 922.3 44.0 921.9 44.6 921.6 45.3 921.3 45.9 921.1 46.5 921.0 47.2 920.9 47.8 921.0 48.4 921.2 49.1 921.5 49.7 922.0 50.3 922.5 51.0 922.8 51.6 922.7 52.2 922.3 52.9 921.7 53.5 921.3 54.2 921.3 54.8 921.7 55.4 922.0 56.1 922.0 56.7 921.5 57.3 920.8 58.0 920.4 58.6 920.8 59.2 921.9 59.9 923.0 60.5 923.5 61.1 922.8 61.8 921.4 62.4 920.2 63.0 920.0 63.7 921.1 64.3 922.7 64.9 923.7 65.6 923.4 66.2 921.9 66.8 920.3 67.5 919.7 68.1 920.4 68.7 922.0 69.4 923.4 70.0 923.6 70.6 922.7 71.3 921.2 71.9 920.3 72.5 920.4 73.2 921.3 73.8 922.3 74.5 922.7 75.1 922.2 75.7 921.3 76.4 920.7 77.0 920.7 77.6 921.3 78.3 922.2 78.9 922.8 79.5 922.9 80.2 922.6 80.8 922.1 81.4 921.7 82.1 921.5 82.7 921.4 M94.4 921.0 95.0 921.3 95.6 921.7 96.3 922.1 96.9 922.4 97.5 922.6 98.2 922.6 98.8 922.4 99.4 922.1 100.1 921.8 100.7 921.6 101.3 921.5 102.0 921.4 102.6 921.1 103.2 920.8 103.9 920.7 104.5 920.9 105.1 921.6 105.8 922.5 106.4 923.1 107.0 923.0 107.7 922.2 108.3 921.2 109.0 920.6 109.6 920.9 110.2 922.0 110.9 923.1 111.5 923.3 112.1 922.2 112.8 920.5 113.4 919.3 114.0 919.6 114.7 921.4 115.3 923.5 115.9 924.5 116.6 923.6 117.2 921.4 117.8 919.3 118.5 918.9 119.1 920.3 119.7 922.7 120.4 924.4 121.0 924.2 121.6 922.4 122.3 920.2 122.9 919.1 123.5 919.8 124.2 921.7 124.8 923.4 125.4 924.0 126.1 923.2 126.7 921.7 127.3 920.6 128.0 920.5 128.6 921.2 129.3 922.1 129.9 922.4 130.5 922.0 131.2 921.2 131.8 920.6 132.4 920.6 133.1 921.1 133.7 921.9 134.3 922.5 135.0 922.8 M146.6 922.6 147.3 922.5 147.9 922.3 148.5 921.9 149.2 921.6 149.8 921.3 150.4 921.1 151.1 921.0 151.7 920.9 152.3 921.0 153.0 921.1 153.6 921.5 154.2 922.0 154.9 922.6 155.5 922.9 156.1 922.8 156.8 922.2 157.4 921.5 158.0 921.1 158.7 921.2 159.3 921.8 159.9 922.3 160.6 922.3 161.2 921.6 161.8 920.5 162.5 919.9 163.1 920.4 163.7 921.9 164.4 923.5 165.0 924.1 165.7 923.2 166.3 921.2 166.9 919.5 167.6 919.3 168.2 920.8 168.8 923.1 169.5 924.5 170.1 924.1 170.7 922.0 171.4 919.8 172.0 918.8 172.6 919.8 173.3 922.1 173.9 924.0 174.5 924.4 175.2 923.0 175.8 921.0 176.4 919.6 177.1 919.8 177.7 921.1 178.3 922.6 179.0 923.2 179.6 922.6 180.2 921.3 180.9 920.4 181.5 920.3 182.1 921.1 182.8 922.2 183.4 923.0 184.0 923.1 184.7 922.6 185.3 922.0 186.0 921.6 186.6 921.4 187.2 921.4 M198.9 921.4 199.5 921.8 200.1 922.2 200.8 922.5 201.4 922.7 202.1 922.6 202.7 922.4 203.3 921.9 204.0 921.5 204.6 921.3 205.2 921.3 205.9 921.3 206.5 921.3 207.1 921.1 207.8 920.9 208.4 920.8 209.0 921.3 209.7 922.2 210.3 923.2 210.9 923.6 211.6 923.0 212.2 921.6 212.8 920.3 213.5 919.9 214.1 920.9 214.7 922.7 215.4 923.9 216.0 923.6 216.6 921.7 217.3 919.4 217.9 918.4 218.5 919.6 219.2 922.4 219.8 925.0 220.4 925.5 221.1 923.4 221.7 920.1 222.4 917.8 223.0 918.2 223.6 920.9 224.3 924.2 224.9 925.7 225.5 924.5 226.2 921.5 226.8 918.8 227.4 918.2 228.1 919.9 228.7 922.7 229.3 924.7 230.0 924.7 230.6 922.9 231.2 920.7 231.9 919.6 232.5 920.0 233.1 921.3 233.8 922.5 234.4 922.7 235.0 922.1 235.7 921.0 236.3 920.5 236.9 920.7 237.6 921.6 238.2 922.5 238.8 923.0 239.5 923.0 M251.1 922.0 251.8 922.3 252.4 922.6 253.0 922.7 253.7 922.6 254.3 922.3 254.9 921.9 255.6 921.4 256.2 921.1 256.8 921.0 257.5 921.2 258.1 921.4 258.8 921.4 259.4 921.3 260.0 921.1 260.7 921.2 261.3 921.8 261.9 922.8 262.6 923.5 263.2 923.5 263.8 922.4 264.5 920.8 265.1 919.7 265.7 919.8 266.4 921.4 267.0 923.3 267.6 924.2 268.3 923.2 268.9 920.8 269.5 918.7 270.2 918.4 270.8 920.4 271.4 923.7 272.1 925.8 272.7 925.3 273.3 922.3 274.0 918.8 274.6 917.2 275.2 918.7 275.9 922.2 276.5 925.4 277.1 926.1 277.8 923.8 278.4 920.3 279.1 917.9 279.7 918.2 280.3 920.8 281.0 923.9 281.6 925.3 282.2 924.4 282.9 922.0 283.5 919.8 284.1 919.1 284.8 920.0 285.4 921.7 286.0 922.9 286.7 922.9 287.3 921.9 287.9 920.9 288.6 920.6 289.2 921.2 289.8 922.1 290.5 922.9 291.1 923.2 291.7 922.8 M303.4 921.1 304.0 920.8 304.7 920.8 305.3 920.9 305.9 921.2 306.6 921.6 307.2 922.0 307.8 922.2 308.5 922.2 309.1 922.2 309.7 922.3 310.4 922.5 311.0 922.5 311.6 922.3 312.3 921.7 312.9 920.8 313.5 920.1 314.2 920.1 314.8 921.0 315.5 922.3 316.1 923.2 316.7 923.0 317.4 921.8 318.0 920.4 318.6 919.8 319.3 920.8 319.9 922.9 320.5 924.7 321.2 924.6 321.8 922.6 322.4 919.6 323.1 917.8 323.7 918.5 324.3 921.5 325.0 924.8 325.6 926.1 326.2 924.4 326.9 920.8 327.5 917.8 328.1 917.4 328.8 919.9 329.4 923.6 330.0 925.9 330.7 925.3 331.3 922.4 331.9 919.2 332.6 917.8 333.2 919.0 333.8 921.8 334.5 924.1 335.1 924.6 335.8 923.3 336.4 921.2 337.0 920.0 337.7 920.2 338.3 921.6 338.9 923.0 339.6 923.4 340.2 922.7 340.8 921.5 341.5 920.4 342.1 920.1 342.7 920.5 343.4 921.2 344.0 921.8 M355.7 922.6 356.3 922.4 356.9 922.1 357.6 921.8 358.2 921.4 358.8 921.0 359.5 920.8 360.1 920.7 360.7 921.0 361.4 921.4 362.0 921.8 362.6 922.1 363.3 922.2 363.9 922.1 364.5 922.0 365.2 922.1 365.8 922.4 366.4 922.7 367.1 922.5 367.7 921.7 368.3 920.7 369.0 920.0 369.6 920.1 370.3 921.2 370.9 922.6 371.5 923.5 372.2 923.0 372.8 921.6 373.4 920.0 374.1 919.6 374.7 920.8 375.3 922.9 376.0 924.4 376.6 924.2 377.2 922.3 377.9 919.9 378.5 918.6 379.1 919.4 379.8 921.8 380.4 924.1 381.0 924.8 381.7 923.4 382.3 920.9 382.9 919.1 383.6 919.2 384.2 920.9 384.8 923.1 385.5 924.2 386.1 923.6 386.7 921.8 387.4 920.1 388.0 919.5 388.6 920.2 389.3 921.6 389.9 922.7 390.6 923.0 391.2 922.5 391.8 921.8 392.5 921.4 393.1 921.6 393.7 922.1 394.4 922.5 395.0 922.4 395.6 921.9 396.3 921.3 M407.9 921.4 408.6 921.1 409.2 920.8 409.8 920.8 410.5 921.0 411.1 921.3 411.7 921.6 412.4 921.9 413.0 922.0 413.6 922.1 414.3 922.3 414.9 922.5 415.5 922.7 416.2 922.7 416.8 922.2 417.4 921.2 418.1 920.4 418.7 920.1 419.3 920.6 420.0 921.8 420.6 922.9 421.2 923.0 421.9 922.0 422.5 920.5 423.1 919.7 423.8 920.4 424.4 922.4 425.0 924.4 425.7 925.0 426.3 923.3 427.0 920.4 427.6 918.0 428.2 918.1 428.9 920.6 429.5 924.1 430.1 926.1 430.8 925.1 431.4 921.8 432.0 918.4 432.7 917.2 433.3 919.1 433.9 922.7 434.6 925.6 435.2 925.8 435.8 923.3 436.5 919.9 437.1 917.9 437.7 918.5 438.4 921.0 439.0 923.5 439.6 924.5 440.3 923.6 440.9 921.6 441.5 920.1 442.2 920.1 442.8 921.3 443.4 922.8 444.1 923.5 444.7 923.2 445.3 922.0 446.0 920.8 446.6 920.2 447.3 920.4 447.9 920.9 448.5 921.5 M460.2 921.8 460.8 922.1 461.4 922.4 462.1 922.6 462.7 922.6 463.4 922.5 464.0 922.1 464.6 921.7 465.3 921.4 465.9 921.1 466.5 921.1 467.2 921.1 467.8 921.2 468.4 921.2 469.1 921.2 469.7 921.4 470.3 921.8 471.0 922.4 471.6 922.9 472.2 923.0 472.9 922.5 473.5 921.6 474.1 920.8 474.8 920.7 475.4 921.3 476.0 922.2 476.7 922.8 477.3 922.5 477.9 921.4 478.6 920.2 479.2 920.0 479.8 920.9 480.5 922.5 481.1 923.7 481.7 923.7 482.4 922.3 483.0 920.5 483.7 919.5 484.3 920.0 484.9 921.7 485.6 923.4 486.2 923.9 486.8 923.0 487.5 921.2 488.1 919.9 488.7 919.9 489.4 921.1 490.0 922.7 490.6 923.6 491.3 923.3 491.9 922.2 492.5 921.0 493.2 920.4 493.8 920.7 494.4 921.4 495.1 922.0 495.7 922.0 496.3 921.6 497.0 921.2 497.6 921.1 498.2 921.4 498.9 922.0 499.5 922.6 500.1 922.8 500.8 922.7 M42.1 973.9 42.7 974.1 43.4 974.4 44.0 974.8 44.6 975.2 45.3 975.5 45.9 975.6 46.5 975.5 47.2 975.3 47.8 975.1 48.4 974.8 49.1 974.6 49.7 974.4 50.3 974.2 51.0 973.9 51.6 973.8 52.2 973.9 52.9 974.3 53.5 975.0 54.2 975.6 54.8 975.7 55.4 975.4 56.1 974.8 56.7 974.3 57.3 974.3 58.0 974.8 58.6 975.5 59.2 975.7 59.9 975.1 60.5 974.1 61.1 973.3 61.8 973.3 62.4 974.2 63.0 975.6 63.7 976.4 64.3 976.1 64.9 974.9 65.6 973.5 66.2 973.0 66.8 973.6 67.5 975.0 68.1 976.2 68.7 976.3 69.4 975.4 70.0 974.0 70.6 973.2 71.3 973.4 71.9 974.4 72.5 975.6 73.2 976.1 73.8 975.8 74.5 975.0 75.1 974.4 75.7 974.2 76.4 974.5 77.0 974.9 77.6 975.1 78.3 974.8 78.9 974.3 79.5 973.8 80.2 973.7 80.8 974.0 81.4 974.6 82.1 975.1 82.7 975.4 M94.4 974.0 95.0 973.9 95.6 973.9 96.3 974.0 96.9 974.3 97.5 974.6 98.2 975.0 98.8 975.3 99.4 975.6 100.1 975.7 100.7 975.6 101.3 975.2 102.0 974.7 102.6 974.3 103.2 974.2 103.9 974.4 104.5 974.5 105.1 974.5 105.8 974.3 106.4 973.9 107.0 973.8 107.7 974.4 108.3 975.3 109.0 976.2 109.6 976.4 110.2 975.6 110.9 974.3 111.5 973.2 112.1 973.2 112.8 974.3 113.4 975.8 114.0 976.7 114.7 976.2 115.3 974.5 115.9 972.8 116.6 972.4 117.2 973.5 117.8 975.5 118.5 977.0 119.1 977.0 119.7 975.5 120.4 973.5 121.0 972.4 121.6 972.9 122.3 974.5 122.9 976.2 123.5 976.7 124.2 975.8 124.8 974.3 125.4 973.1 126.1 973.2 126.7 974.2 127.3 975.6 128.0 976.4 128.6 976.2 129.3 975.4 129.9 974.4 130.5 973.9 131.2 974.0 131.8 974.3 132.4 974.5 133.1 974.5 133.7 974.3 134.3 974.1 135.0 974.2 M146.6 975.6 147.3 975.4 147.9 975.2 148.5 974.8 149.2 974.4 149.8 974.0 150.4 973.8 151.1 973.7 151.7 973.9 152.3 974.4 153.0 974.9 153.6 975.2 154.2 975.2 154.9 975.0 155.5 974.9 156.1 975.0 156.8 975.5 157.4 975.9 158.0 975.7 158.7 974.9 159.3 973.6 159.9 972.6 160.6 972.8 161.2 974.2 161.8 976.0 162.5 977.0 163.1 976.4 163.7 974.5 164.4 972.5 165.0 971.9 165.7 973.5 166.3 976.2 166.9 978.2 167.6 978.0 168.2 975.5 168.8 972.4 169.5 970.7 170.1 971.7 170.7 974.8 171.4 977.9 172.0 978.8 172.6 977.0 173.3 973.7 173.9 971.3 174.5 971.3 175.2 973.6 175.8 976.5 176.4 978.0 177.1 977.2 177.7 974.9 178.3 972.7 179.0 971.9 179.6 972.8 180.2 974.6 180.9 976.1 181.5 976.4 182.1 975.7 182.8 974.7 183.4 974.2 184.0 974.4 184.7 975.1 185.3 975.6 186.0 975.6 186.6 975.1 187.2 974.3 M198.9 974.1 199.5 974.4 200.1 974.8 200.8 975.2 201.4 975.6 202.1 975.7 202.7 975.6 203.3 975.2 204.0 974.8 204.6 974.6 205.2 974.6 205.9 974.7 206.5 974.7 207.1 974.3 207.8 973.6 208.4 973.2 209.0 973.4 209.7 974.6 210.3 976.1 210.9 977.2 211.6 976.8 212.2 975.1 212.8 973.0 213.5 972.0 214.1 973.1 214.7 975.7 215.4 978.0 216.0 978.2 216.6 975.8 217.3 972.1 217.9 969.8 218.5 970.6 219.2 974.4 219.8 978.7 220.4 980.6 221.1 978.5 221.7 973.7 222.4 969.5 223.0 968.8 223.6 972.1 224.3 977.1 224.9 980.4 225.5 979.8 226.2 975.9 226.8 971.3 227.4 969.3 228.1 971.0 228.7 974.9 229.3 978.4 230.0 979.3 230.6 977.3 231.2 974.1 231.9 971.9 232.5 971.9 233.1 973.7 233.8 975.8 234.4 976.6 235.0 975.9 235.7 974.3 236.3 973.1 236.9 972.9 237.6 973.8 238.2 975.1 238.8 976.0 239.5 976.2 M251.1 973.9 251.8 974.1 252.4 974.5 253.0 975.0 253.7 975.5 254.3 975.7 254.9 975.6 255.6 975.3 256.2 974.9 256.8 974.6 257.5 974.7 258.1 975.0 258.8 975.0 259.4 974.5 260.0 973.6 260.7 972.8 261.3 972.8 261.9 974.1 262.6 976.1 263.2 977.7 263.8 977.5 264.5 975.5 265.1 972.7 265.7 971.1 266.4 972.2 267.0 975.5 267.6 978.9 268.3 979.7 268.9 976.9 269.5 972.0 270.2 968.3 270.8 968.7 271.4 973.3 272.1 979.3 272.7 982.5 273.3 980.5 274.0 974.4 274.6 968.4 275.2 966.6 275.9 970.3 276.5 977.0 277.1 982.0 277.8 982.0 278.4 977.2 279.1 971.0 279.7 967.6 280.3 969.1 281.0 974.1 281.6 979.0 282.2 980.7 282.9 978.5 283.5 974.4 284.1 971.2 284.8 970.9 285.4 973.1 286.0 975.9 286.7 977.3 287.3 976.7 287.9 974.7 288.6 972.8 289.2 972.3 289.8 973.2 290.5 974.8 291.1 976.0 291.7 976.4 M303.4 975.2 304.0 975.5 304.7 975.5 305.3 975.4 305.9 975.3 306.6 975.1 307.2 975.0 307.8 974.9 308.5 974.5 309.1 974.0 309.7 973.4 310.4 973.2 311.0 973.7 311.6 974.7 312.3 975.9 312.9 976.5 313.5 976.0 314.2 974.5 314.8 973.2 315.5 973.1 316.1 974.6 316.7 976.8 317.4 978.1 318.0 977.1 318.6 974.0 319.3 970.6 319.9 969.4 320.5 971.8 321.2 976.5 321.8 980.5 322.4 980.8 323.1 976.8 323.7 971.0 324.3 967.4 325.0 968.7 325.6 974.3 326.2 980.5 326.9 982.9 327.5 979.8 328.1 973.2 328.8 967.7 329.4 967.0 330.0 971.5 330.7 977.9 331.3 981.9 331.9 981.0 332.6 976.1 333.2 970.9 333.8 968.8 334.5 970.8 335.1 975.1 335.8 978.6 336.4 979.1 337.0 976.6 337.7 973.2 338.3 971.1 338.9 971.4 339.6 973.5 340.2 975.9 340.8 977.0 341.5 976.7 342.1 975.5 342.7 974.5 343.4 974.2 344.0 974.6 M355.7 975.4 356.3 975.1 356.9 974.8 357.6 974.5 358.2 974.1 358.8 973.8 359.5 973.6 360.1 973.7 360.7 974.3 361.4 975.0 362.0 975.5 362.6 975.6 363.3 975.2 363.9 974.6 364.5 974.4 365.2 974.8 365.8 975.8 366.4 976.5 367.1 976.1 367.7 974.5 368.3 972.4 369.0 971.2 369.6 972.2 370.3 975.0 370.9 978.0 371.5 979.0 372.2 977.0 372.8 973.1 373.4 969.9 374.1 969.9 374.7 973.5 375.3 978.5 376.0 981.3 376.6 979.8 377.2 974.6 377.9 969.2 378.5 967.3 379.1 970.5 379.8 976.6 380.4 981.4 381.0 981.8 381.7 977.4 382.3 971.4 382.9 967.9 383.6 969.1 384.2 974.0 384.8 978.9 385.5 980.7 386.1 978.4 386.7 973.9 387.4 970.4 388.0 969.9 388.6 972.4 389.3 975.9 389.9 978.0 390.6 977.8 391.2 975.9 391.8 973.9 392.5 973.1 393.1 973.8 393.7 975.1 394.4 976.0 395.0 975.9 395.6 975.0 396.3 973.9 M407.9 975.3 408.6 975.0 409.2 974.6 409.8 974.3 410.5 974.0 411.1 973.8 411.7 973.7 412.4 974.0 413.0 974.4 413.6 975.0 414.3 975.4 414.9 975.5 415.5 975.3 416.2 975.0 416.8 974.8 417.4 975.0 418.1 975.4 418.7 975.6 419.3 975.2 420.0 974.2 420.6 973.1 421.2 972.6 421.9 973.3 422.5 975.0 423.1 976.7 423.8 977.1 424.4 975.9 425.0 973.8 425.7 972.1 426.3 972.3 427.0 974.4 427.6 977.0 428.2 978.3 428.9 977.2 429.5 974.3 430.1 971.5 430.8 970.8 431.4 972.7 432.0 976.1 432.7 978.5 433.3 978.4 433.9 975.8 434.6 972.6 435.2 971.0 435.8 971.9 436.5 974.6 437.1 977.2 437.7 977.9 438.4 976.4 439.0 973.9 439.6 972.1 440.3 972.0 440.9 973.5 441.5 975.5 442.2 976.6 442.8 976.5 443.4 975.5 444.1 974.4 444.7 974.1 445.3 974.5 446.0 975.1 446.6 975.4 447.3 975.2 447.9 974.5 448.5 973.8 M460.2 975.5 460.8 975.2 461.4 974.9 462.1 974.5 462.7 974.2 463.4 974.0 464.0 974.0 464.6 974.0 465.3 974.1 465.9 974.3 466.5 974.6 467.2 974.9 467.8 975.4 468.4 975.7 469.1 975.8 469.7 975.5 470.3 974.9 471.0 974.3 471.6 974.0 472.2 974.2 472.9 974.7 473.5 975.1 474.1 975.0 474.8 974.4 475.4 973.7 476.0 973.5 476.7 974.1 477.3 975.4 477.9 976.4 478.6 976.5 479.2 975.5 479.8 973.9 480.5 972.8 481.1 973.0 481.7 974.5 482.4 976.2 483.0 977.0 483.7 976.2 484.3 974.4 484.9 972.8 485.6 972.5 486.2 973.7 486.8 975.6 487.5 976.8 488.1 976.6 488.7 975.3 489.4 973.7 490.0 972.9 490.6 973.4 491.3 974.5 491.9 975.6 492.5 975.8 493.2 975.1 493.8 974.2 494.4 973.7 495.1 973.9 495.7 974.7 496.3 975.6 497.0 976.0 497.6 975.9 498.2 975.3 498.9 974.7 499.5 974.3 500.1 974.2 500.8 974.2 M94.4 1028.4 95.0 1028.6 95.6 1028.6 96.3 1028.4 96.9 1028.2 97.5 1027.9 98.2 1027.6 98.8 1027.3 99.4 1027.0 100.1 1026.9 100.7 1026.8 101.3 1027.0 102.0 1027.4 102.6 1027.9 103.2 1028.4 103.9 1028.6 104.5 1028.5 105.1 1028.1 105.8 1027.8 106.4 1027.6 107.0 1027.8 107.7 1028.1 108.3 1028.2 109.0 1027.8 109.6 1027.0 110.2 1026.4 110.9 1026.5 111.5 1027.3 112.1 1028.4 112.8 1029.2 113.4 1029.1 114.0 1028.0 114.7 1026.7 115.3 1026.1 115.9 1026.6 116.6 1028.0 117.2 1029.3 117.8 1029.5 118.5 1028.6 119.1 1027.0 119.7 1026.0 120.4 1026.1 121.0 1027.3 121.6 1028.8 122.3 1029.5 122.9 1029.0 123.5 1027.9 124.2 1026.8 124.8 1026.5 125.4 1027.1 126.1 1028.0 126.7 1028.6 127.3 1028.4 128.0 1027.7 128.6 1026.9 129.3 1026.5 129.9 1026.8 130.5 1027.6 131.2 1028.3 131.8 1028.6 132.4 1028.6 133.1 1028.4 133.7 1028.2 134.3 1028.0 135.0 1027.9 M146.6 1027.3 147.3 1027.0 147.9 1026.8 148.5 1026.8 149.2 1027.1 149.8 1027.4 150.4 1027.8 151.1 1028.0 151.7 1028.2 152.3 1028.2 153.0 1028.3 153.6 1028.5 154.2 1028.6 154.9 1028.5 155.5 1027.9 156.1 1027.1 156.8 1026.3 157.4 1026.2 158.0 1026.8 158.7 1028.0 159.3 1028.9 159.9 1028.9 160.6 1028.0 161.2 1026.6 161.8 1026.0 162.5 1026.7 163.1 1028.6 163.7 1030.3 164.4 1030.6 165.0 1028.9 165.7 1026.2 166.3 1024.3 166.9 1024.6 167.6 1027.1 168.2 1030.2 168.8 1031.7 169.5 1030.5 170.1 1027.4 170.7 1024.5 171.4 1023.7 172.0 1025.7 172.6 1029.0 173.3 1031.4 173.9 1031.3 174.5 1028.8 175.2 1025.8 175.8 1024.2 176.4 1025.0 177.1 1027.3 177.7 1029.6 178.3 1030.3 179.0 1029.3 179.6 1027.5 180.2 1026.3 180.9 1026.4 181.5 1027.5 182.1 1028.8 182.8 1029.4 183.4 1028.9 184.0 1027.8 184.7 1026.7 185.3 1026.3 186.0 1026.5 186.6 1027.1 187.2 1027.6 M198.9 1027.3 199.5 1026.9 200.1 1026.8 200.8 1026.8 201.4 1027.1 202.1 1027.5 202.7 1027.9 203.3 1028.1 204.0 1028.1 204.6 1028.1 205.2 1028.2 205.9 1028.5 206.5 1028.8 207.1 1028.8 207.8 1028.1 208.4 1026.9 209.0 1025.9 209.7 1025.7 210.3 1026.7 210.9 1028.3 211.6 1029.6 212.2 1029.5 212.8 1028.0 213.5 1025.9 214.1 1024.9 214.7 1026.1 215.4 1028.9 216.0 1031.5 216.6 1031.9 217.3 1029.5 217.9 1025.4 218.5 1022.6 219.2 1023.1 219.8 1026.8 220.4 1031.4 221.1 1033.7 221.7 1031.9 222.4 1027.2 223.0 1022.8 223.6 1021.7 224.3 1024.7 224.9 1029.7 225.5 1033.2 226.2 1033.0 226.8 1029.3 227.4 1024.8 228.1 1022.5 228.7 1023.7 229.3 1027.3 230.0 1030.7 230.6 1031.7 231.2 1030.1 231.9 1027.3 232.5 1025.4 233.1 1025.4 233.8 1027.2 234.4 1029.2 235.0 1030.1 235.7 1029.4 236.3 1027.9 236.9 1026.4 237.6 1025.8 238.2 1026.2 238.8 1027.1 239.5 1027.8 M251.1 1026.9 251.8 1027.0 252.4 1027.2 253.0 1027.4 253.7 1027.6 254.3 1027.8 254.9 1028.2 255.6 1028.7 256.2 1029.0 256.8 1029.0 257.5 1028.4 258.1 1027.4 258.8 1026.6 259.4 1026.4 260.0 1027.0 260.7 1028.2 261.3 1028.9 261.9 1028.5 262.6 1027.0 263.2 1025.4 263.8 1025.2 264.5 1026.9 265.1 1029.9 265.7 1032.2 266.4 1031.9 267.0 1028.7 267.6 1024.4 268.3 1021.9 268.9 1023.3 269.5 1028.1 270.2 1033.1 270.8 1034.8 271.4 1031.5 272.1 1025.3 272.7 1020.3 273.3 1020.2 274.0 1025.3 274.6 1032.3 275.2 1036.3 275.9 1034.5 276.5 1028.2 277.1 1021.7 277.8 1019.4 278.4 1022.7 279.1 1029.1 279.7 1034.1 280.3 1034.5 281.0 1030.5 281.6 1025.1 282.2 1022.0 282.9 1023.0 283.5 1027.0 284.1 1031.1 284.8 1032.6 285.4 1031.0 286.0 1027.8 286.7 1025.2 287.3 1024.6 287.9 1025.9 288.6 1027.7 289.2 1028.9 289.8 1028.7 290.5 1027.8 291.1 1026.9 291.7 1026.8 M303.4 1027.0 304.0 1027.0 304.7 1027.1 305.3 1027.2 305.9 1027.4 306.6 1027.6 307.2 1028.1 307.8 1028.6 308.5 1029.0 309.1 1029.1 309.7 1028.6 310.4 1027.7 311.0 1026.8 311.6 1026.5 312.3 1027.0 312.9 1028.1 313.5 1028.8 314.2 1028.6 314.8 1027.1 315.5 1025.5 316.1 1024.9 316.7 1026.4 317.4 1029.4 318.0 1032.0 318.6 1032.2 319.3 1029.3 319.9 1025.0 320.5 1022.0 321.2 1022.9 321.8 1027.3 322.4 1032.6 323.1 1034.9 323.7 1032.2 324.3 1026.1 325.0 1020.7 325.6 1019.8 326.2 1024.4 326.9 1031.4 327.5 1036.0 328.1 1035.1 328.8 1029.2 329.4 1022.5 330.0 1019.4 330.7 1022.0 331.3 1028.2 331.9 1033.6 332.6 1034.7 333.2 1031.2 333.8 1025.7 334.5 1022.2 335.1 1022.6 335.8 1026.4 336.4 1030.6 337.0 1032.6 337.7 1031.4 338.3 1028.3 338.9 1025.6 339.6 1024.7 340.2 1025.7 340.8 1027.6 341.5 1028.8 342.1 1028.7 342.7 1027.8 343.4 1026.9 344.0 1026.7 M355.7 1027.2 356.3 1026.9 356.9 1026.8 357.6 1026.8 358.2 1027.1 358.8 1027.6 359.5 1027.9 360.1 1028.1 360.7 1028.1 361.4 1028.0 362.0 1028.2 362.6 1028.6 363.3 1028.9 363.9 1028.9 364.5 1028.1 365.2 1026.8 365.8 1025.7 366.4 1025.5 367.1 1026.7 367.7 1028.6 368.3 1030.0 369.0 1029.9 369.6 1027.9 370.3 1025.5 370.9 1024.3 371.5 1025.7 372.2 1029.1 372.8 1032.2 373.4 1032.7 374.1 1029.7 374.7 1024.9 375.3 1021.6 376.0 1022.3 376.6 1026.8 377.2 1032.2 377.9 1034.8 378.5 1032.6 379.1 1027.0 379.8 1021.8 380.4 1020.6 381.0 1024.2 381.7 1030.1 382.3 1034.3 382.9 1033.9 383.6 1029.5 384.2 1024.2 384.8 1021.5 385.5 1023.0 386.1 1027.3 386.7 1031.3 387.4 1032.5 388.0 1030.5 388.6 1027.1 389.3 1024.8 389.9 1024.9 390.6 1027.0 391.2 1029.4 391.8 1030.4 392.5 1029.7 393.1 1027.9 393.7 1026.2 394.4 1025.6 395.0 1026.1 395.6 1027.1 396.3 1028.0 M407.9 1027.4 408.6 1027.1 409.2 1027.0 409.8 1026.9 410.5 1026.9 411.1 1027.1 411.7 1027.4 412.4 1027.9 413.0 1028.4 413.6 1028.8 414.3 1028.8 414.9 1028.5 415.5 1027.8 416.2 1027.4 416.8 1027.3 417.4 1027.7 418.1 1028.1 418.7 1028.2 419.3 1027.5 420.0 1026.4 420.6 1025.7 421.2 1026.2 421.9 1027.8 422.5 1029.7 423.1 1030.7 423.8 1029.9 424.4 1027.5 425.0 1025.1 425.7 1024.4 426.3 1026.1 427.0 1029.3 427.6 1031.6 428.2 1031.4 428.9 1028.5 429.5 1024.9 430.1 1022.9 430.8 1024.2 431.4 1028.0 432.0 1031.6 432.7 1032.7 433.3 1030.4 433.9 1026.4 434.6 1023.4 435.2 1023.5 435.8 1026.3 436.5 1029.8 437.1 1031.7 437.7 1030.7 438.4 1027.9 439.0 1025.1 439.6 1024.3 440.3 1025.8 440.9 1028.3 441.5 1030.2 442.2 1030.5 442.8 1029.2 443.4 1027.5 444.1 1026.5 444.7 1026.5 445.3 1027.3 446.0 1028.0 446.6 1028.1 447.3 1027.7 447.9 1027.0 448.5 1026.7 M42.1 1080.0 42.7 1080.3 43.4 1080.7 44.0 1081.0 44.6 1081.3 45.3 1081.5 45.9 1081.6 46.5 1081.6 47.2 1081.4 47.8 1081.1 48.4 1080.6 49.1 1080.2 49.7 1079.8 50.3 1079.8 51.0 1080.1 51.6 1080.5 52.2 1080.8 52.9 1080.8 53.5 1080.6 54.2 1080.5 54.8 1080.7 55.4 1081.3 56.1 1081.9 56.7 1082.1 57.3 1081.6 58.0 1080.4 58.6 1079.3 59.2 1079.1 59.9 1079.9 60.5 1081.3 61.1 1082.4 61.8 1082.3 62.4 1081.1 63.0 1079.5 63.7 1078.6 64.3 1079.2 64.9 1080.9 65.6 1082.5 66.2 1083.0 66.8 1081.9 67.5 1080.1 68.1 1078.7 68.7 1078.7 69.4 1080.0 70.0 1081.7 70.6 1082.6 71.3 1082.2 71.9 1080.9 72.5 1079.7 73.2 1079.3 73.8 1080.1 74.5 1081.3 75.1 1082.2 75.7 1082.1 76.4 1081.3 77.0 1080.2 77.6 1079.6 78.3 1079.5 78.9 1080.0 79.5 1080.5 80.2 1080.8 80.8 1080.8 81.4 1080.8 82.1 1080.8 82.7 1081.1 M94.4 1079.9 95.0 1080.1 95.6 1080.3 96.3 1080.6 96.9 1081.0 97.5 1081.3 98.2 1081.5 98.8 1081.7 99.4 1081.7 100.1 1081.5 100.7 1081.0 101.3 1080.4 102.0 1080.0 102.6 1079.8 103.2 1080.1 103.9 1080.5 104.5 1080.8 105.1 1080.8 105.8 1080.4 106.4 1080.1 107.0 1080.2 107.7 1081.0 108.3 1082.0 109.0 1082.7 109.6 1082.2 110.2 1080.8 110.9 1079.2 111.5 1078.5 112.1 1079.3 112.8 1081.1 113.4 1082.8 114.0 1083.1 114.7 1081.7 115.3 1079.4 115.9 1077.9 116.6 1078.3 117.2 1080.4 117.8 1082.8 118.5 1083.9 119.1 1082.9 119.7 1080.4 120.4 1078.2 121.0 1077.8 121.6 1079.3 122.3 1081.6 122.9 1083.2 123.5 1083.0 124.2 1081.3 124.8 1079.5 125.4 1078.7 126.1 1079.4 126.7 1081.0 127.3 1082.4 128.0 1082.7 128.6 1081.9 129.3 1080.5 129.9 1079.6 130.5 1079.3 131.2 1079.8 131.8 1080.4 132.4 1080.8 133.1 1080.8 133.7 1080.6 134.3 1080.5 135.0 1080.7 M146.6 1081.6 147.3 1081.4 147.9 1081.0 148.5 1080.6 149.2 1080.3 149.8 1080.1 150.4 1080.1 151.1 1080.1 151.7 1080.1 152.3 1080.1 153.0 1080.3 153.6 1080.7 154.2 1081.3 154.9 1081.9 155.5 1082.2 156.1 1081.8 156.8 1080.9 157.4 1080.0 158.0 1079.6 158.7 1080.1 159.3 1081.1 159.9 1082.0 160.6 1081.8 161.2 1080.5 161.8 1078.8 162.5 1078.1 163.1 1079.2 163.7 1081.5 164.4 1083.8 165.0 1084.3 165.7 1082.4 166.3 1079.2 166.9 1076.9 167.6 1077.2 168.2 1080.0 168.8 1083.4 169.5 1085.2 170.1 1084.0 170.7 1080.5 171.4 1077.2 172.0 1076.3 172.6 1078.4 173.3 1082.0 173.9 1084.7 174.5 1084.6 175.2 1082.1 175.8 1078.9 176.4 1077.2 177.1 1078.0 177.7 1080.3 178.3 1082.6 179.0 1083.2 179.6 1082.0 180.2 1080.1 180.9 1078.8 181.5 1078.9 182.1 1080.2 182.8 1081.8 183.4 1082.6 184.0 1082.5 184.7 1081.6 185.3 1080.6 186.0 1080.1 186.6 1080.1 187.2 1080.3 M198.9 1080.0 199.5 1080.3 200.1 1080.8 200.8 1081.2 201.4 1081.6 202.1 1081.7 202.7 1081.6 203.3 1081.3 204.0 1080.9 204.6 1080.6 205.2 1080.6 205.9 1080.8 206.5 1080.7 207.1 1080.3 207.8 1079.6 208.4 1079.1 209.0 1079.4 209.7 1080.5 210.3 1082.1 210.9 1083.2 211.6 1082.9 212.2 1081.2 212.8 1079.0 213.5 1078.0 214.1 1079.0 214.7 1081.6 215.4 1084.1 216.0 1084.4 216.6 1081.9 217.3 1078.1 217.9 1075.6 218.5 1076.4 219.2 1080.3 219.8 1084.8 220.4 1086.8 221.1 1084.7 221.7 1079.9 222.4 1075.4 223.0 1074.6 223.6 1077.9 224.3 1083.1 224.9 1086.6 225.5 1086.1 226.2 1082.0 226.8 1077.3 227.4 1075.1 228.1 1076.8 228.7 1080.8 229.3 1084.5 230.0 1085.4 230.6 1083.4 231.2 1080.1 231.9 1077.9 232.5 1077.9 233.1 1079.7 233.8 1081.8 234.4 1082.7 235.0 1082.0 235.7 1080.4 236.3 1079.1 236.9 1078.9 237.6 1079.7 238.2 1081.0 238.8 1082.0 239.5 1082.2 M251.1 1081.2 251.8 1080.9 252.4 1080.6 253.0 1080.3 253.7 1080.0 254.3 1079.7 254.9 1079.7 255.6 1080.0 256.2 1080.6 256.8 1081.3 257.5 1081.7 258.1 1081.7 258.8 1081.2 259.4 1080.6 260.0 1080.4 260.7 1080.9 261.3 1081.7 261.9 1082.2 262.6 1081.7 263.2 1080.0 263.8 1078.2 264.5 1077.5 265.1 1078.8 265.7 1081.6 266.4 1084.2 267.0 1084.7 267.6 1082.4 268.3 1078.6 268.9 1076.0 269.5 1076.6 270.2 1080.4 270.8 1085.0 271.4 1087.0 272.1 1084.8 272.7 1079.6 273.3 1074.9 274.0 1074.0 274.6 1077.7 275.2 1083.5 275.9 1087.5 276.5 1086.9 277.1 1082.2 277.8 1076.7 278.4 1074.1 279.1 1076.1 279.7 1081.0 280.3 1085.3 281.0 1086.3 281.6 1083.5 282.2 1079.2 282.9 1076.2 283.5 1076.4 284.1 1079.2 284.8 1082.4 285.4 1084.1 286.0 1083.6 286.7 1081.6 287.3 1079.7 287.9 1079.2 288.6 1079.9 289.2 1081.2 289.8 1081.9 290.5 1081.6 291.1 1080.6 291.7 1079.7 M303.4 1080.1 304.0 1080.0 304.7 1080.0 305.3 1080.0 305.9 1080.1 306.6 1080.3 307.2 1080.7 307.8 1081.3 308.5 1081.8 309.1 1082.1 309.7 1081.9 310.4 1081.2 311.0 1080.3 311.6 1079.7 312.3 1080.0 312.9 1080.9 313.5 1081.7 314.2 1081.6 314.8 1080.4 315.5 1078.7 316.1 1077.9 316.7 1078.8 317.4 1081.5 318.0 1084.3 318.6 1085.3 319.3 1083.2 319.9 1079.2 320.5 1075.9 321.2 1075.7 321.8 1079.2 322.4 1084.2 323.1 1087.3 323.7 1086.0 324.3 1080.8 325.0 1075.1 325.6 1073.1 326.2 1076.2 326.9 1082.5 327.5 1087.8 328.1 1088.3 328.8 1083.7 329.4 1077.3 330.0 1073.3 330.7 1074.5 331.3 1079.6 331.9 1085.1 332.6 1087.3 333.2 1084.9 333.8 1080.1 334.5 1076.1 335.1 1075.6 335.8 1078.4 336.4 1082.4 337.0 1084.9 337.7 1084.6 338.3 1082.2 338.9 1079.5 339.6 1078.2 340.2 1078.8 340.8 1080.3 341.5 1081.5 342.1 1081.7 342.7 1080.9 343.4 1079.9 344.0 1079.5 M355.7 1081.0 356.3 1081.3 356.9 1081.6 357.6 1081.8 358.2 1081.7 358.8 1081.4 359.5 1080.9 360.1 1080.3 360.7 1080.0 361.4 1080.0 362.0 1080.3 362.6 1080.7 363.3 1080.7 363.9 1080.3 364.5 1079.8 365.2 1079.8 365.8 1080.6 366.4 1082.0 367.1 1083.2 367.7 1083.2 368.3 1081.7 369.0 1079.3 369.6 1077.6 370.3 1077.9 370.9 1080.4 371.5 1083.4 372.2 1084.8 372.8 1083.2 373.4 1079.4 374.1 1076.0 374.7 1075.5 375.3 1078.7 376.0 1083.7 376.6 1087.1 377.2 1086.4 377.9 1081.7 378.5 1076.2 379.1 1073.6 379.8 1075.9 380.4 1081.5 381.0 1086.5 381.7 1087.6 382.3 1084.0 382.9 1078.5 383.6 1074.8 384.2 1075.2 384.8 1079.3 385.5 1084.0 386.1 1086.3 386.7 1084.8 387.4 1081.1 388.0 1077.6 388.6 1076.6 389.3 1078.3 389.9 1081.0 390.6 1082.9 391.2 1082.8 391.8 1081.3 392.5 1079.6 393.1 1079.0 393.7 1079.7 394.4 1081.1 395.0 1082.3 395.6 1082.6 396.3 1082.0 M407.9 1081.0 408.6 1080.6 409.2 1080.3 409.8 1080.1 410.5 1079.9 411.1 1079.8 411.7 1079.9 412.4 1080.3 413.0 1080.8 413.6 1081.4 414.3 1081.7 414.9 1081.7 415.5 1081.2 416.2 1080.7 416.8 1080.6 417.4 1080.9 418.1 1081.4 418.7 1081.6 419.3 1081.0 420.0 1079.8 420.6 1078.6 421.2 1078.4 421.9 1079.7 422.5 1081.8 423.1 1083.6 423.8 1083.6 424.4 1081.6 425.0 1078.9 425.7 1077.3 426.3 1078.1 427.0 1081.1 427.6 1084.2 428.2 1085.2 428.9 1083.1 429.5 1079.2 430.1 1076.1 430.8 1076.1 431.4 1079.2 432.0 1083.4 432.7 1085.9 433.3 1084.8 433.9 1081.1 434.6 1077.3 435.2 1075.9 435.8 1077.8 436.5 1081.5 437.1 1084.4 437.7 1084.6 438.4 1082.2 439.0 1079.0 439.6 1077.2 440.3 1077.8 440.9 1080.0 441.5 1082.4 442.2 1083.4 442.8 1082.8 443.4 1081.2 444.1 1080.0 444.7 1079.7 445.3 1080.3 446.0 1081.1 446.6 1081.4 447.3 1081.1 447.9 1080.3 448.5 1079.6 M460.2 1080.0 460.8 1080.2 461.4 1080.6 462.1 1081.0 462.7 1081.4 463.4 1081.6 464.0 1081.6 464.6 1081.5 465.3 1081.2 465.9 1080.9 466.5 1080.7 467.2 1080.6 467.8 1080.5 468.4 1080.2 469.1 1079.9 469.7 1079.6 470.3 1079.8 471.0 1080.4 471.6 1081.4 472.2 1082.1 472.9 1082.1 473.5 1081.4 474.1 1080.3 474.8 1079.6 475.4 1079.9 476.0 1081.0 476.7 1082.2 477.3 1082.5 477.9 1081.5 478.6 1079.6 479.2 1078.2 479.8 1078.4 480.5 1080.2 481.1 1082.5 481.7 1083.7 482.4 1083.0 483.0 1080.7 483.7 1078.3 484.3 1077.6 484.9 1079.0 485.6 1081.6 486.2 1083.5 486.8 1083.5 487.5 1081.7 488.1 1079.3 488.7 1078.0 489.4 1078.5 490.0 1080.5 490.6 1082.4 491.3 1083.2 491.9 1082.4 492.5 1080.8 493.2 1079.6 493.8 1079.4 494.4 1080.2 495.1 1081.1 495.7 1081.6 496.3 1081.2 497.0 1080.4 497.6 1079.6 498.2 1079.5 498.9 1080.0 499.5 1080.8 500.1 1081.4 500.8 1081.7 M42.1 1132.9 42.7 1132.9 43.4 1133.0 44.0 1133.4 44.6 1133.8 45.3 1134.2 45.9 1134.5 46.5 1134.5 47.2 1134.4 47.8 1134.3 48.4 1134.2 49.1 1134.1 49.7 1134.0 50.3 1133.7 51.0 1133.1 51.6 1132.6 52.2 1132.3 52.9 1132.7 53.5 1133.7 54.2 1134.7 54.8 1135.2 55.4 1134.7 56.1 1133.6 56.7 1132.6 57.3 1132.5 58.0 1133.6 58.6 1135.2 59.2 1136.1 59.9 1135.4 60.5 1133.4 61.1 1131.3 61.8 1130.7 62.4 1132.1 63.0 1134.7 63.7 1136.8 64.3 1136.9 64.9 1134.8 65.6 1131.9 66.2 1130.2 66.8 1130.9 67.5 1133.5 68.1 1136.2 68.7 1137.2 69.4 1135.8 70.0 1133.2 70.6 1131.0 71.3 1130.8 71.9 1132.4 72.5 1134.7 73.2 1136.2 73.8 1136.0 74.5 1134.5 75.1 1133.0 75.7 1132.3 76.4 1132.9 77.0 1134.0 77.6 1134.8 78.3 1134.8 78.9 1133.9 79.5 1132.9 80.2 1132.3 80.8 1132.4 81.4 1133.1 82.1 1133.8 82.7 1134.3 M94.4 1133.1 95.0 1133.5 95.6 1133.9 96.3 1134.3 96.9 1134.6 97.5 1134.7 98.2 1134.6 98.8 1134.3 99.4 1134.0 100.1 1133.7 100.7 1133.5 101.3 1133.5 102.0 1133.4 102.6 1133.2 103.2 1132.8 103.9 1132.7 104.5 1133.0 105.1 1133.7 105.8 1134.8 106.4 1135.4 107.0 1135.2 107.7 1134.2 108.3 1132.9 109.0 1132.3 109.6 1132.8 110.2 1134.3 110.9 1135.5 111.5 1135.6 112.1 1134.2 112.8 1132.1 113.4 1130.8 114.0 1131.4 114.7 1133.6 115.3 1136.1 115.9 1137.2 116.6 1135.9 117.2 1133.1 117.8 1130.7 118.5 1130.3 119.1 1132.3 119.7 1135.2 120.4 1137.1 121.0 1136.7 121.6 1134.3 122.3 1131.7 122.9 1130.6 123.5 1131.6 124.2 1134.0 124.8 1136.0 125.4 1136.5 126.1 1135.3 126.7 1133.5 127.3 1132.2 128.0 1132.2 128.6 1133.2 129.3 1134.3 129.9 1134.7 130.5 1134.2 131.2 1133.2 131.8 1132.6 132.4 1132.6 133.1 1133.2 133.7 1134.1 134.3 1134.7 135.0 1134.9 M146.6 1134.7 147.3 1134.5 147.9 1134.2 148.5 1133.8 149.2 1133.5 149.8 1133.3 150.4 1133.1 151.1 1133.1 151.7 1133.0 152.3 1133.0 153.0 1133.1 153.6 1133.5 154.2 1134.2 154.9 1134.8 155.5 1135.2 156.1 1135.0 156.8 1134.1 157.4 1133.1 158.0 1132.7 158.7 1133.0 159.3 1134.1 159.9 1135.0 160.6 1134.9 161.2 1133.6 161.8 1131.9 162.5 1131.1 163.1 1131.9 163.7 1134.2 164.4 1136.6 165.0 1137.3 165.7 1135.7 166.3 1132.6 166.9 1130.1 167.6 1130.0 168.2 1132.6 168.8 1136.1 169.5 1138.2 170.1 1137.3 170.7 1133.9 171.4 1130.5 172.0 1129.3 172.6 1131.1 173.3 1134.6 173.9 1137.5 174.5 1137.8 175.2 1135.5 175.8 1132.3 176.4 1130.4 177.1 1130.8 177.7 1133.1 178.3 1135.4 179.0 1136.2 179.6 1135.2 180.2 1133.2 180.9 1131.8 181.5 1131.8 182.1 1133.0 182.8 1134.6 183.4 1135.6 184.0 1135.5 184.7 1134.7 185.3 1133.8 186.0 1133.2 186.6 1133.2 187.2 1133.4 M198.9 1132.9 199.5 1132.8 200.1 1132.9 200.8 1133.2 201.4 1133.6 202.1 1134.1 202.7 1134.3 203.3 1134.4 204.0 1134.3 204.6 1134.2 205.2 1134.2 205.9 1134.4 206.5 1134.5 207.1 1134.2 207.8 1133.4 208.4 1132.4 209.0 1131.8 209.7 1132.2 210.3 1133.5 210.9 1135.1 211.6 1135.9 212.2 1135.3 212.8 1133.4 213.5 1131.6 214.1 1131.3 214.7 1133.0 215.4 1135.8 216.0 1137.7 216.6 1137.0 217.3 1133.9 217.9 1130.2 218.5 1128.6 219.2 1130.4 219.8 1134.6 220.4 1138.5 221.1 1139.3 221.7 1136.3 222.4 1131.4 223.0 1128.1 223.6 1128.6 224.3 1132.6 224.9 1137.2 225.5 1139.5 226.2 1137.8 226.8 1133.5 227.4 1129.7 228.1 1128.7 228.7 1131.0 229.3 1134.8 230.0 1137.5 230.6 1137.5 231.2 1135.2 231.9 1132.5 232.5 1131.2 233.1 1131.9 233.8 1133.8 234.4 1135.5 235.0 1135.7 235.7 1134.6 236.3 1133.0 236.9 1131.9 237.6 1131.9 238.2 1132.7 238.8 1133.7 239.5 1134.4 M251.1 1133.3 251.8 1132.9 252.4 1132.8 253.0 1132.9 253.7 1133.2 254.3 1133.6 254.9 1133.9 255.6 1134.1 256.2 1134.1 256.8 1134.1 257.5 1134.2 258.1 1134.6 258.8 1134.9 259.4 1134.8 260.0 1134.1 260.7 1132.9 261.3 1131.8 261.9 1131.6 262.6 1132.7 263.2 1134.5 263.8 1135.9 264.5 1135.7 265.1 1134.0 265.7 1131.7 266.4 1130.6 267.0 1131.9 267.6 1135.0 268.3 1137.9 268.9 1138.4 269.5 1135.6 270.2 1131.2 270.8 1128.1 271.4 1128.7 272.1 1132.8 272.7 1137.9 273.3 1140.3 274.0 1138.3 274.6 1133.1 275.2 1128.3 275.9 1127.1 276.5 1130.4 277.1 1136.0 277.8 1139.8 278.4 1139.5 279.1 1135.4 279.7 1130.5 280.3 1128.0 281.0 1129.4 281.6 1133.3 282.2 1137.0 282.9 1138.1 283.5 1136.3 284.1 1133.2 284.8 1131.1 285.4 1131.2 286.0 1133.1 286.7 1135.3 287.3 1136.3 287.9 1135.6 288.6 1133.9 289.2 1132.3 289.8 1131.7 290.5 1132.2 291.1 1133.1 291.7 1133.9 M303.4 1133.3 304.0 1133.7 304.7 1134.0 305.3 1134.2 305.9 1134.4 306.6 1134.5 307.2 1134.6 307.8 1134.6 308.5 1134.5 309.1 1134.0 309.7 1133.2 310.4 1132.5 311.0 1132.2 311.6 1132.7 312.3 1133.7 312.9 1134.6 313.5 1134.9 314.2 1134.1 314.8 1132.8 315.5 1132.1 316.1 1132.7 316.7 1134.7 317.4 1136.7 318.0 1137.2 318.6 1135.4 319.3 1132.0 319.9 1129.3 320.5 1129.3 321.2 1132.4 321.8 1136.7 322.4 1139.4 323.1 1138.2 323.7 1133.7 324.3 1128.9 325.0 1127.1 325.6 1129.9 326.2 1135.5 326.9 1140.1 327.5 1140.4 328.1 1136.3 328.8 1130.5 329.4 1127.0 330.0 1128.1 330.7 1132.8 331.3 1137.9 331.9 1139.9 332.6 1137.8 333.2 1133.2 333.8 1129.6 334.5 1129.1 335.1 1131.8 335.8 1135.5 336.4 1137.7 337.0 1137.2 337.7 1134.5 338.3 1131.8 338.9 1130.6 339.6 1131.3 340.2 1133.1 340.8 1134.7 341.5 1135.1 342.1 1134.6 342.7 1133.8 343.4 1133.4 344.0 1133.6 M355.7 1133.5 356.3 1133.9 356.9 1134.2 357.6 1134.4 358.2 1134.5 358.8 1134.5 359.5 1134.5 360.1 1134.5 360.7 1134.2 361.4 1133.7 362.0 1133.0 362.6 1132.5 363.3 1132.4 363.9 1132.9 364.5 1133.8 365.2 1134.6 365.8 1134.7 366.4 1134.1 367.1 1133.0 367.7 1132.5 368.3 1133.2 369.0 1134.8 369.6 1136.3 370.3 1136.4 370.9 1134.7 371.5 1131.9 372.2 1129.8 372.8 1130.2 373.4 1133.1 374.1 1136.7 374.7 1138.5 375.3 1137.1 376.0 1133.2 376.6 1129.3 377.2 1128.4 377.9 1131.1 378.5 1135.8 379.1 1139.3 379.8 1139.0 380.4 1135.2 381.0 1130.4 381.7 1128.0 382.3 1129.4 382.9 1133.6 383.6 1137.7 384.2 1138.9 384.8 1136.7 385.5 1132.8 386.1 1130.0 386.7 1130.1 387.4 1132.6 388.0 1135.6 388.6 1137.1 389.3 1136.3 389.9 1134.0 390.6 1131.8 391.2 1131.0 391.8 1131.8 392.5 1133.4 393.1 1134.7 393.7 1135.0 394.4 1134.5 395.0 1133.9 395.6 1133.6 396.3 1133.8 M407.9 1133.7 408.6 1133.3 409.2 1133.0 409.8 1132.8 410.5 1132.9 411.1 1133.2 411.7 1133.5 412.4 1133.7 413.0 1133.8 413.6 1133.9 414.3 1134.1 414.9 1134.5 415.5 1134.9 416.2 1135.0 416.8 1134.6 417.4 1133.6 418.1 1132.5 418.7 1131.9 419.3 1132.4 420.0 1133.7 420.6 1135.1 421.2 1135.4 421.9 1134.3 422.5 1132.4 423.1 1131.2 423.8 1131.7 424.4 1134.0 425.0 1136.7 425.7 1137.9 426.3 1136.3 427.0 1132.8 427.6 1129.6 428.2 1129.1 428.9 1131.7 429.5 1136.0 430.1 1138.9 430.8 1138.3 431.4 1134.6 432.0 1130.3 432.7 1128.2 433.3 1130.0 433.9 1134.2 434.6 1138.0 435.2 1138.9 435.8 1136.3 436.5 1132.3 437.1 1129.5 437.7 1129.6 438.4 1132.3 439.0 1135.5 439.6 1137.1 440.3 1136.3 440.9 1134.0 441.5 1131.9 442.2 1131.5 442.8 1132.8 443.4 1134.7 444.1 1135.9 444.7 1135.7 445.3 1134.5 446.0 1133.1 446.6 1132.3 447.3 1132.3 447.9 1132.8 448.5 1133.5 M460.2 1134.6 460.8 1134.6 461.4 1134.5 462.1 1134.2 462.7 1133.8 463.4 1133.4 464.0 1133.0 464.6 1132.8 465.3 1132.8 465.9 1133.2 466.5 1133.6 467.2 1133.9 467.8 1134.0 468.4 1133.8 469.1 1133.7 469.7 1133.9 470.3 1134.5 471.0 1135.1 471.6 1135.2 472.2 1134.4 472.9 1133.0 473.5 1131.8 474.1 1131.6 474.8 1132.7 475.4 1134.6 476.0 1136.0 476.7 1135.8 477.3 1134.0 477.9 1131.7 478.6 1130.7 479.2 1131.8 479.8 1134.6 480.5 1137.1 481.1 1137.6 481.7 1135.4 482.4 1132.0 483.0 1129.7 483.7 1130.0 484.3 1132.9 484.9 1136.4 485.6 1138.0 486.2 1136.8 486.8 1133.6 487.5 1130.6 488.1 1130.0 488.7 1131.8 489.4 1134.9 490.0 1137.0 490.6 1136.8 491.3 1134.7 491.9 1132.2 492.5 1130.9 493.2 1131.4 493.8 1133.1 494.4 1134.8 495.1 1135.4 495.7 1134.8 496.3 1133.8 497.0 1133.1 497.6 1133.3 498.2 1134.0 498.9 1134.7 499.5 1134.9 500.1 1134.5 500.8 1133.8 M146.6 1186.2 147.3 1186.0 147.9 1185.9 148.5 1186.0 149.2 1186.2 149.8 1186.4 150.4 1186.8 151.1 1187.3 151.7 1187.7 152.3 1187.9 153.0 1187.7 153.6 1187.3 154.2 1186.7 154.9 1186.3 155.5 1186.3 156.1 1186.6 156.8 1186.9 157.4 1186.9 158.0 1186.3 158.7 1185.6 159.3 1185.3 159.9 1185.9 160.6 1187.3 161.2 1188.7 161.8 1189.2 162.5 1188.2 163.1 1186.2 163.7 1184.5 164.4 1184.3 165.0 1185.9 165.7 1188.4 166.3 1189.9 166.9 1189.3 167.6 1186.8 168.2 1184.0 168.8 1183.0 169.5 1184.5 170.1 1187.6 170.7 1190.2 171.4 1190.5 172.0 1188.3 172.6 1185.1 173.3 1183.2 173.9 1183.7 174.5 1186.2 175.2 1188.8 175.8 1189.9 176.4 1188.7 177.1 1186.4 177.7 1184.4 178.3 1184.2 179.0 1185.7 179.6 1187.7 180.2 1189.0 180.9 1188.9 181.5 1187.7 182.1 1186.4 182.8 1185.6 183.4 1185.8 184.0 1186.4 184.7 1186.8 185.3 1186.9 186.0 1186.5 186.6 1186.1 187.2 1186.0 M198.9 1187.1 199.5 1187.4 200.1 1187.6 200.8 1187.7 201.4 1187.6 202.1 1187.3 202.7 1186.8 203.3 1186.3 204.0 1186.0 204.6 1186.0 205.2 1186.2 205.9 1186.5 206.5 1186.6 207.1 1186.4 207.8 1186.1 208.4 1186.2 209.0 1186.9 209.7 1187.9 210.3 1188.8 210.9 1188.7 211.6 1187.4 212.2 1185.6 212.8 1184.4 213.5 1184.7 214.1 1186.5 214.7 1188.7 215.4 1189.6 216.0 1188.4 216.6 1185.6 217.3 1183.2 217.9 1183.0 218.5 1185.5 219.2 1189.2 219.8 1191.5 220.4 1190.7 221.1 1187.2 221.7 1183.3 222.4 1181.6 223.0 1183.4 223.6 1187.5 224.3 1191.1 224.9 1191.7 225.5 1189.0 226.2 1184.9 226.8 1182.3 227.4 1182.8 228.1 1185.9 228.7 1189.4 229.3 1190.9 230.0 1189.7 230.6 1186.9 231.2 1184.4 231.9 1183.7 232.5 1185.0 233.1 1186.9 233.8 1188.2 234.4 1188.1 235.0 1187.0 235.7 1185.9 236.3 1185.5 236.9 1186.2 237.6 1187.3 238.2 1188.1 238.8 1188.3 239.5 1187.8 M251.1 1187.5 251.8 1187.3 252.4 1187.0 253.0 1186.6 253.7 1186.2 254.3 1185.9 254.9 1185.7 255.6 1185.8 256.2 1186.2 256.8 1186.7 257.5 1187.2 258.1 1187.5 258.8 1187.3 259.4 1187.0 260.0 1186.8 260.7 1187.0 261.3 1187.6 261.9 1187.9 262.6 1187.6 263.2 1186.6 263.8 1185.2 264.5 1184.4 265.1 1184.9 265.7 1186.7 266.4 1188.7 267.0 1189.5 267.6 1188.4 268.3 1186.0 268.9 1183.9 269.5 1183.7 270.2 1185.8 270.8 1189.0 271.4 1190.9 272.1 1190.1 272.7 1187.0 273.3 1183.5 274.0 1182.1 274.6 1183.9 275.2 1187.6 275.9 1190.8 276.5 1191.3 277.1 1188.7 277.8 1184.9 278.4 1182.6 279.1 1183.1 279.7 1186.1 280.3 1189.2 281.0 1190.5 281.6 1189.2 282.2 1186.4 282.9 1184.0 283.5 1183.6 284.1 1185.0 284.8 1187.2 285.4 1188.7 286.0 1188.8 286.7 1187.7 287.3 1186.5 287.9 1186.0 288.6 1186.4 289.2 1187.1 289.8 1187.7 290.5 1187.6 291.1 1186.9 291.7 1186.1 M303.4 1186.0 304.0 1186.2 304.7 1186.5 305.3 1186.8 305.9 1187.1 306.6 1187.3 307.2 1187.6 307.8 1187.7 308.5 1187.7 309.1 1187.4 309.7 1186.8 310.4 1186.1 311.0 1185.6 311.6 1185.7 312.3 1186.2 312.9 1187.0 313.5 1187.3 314.2 1187.0 314.8 1186.2 315.5 1185.5 316.1 1185.8 316.7 1187.1 317.4 1188.7 318.0 1189.6 318.6 1188.8 319.3 1186.5 319.9 1184.0 320.5 1183.2 321.2 1184.8 321.8 1187.9 322.4 1190.5 323.1 1190.6 323.7 1187.9 324.3 1184.2 325.0 1182.0 325.6 1183.0 326.2 1186.6 326.9 1190.5 327.5 1191.9 328.1 1189.9 328.8 1185.7 329.4 1182.3 330.0 1182.0 330.7 1184.8 331.3 1188.7 331.9 1191.0 332.6 1190.4 333.2 1187.4 333.8 1184.4 334.5 1183.3 335.1 1184.7 335.8 1187.3 336.4 1189.5 337.0 1189.7 337.7 1188.2 338.3 1186.1 338.9 1184.7 339.6 1184.7 340.2 1185.7 340.8 1186.8 341.5 1187.4 342.1 1187.2 342.7 1186.7 343.4 1186.4 344.0 1186.6 M355.7 1186.1 356.3 1185.9 356.9 1185.8 357.6 1186.0 358.2 1186.3 358.8 1186.8 359.5 1187.1 360.1 1187.3 360.7 1187.3 361.4 1187.2 362.0 1187.3 362.6 1187.5 363.3 1187.7 363.9 1187.5 364.5 1186.7 365.2 1185.7 365.8 1184.9 366.4 1185.0 367.1 1186.1 367.7 1187.6 368.3 1188.7 369.0 1188.4 369.6 1186.8 370.3 1184.9 370.9 1184.3 371.5 1185.6 372.2 1188.3 372.8 1190.5 373.4 1190.4 374.1 1187.7 374.7 1184.0 375.3 1181.8 376.0 1182.9 376.6 1186.7 377.2 1190.8 377.9 1192.3 378.5 1190.0 379.1 1185.4 379.8 1181.7 380.4 1181.4 381.0 1184.7 381.7 1189.3 382.3 1192.1 382.9 1191.2 383.6 1187.4 384.2 1183.4 384.8 1181.8 385.5 1183.5 386.1 1187.0 386.7 1189.9 387.4 1190.4 388.0 1188.6 388.6 1186.0 389.3 1184.4 389.9 1184.8 390.6 1186.6 391.2 1188.3 391.8 1188.8 392.5 1188.0 393.1 1186.5 393.7 1185.2 394.4 1184.9 395.0 1185.4 395.6 1186.4 396.3 1187.1 M198.9 1239.7 199.5 1240.1 200.1 1240.4 200.8 1240.5 201.4 1240.5 202.1 1240.5 202.7 1240.4 203.3 1240.2 204.0 1239.9 204.6 1239.4 205.2 1238.9 205.9 1238.5 206.5 1238.6 207.1 1239.1 207.8 1239.9 208.4 1240.6 209.0 1240.6 209.7 1240.1 210.3 1239.3 210.9 1239.0 211.6 1239.6 212.2 1240.8 212.8 1241.8 213.5 1241.6 214.1 1240.0 214.7 1237.9 215.4 1236.6 216.0 1237.3 216.6 1239.7 217.3 1242.3 217.9 1243.4 218.5 1242.0 219.2 1238.8 219.8 1236.1 220.4 1235.8 221.1 1238.3 221.7 1241.9 222.4 1244.2 223.0 1243.5 223.6 1240.3 224.3 1236.8 224.9 1235.3 225.5 1236.9 226.2 1240.3 226.8 1243.1 227.4 1243.6 228.1 1241.6 228.7 1238.7 229.3 1236.8 230.0 1237.2 230.6 1239.3 231.2 1241.5 231.9 1242.4 232.5 1241.4 233.1 1239.5 233.8 1237.9 234.4 1237.5 235.0 1238.3 235.7 1239.6 236.3 1240.6 236.9 1240.8 237.6 1240.5 238.2 1240.0 238.8 1239.9 239.5 1240.0 M251.1 1239.8 251.8 1240.2 252.4 1240.5 253.0 1240.7 253.7 1240.7 254.3 1240.5 254.9 1240.1 255.6 1239.7 256.2 1239.3 256.8 1239.2 257.5 1239.2 258.1 1239.3 258.8 1239.4 259.4 1239.3 260.0 1239.1 260.7 1239.2 261.3 1239.8 261.9 1240.6 262.6 1241.3 263.2 1241.4 263.8 1240.6 264.5 1239.3 265.1 1238.3 265.7 1238.2 266.4 1239.3 267.0 1240.8 267.6 1241.7 268.3 1241.1 268.9 1239.3 269.5 1237.5 270.2 1237.0 270.8 1238.5 271.4 1241.0 272.1 1242.9 272.7 1242.8 273.3 1240.6 274.0 1237.8 274.6 1236.2 275.2 1237.1 275.9 1239.8 276.5 1242.4 277.1 1243.2 277.8 1241.7 278.4 1239.0 279.1 1236.9 279.7 1236.9 280.3 1238.8 281.0 1241.2 281.6 1242.6 282.2 1242.1 282.9 1240.3 283.5 1238.5 284.1 1237.7 284.8 1238.3 285.4 1239.6 286.0 1240.5 286.7 1240.6 287.3 1239.9 287.9 1239.1 288.6 1238.8 289.2 1239.2 289.8 1240.1 290.5 1240.8 291.1 1241.1 291.7 1240.9 M303.4 1240.0 304.0 1240.3 304.7 1240.5 305.3 1240.6 305.9 1240.5 306.6 1240.4 307.2 1240.2 307.8 1240.0 308.5 1239.7 309.1 1239.2 309.7 1238.7 310.4 1238.5 311.0 1238.7 311.6 1239.4 312.3 1240.3 312.9 1240.9 313.5 1240.8 314.2 1240.0 314.8 1239.1 315.5 1238.9 316.1 1239.7 316.7 1241.0 317.4 1242.0 318.0 1241.6 318.6 1239.7 319.3 1237.3 319.9 1236.2 320.5 1237.3 321.2 1240.2 321.8 1243.1 322.4 1243.8 323.1 1241.8 323.7 1238.1 324.3 1235.4 325.0 1235.6 325.6 1238.7 326.2 1242.8 326.9 1244.9 327.5 1243.6 328.1 1239.7 328.8 1235.8 329.4 1234.7 330.0 1237.0 330.7 1241.0 331.3 1244.0 331.9 1244.0 332.6 1241.4 333.2 1238.0 333.8 1236.2 334.5 1237.0 335.1 1239.6 335.8 1242.0 336.4 1242.7 337.0 1241.3 337.7 1239.1 338.3 1237.5 338.9 1237.3 339.6 1238.5 340.2 1240.0 340.8 1241.0 341.5 1241.1 342.1 1240.5 342.7 1240.0 343.4 1239.8 344.0 1240.0 M251.1 1293.5 251.8 1293.7 252.4 1293.6 253.0 1293.5 253.7 1293.2 254.3 1293.0 254.9 1292.7 255.6 1292.5 256.2 1292.2 256.8 1291.9 257.5 1291.7 258.1 1291.8 258.8 1292.3 259.4 1293.0 260.0 1293.8 260.7 1294.1 261.3 1293.7 261.9 1292.8 262.6 1292.1 263.2 1292.1 263.8 1292.9 264.5 1294.0 265.1 1294.4 265.7 1293.6 266.4 1291.8 267.0 1290.1 267.6 1289.9 268.3 1291.6 268.9 1294.3 269.5 1296.3 270.2 1295.9 270.8 1293.4 271.4 1290.2 272.1 1288.7 272.7 1290.0 273.3 1293.3 274.0 1296.5 274.6 1297.2 275.2 1294.9 275.9 1291.2 276.5 1288.6 277.1 1288.8 277.8 1291.7 278.4 1295.2 279.1 1296.9 279.7 1295.9 280.3 1293.0 281.0 1290.3 281.6 1289.6 282.2 1291.0 282.9 1293.5 283.5 1295.1 284.1 1294.9 284.8 1293.3 285.4 1291.4 286.0 1290.5 286.7 1291.0 287.3 1292.4 287.9 1293.8 288.6 1294.4 289.2 1294.1 289.8 1293.4 290.5 1292.9 291.1 1292.7 291.7 1292.8" stroke="#ff1010" stroke-width="0.90" fill="none" stroke-linejoin="round"/>
<path d="M198.9 816.3 199.5 816.8 200.1 816.6 200.8 815.8 201.4 814.9 202.1 814.6 202.7 815.0 203.3 815.9 204.0 816.7 204.6 816.8 205.2 816.2 205.9 815.2 206.5 814.5 207.1 814.6 207.8 815.4 208.4 816.5 209.0 817.0 209.7 816.7 210.3 815.7 210.9 814.6 211.6 814.3 212.2 814.9 212.8 816.1 213.5 817.1 214.1 817.2 214.7 816.2 215.4 814.9 216.0 814.0 216.6 814.3 217.3 815.5 217.9 816.9 218.5 817.6 219.2 816.9 219.8 815.4 220.4 814.1 221.1 813.8 221.7 814.8 222.4 816.4 223.0 817.6 223.6 817.5 224.3 816.2 224.9 814.6 225.5 813.7 226.2 814.2 226.8 815.7 227.4 817.1 228.1 817.6 228.7 816.8 229.3 815.3 230.0 814.1 230.6 814.1 231.2 815.1 231.9 816.4 232.5 817.3 233.1 817.0 233.8 815.9 234.4 814.7 235.0 814.2 235.7 814.7 236.3 815.8 236.9 816.8 237.6 817.0 238.2 816.3 238.8 815.3 239.5 814.5 M251.1 814.7 251.8 815.4 252.4 816.3 253.0 816.8 253.7 816.6 254.3 815.8 254.9 814.9 255.6 814.5 256.2 815.0 256.8 815.9 257.5 816.7 258.1 816.9 258.8 816.2 259.4 815.2 260.0 814.5 260.7 814.6 261.3 815.5 261.9 816.5 262.6 817.1 263.2 816.7 263.8 815.6 264.5 814.5 265.1 814.2 265.7 814.9 266.4 816.2 267.0 817.2 267.6 817.3 268.3 816.3 268.9 814.8 269.5 813.9 270.2 814.2 270.8 815.5 271.4 817.0 272.1 817.6 272.7 817.0 273.3 815.4 274.0 814.0 274.6 813.8 275.2 814.8 275.9 816.4 276.5 817.6 277.1 817.4 277.8 816.1 278.4 814.6 279.1 813.8 279.7 814.3 280.3 815.7 281.0 817.1 281.6 817.5 282.2 816.7 282.9 815.3 283.5 814.2 284.1 814.2 284.8 815.1 285.4 816.4 286.0 817.2 286.7 816.9 287.3 815.9 287.9 814.8 288.6 814.3 289.2 814.8 289.8 815.8 290.5 816.8 291.1 816.9 291.7 816.3 M303.4 815.1 304.0 816.0 304.7 816.7 305.3 816.7 305.9 816.1 306.6 815.1 307.2 814.6 307.8 814.8 308.5 815.6 309.1 816.5 309.7 816.9 310.4 816.5 311.0 815.5 311.6 814.6 312.3 814.5 312.9 815.1 313.5 816.2 314.2 817.0 314.8 816.9 315.5 816.0 316.1 814.9 316.7 814.2 317.4 814.6 318.0 815.7 318.6 816.9 319.3 817.3 319.9 816.7 320.5 815.3 321.2 814.1 321.8 814.0 322.4 815.0 323.1 816.6 323.7 817.5 324.3 817.3 325.0 815.9 325.6 814.4 326.2 813.7 326.9 814.4 327.5 815.9 328.1 817.3 328.8 817.6 329.4 816.6 330.0 815.0 330.7 813.9 331.3 814.0 331.9 815.2 332.6 816.7 333.2 817.5 333.8 817.1 334.5 815.7 335.1 814.4 335.8 814.0 336.4 814.7 337.0 816.0 337.7 817.1 338.3 817.1 338.9 816.3 339.6 815.1 340.2 814.3 340.8 814.5 341.5 815.5 342.1 816.5 342.7 817.0 343.4 816.6 344.0 815.6 M146.6 869.8 147.3 869.7 147.9 869.0 148.5 868.1 149.2 867.6 149.8 867.8 150.4 868.7 151.1 869.6 151.7 869.9 152.3 869.4 153.0 868.4 153.6 867.6 154.2 867.5 154.9 868.2 155.5 869.3 156.1 870.0 156.8 869.8 157.4 868.9 158.0 867.8 158.7 867.3 159.3 867.7 159.9 868.8 160.6 869.9 161.2 870.3 161.8 869.5 162.5 868.2 163.1 867.2 163.7 867.1 164.4 868.2 165.0 869.7 165.7 870.5 166.3 870.2 166.9 868.8 167.6 867.3 168.2 866.8 168.8 867.5 169.5 869.1 170.1 870.4 170.7 870.6 171.4 869.5 172.0 867.9 172.6 866.8 173.3 867.0 173.9 868.3 174.5 869.9 175.2 870.6 175.8 870.0 176.4 868.6 177.1 867.3 177.7 867.0 178.3 867.8 179.0 869.2 179.6 870.2 180.2 870.2 180.9 869.2 181.5 868.0 182.1 867.3 182.8 867.5 183.4 868.6 184.0 869.7 184.7 870.1 185.3 869.6 186.0 868.5 186.6 867.6 187.2 867.5 M198.9 869.8 199.5 869.4 200.1 868.5 200.8 867.8 201.4 867.6 202.1 868.2 202.7 869.1 203.3 869.8 204.0 869.7 204.6 869.0 205.2 868.0 205.9 867.5 206.5 867.8 207.1 868.7 207.8 869.7 208.4 870.0 209.0 869.5 209.7 868.4 210.3 867.5 210.9 867.4 211.6 868.2 212.2 869.4 212.8 870.2 213.5 870.0 214.1 868.9 214.7 867.6 215.4 867.0 216.0 867.5 216.6 868.9 217.3 870.2 217.9 870.5 218.5 869.6 219.2 868.1 219.8 866.9 220.4 867.0 221.1 868.2 221.7 869.8 222.4 870.7 223.0 870.2 223.6 868.8 224.3 867.3 224.9 866.7 225.5 867.5 226.2 869.1 226.8 870.4 227.4 870.5 228.1 869.4 228.7 867.9 229.3 867.0 230.0 867.2 230.6 868.4 231.2 869.8 231.9 870.4 232.5 869.8 233.1 868.6 233.8 867.5 234.4 867.2 235.0 868.0 235.7 869.1 236.3 870.0 236.9 869.9 237.6 869.1 238.2 868.0 238.8 867.5 239.5 867.7 M251.1 867.6 251.8 867.8 252.4 868.6 253.0 869.5 253.7 869.8 254.3 869.4 254.9 868.5 255.6 867.7 256.2 867.6 256.8 868.2 257.5 869.2 258.1 869.9 258.8 869.8 259.4 869.0 260.0 867.9 260.7 867.4 261.3 867.8 261.9 868.8 262.6 869.8 263.2 870.1 263.8 869.5 264.5 868.3 265.1 867.3 265.7 867.3 266.4 868.2 267.0 869.5 267.6 870.4 268.3 870.1 268.9 868.9 269.5 867.5 270.2 866.9 270.8 867.5 271.4 869.0 272.1 870.3 272.7 870.6 273.3 869.6 274.0 868.0 274.6 866.8 275.2 866.9 275.9 868.2 276.5 869.9 277.1 870.7 277.8 870.2 278.4 868.7 279.1 867.3 279.7 866.8 280.3 867.6 281.0 869.1 281.6 870.3 282.2 870.4 282.9 869.3 283.5 867.9 284.1 867.1 284.8 867.4 285.4 868.5 286.0 869.7 286.7 870.2 287.3 869.7 287.9 868.6 288.6 867.6 289.2 867.4 289.8 868.1 290.5 869.1 291.1 869.9 291.7 869.8 M303.4 869.7 304.0 868.9 304.7 868.0 305.3 867.6 305.9 867.9 306.6 868.8 307.2 869.6 307.8 869.9 308.5 869.3 309.1 868.4 309.7 867.6 310.4 867.6 311.0 868.3 311.6 869.3 312.3 870.0 312.9 869.8 313.5 868.8 314.2 867.8 314.8 867.3 315.5 867.8 316.1 868.9 316.7 870.0 317.4 870.2 318.0 869.4 318.6 868.1 319.3 867.2 319.9 867.2 320.5 868.3 321.2 869.7 321.8 870.5 322.4 870.1 323.1 868.7 323.7 867.3 324.3 866.8 325.0 867.6 325.6 869.2 326.2 870.5 326.9 870.6 327.5 869.4 328.1 867.8 328.8 866.8 329.4 867.1 330.0 868.5 330.7 870.0 331.3 870.6 331.9 870.0 332.6 868.5 333.2 867.2 333.8 867.0 334.5 867.9 335.1 869.3 335.8 870.3 336.4 870.2 337.0 869.1 337.7 867.9 338.3 867.2 338.9 867.6 339.6 868.7 340.2 869.7 340.8 870.1 341.5 869.5 342.1 868.4 342.7 867.6 343.4 867.5 344.0 868.2 M355.7 869.7 356.3 869.7 356.9 869.1 357.6 868.1 358.2 867.6 358.8 867.8 359.5 868.6 360.1 869.5 360.7 869.9 361.4 869.5 362.0 868.5 362.6 867.7 363.3 867.5 363.9 868.2 364.5 869.2 365.2 869.9 365.8 869.9 366.4 869.0 367.1 867.9 367.7 867.3 368.3 867.6 369.0 868.7 369.6 869.9 370.3 870.3 370.9 869.6 371.5 868.3 372.2 867.2 372.8 867.1 373.4 868.1 374.1 869.6 374.7 870.5 375.3 870.3 376.0 868.9 376.6 867.4 377.2 866.8 377.9 867.4 378.5 868.9 379.1 870.3 379.8 870.7 380.4 869.7 381.0 868.0 381.7 866.9 382.3 867.0 382.9 868.2 383.6 869.8 384.2 870.6 384.8 870.1 385.5 868.8 386.1 867.4 386.7 867.0 387.4 867.7 388.0 869.1 388.6 870.1 389.3 870.2 389.9 869.3 390.6 868.0 391.2 867.3 391.8 867.5 392.5 868.5 393.1 869.6 393.7 870.1 394.4 869.6 395.0 868.6 395.6 867.7 396.3 867.5 M42.1 922.0 42.7 921.1 43.4 920.6 44.0 920.8 44.6 921.7 45.3 922.5 45.9 922.9 46.5 922.4 47.2 921.5 47.8 920.7 48.4 920.6 49.1 921.2 49.7 922.2 50.3 922.9 51.0 922.8 51.6 922.0 52.2 920.9 52.9 920.4 53.5 920.7 54.2 921.8 54.8 922.9 55.4 923.2 56.1 922.5 56.7 921.3 57.3 920.3 58.0 920.2 58.6 921.2 59.2 922.6 59.9 923.5 60.5 923.2 61.1 921.9 61.8 920.4 62.4 919.8 63.0 920.5 63.7 922.0 64.3 923.4 64.9 923.6 65.6 922.6 66.2 921.0 66.8 919.8 67.5 920.0 68.1 921.3 68.7 922.9 69.4 923.7 70.0 923.1 70.6 921.7 71.3 920.3 71.9 919.9 72.5 920.7 73.2 922.2 73.8 923.3 74.5 923.3 75.1 922.3 75.7 921.0 76.4 920.2 77.0 920.5 77.6 921.5 78.3 922.7 78.9 923.1 79.5 922.6 80.2 921.6 80.8 920.6 81.4 920.5 82.1 921.1 82.7 922.2 M94.4 920.6 95.0 921.0 95.6 921.9 96.3 922.7 96.9 922.8 97.5 922.2 98.2 921.3 98.8 920.6 99.4 920.7 100.1 921.5 100.7 922.4 101.3 922.9 102.0 922.6 102.6 921.7 103.2 920.7 103.9 920.4 104.5 921.0 105.1 922.1 105.8 923.0 106.4 923.0 107.0 922.2 107.7 921.0 108.3 920.2 109.0 920.5 109.6 921.6 110.2 922.8 110.9 923.4 111.5 922.8 112.1 921.5 112.8 920.2 113.4 919.9 114.0 920.9 114.7 922.4 115.3 923.5 115.9 923.4 116.6 922.2 117.2 920.6 117.8 919.7 118.5 920.2 119.1 921.7 119.7 923.2 120.4 923.7 121.0 922.8 121.6 921.3 122.3 920.0 122.9 919.9 123.5 921.0 124.2 922.6 124.8 923.5 125.4 923.2 126.1 921.9 126.7 920.6 127.3 920.1 128.0 920.6 128.6 921.9 129.3 923.0 129.9 923.2 130.5 922.4 131.2 921.2 131.8 920.4 132.4 920.5 133.1 921.4 133.7 922.4 134.3 923.0 135.0 922.7 M146.6 922.0 147.3 921.1 147.9 920.6 148.5 920.8 149.2 921.7 149.8 922.5 150.4 922.9 151.1 922.4 151.7 921.5 152.3 920.7 153.0 920.6 153.6 921.2 154.2 922.2 154.9 922.9 155.5 922.8 156.1 922.0 156.8 920.9 157.4 920.4 158.0 920.7 158.7 921.8 159.3 922.9 159.9 923.2 160.6 922.5 161.2 921.3 161.8 920.3 162.5 920.2 163.1 921.2 163.7 922.6 164.4 923.5 165.0 923.2 165.7 921.9 166.3 920.4 166.9 919.8 167.6 920.5 168.2 922.0 168.8 923.4 169.5 923.6 170.1 922.6 170.7 921.0 171.4 919.8 172.0 920.0 172.6 921.3 173.3 922.9 173.9 923.7 174.5 923.1 175.2 921.7 175.8 920.3 176.4 919.9 177.1 920.7 177.7 922.2 178.3 923.3 179.0 923.3 179.6 922.3 180.2 921.0 180.9 920.2 181.5 920.5 182.1 921.5 182.8 922.7 183.4 923.1 184.0 922.6 184.7 921.6 185.3 920.6 186.0 920.5 186.6 921.1 187.2 922.2 M198.9 920.7 199.5 921.3 200.1 922.2 200.8 922.8 201.4 922.7 202.1 921.9 202.7 921.0 203.3 920.6 204.0 920.9 204.6 921.8 205.2 922.7 205.9 922.9 206.5 922.3 207.1 921.3 207.8 920.5 208.4 920.6 209.0 921.4 209.7 922.5 210.3 923.1 210.9 922.8 211.6 921.8 212.2 920.6 212.8 920.2 213.5 920.8 214.1 922.0 214.7 923.2 215.4 923.3 216.0 922.4 216.6 921.0 217.3 920.0 217.9 920.2 218.5 921.4 219.2 922.9 219.8 923.6 220.4 923.1 221.1 921.6 221.7 920.2 222.4 919.8 223.0 920.7 223.6 922.3 224.3 923.5 224.9 923.5 225.5 922.3 226.2 920.7 226.8 919.8 227.4 920.2 228.1 921.6 228.7 923.0 229.3 923.5 230.0 922.8 230.6 921.4 231.2 920.3 231.9 920.1 232.5 921.0 233.1 922.3 233.8 923.2 234.4 923.0 235.0 922.0 235.7 920.9 236.3 920.3 236.9 920.7 237.6 921.8 238.2 922.7 238.8 923.0 239.5 922.4 M251.1 920.8 251.8 921.6 252.4 922.5 253.0 922.8 253.7 922.4 254.3 921.5 254.9 920.7 255.6 920.6 256.2 921.2 256.8 922.2 257.5 922.9 258.1 922.8 258.8 922.0 259.4 921.0 260.0 920.4 260.7 920.8 261.3 921.8 261.9 922.8 262.6 923.1 263.2 922.5 263.8 921.3 264.5 920.4 265.1 920.3 265.7 921.2 266.4 922.5 267.0 923.3 267.6 923.1 268.3 921.9 268.9 920.5 269.5 919.9 270.2 920.5 270.8 922.0 271.4 923.3 272.1 923.6 272.7 922.6 273.3 921.0 274.0 919.9 274.6 920.0 275.2 921.2 275.9 922.9 276.5 923.7 277.1 923.2 277.8 921.7 278.4 920.3 279.1 919.8 279.7 920.6 280.3 922.1 281.0 923.3 281.6 923.4 282.2 922.4 282.9 920.9 283.5 920.1 284.1 920.3 284.8 921.5 285.4 922.7 286.0 923.2 286.7 922.7 287.3 921.6 287.9 920.6 288.6 920.4 289.2 921.1 289.8 922.1 290.5 922.9 291.1 922.9 291.7 922.1 M303.4 920.9 304.0 920.6 304.7 921.1 305.3 922.0 305.9 922.7 306.6 922.8 307.2 922.1 307.8 921.2 308.5 920.6 309.1 920.8 309.7 921.6 310.4 922.5 311.0 923.0 311.6 922.5 312.3 921.6 312.9 920.6 313.5 920.4 314.2 921.1 314.8 922.2 315.5 923.1 316.1 923.0 316.7 922.1 317.4 920.9 318.0 920.2 318.6 920.5 319.3 921.7 319.9 923.0 320.5 923.4 321.2 922.7 321.8 921.3 322.4 920.1 323.1 920.0 323.7 921.0 324.3 922.6 325.0 923.6 325.6 923.4 326.2 922.0 326.9 920.4 327.5 919.7 328.1 920.4 328.8 921.9 329.4 923.3 330.0 923.6 330.7 922.7 331.3 921.1 331.9 920.0 332.6 920.0 333.2 921.2 333.8 922.7 334.5 923.5 335.1 923.1 335.8 921.8 336.4 920.5 337.0 920.1 337.7 920.8 338.3 922.0 338.9 923.0 339.6 923.1 340.2 922.3 340.8 921.1 341.5 920.4 342.1 920.6 342.7 921.5 343.4 922.5 344.0 923.0 M355.7 921.6 356.3 922.4 356.9 922.8 357.6 922.5 358.2 921.6 358.8 920.8 359.5 920.6 360.1 921.2 360.7 922.1 361.4 922.8 362.0 922.8 362.6 922.0 363.3 921.1 363.9 920.5 364.5 920.7 365.2 921.7 365.8 922.7 366.4 923.1 367.1 922.6 367.7 921.4 368.3 920.5 369.0 920.3 369.6 921.1 370.3 922.4 370.9 923.3 371.5 923.1 372.2 922.0 372.8 920.6 373.4 920.0 374.1 920.4 374.7 921.8 375.3 923.2 376.0 923.6 376.6 922.7 377.2 921.2 377.9 919.9 378.5 919.9 379.1 921.1 379.8 922.7 380.4 923.7 381.0 923.3 381.7 921.9 382.3 920.4 382.9 919.8 383.6 920.5 384.2 922.0 384.8 923.3 385.5 923.5 386.1 922.5 386.7 921.0 387.4 920.1 388.0 920.3 388.6 921.4 389.3 922.7 389.9 923.3 390.6 922.8 391.2 921.7 391.8 920.6 392.5 920.3 393.1 921.0 393.7 922.1 394.4 922.9 395.0 922.9 395.6 922.2 396.3 921.1 M407.9 921.0 408.6 920.6 409.2 920.9 409.8 921.8 410.5 922.6 411.1 922.8 411.7 922.3 412.4 921.4 413.0 920.7 413.6 920.6 414.3 921.3 414.9 922.3 415.5 922.9 416.2 922.7 416.8 921.8 417.4 920.8 418.1 920.4 418.7 920.9 419.3 921.9 420.0 922.9 420.6 923.1 421.2 922.4 421.9 921.1 422.5 920.2 423.1 920.3 423.8 921.4 424.4 922.7 425.0 923.4 425.7 923.0 426.3 921.7 427.0 920.3 427.6 919.9 428.2 920.7 428.9 922.2 429.5 923.5 430.1 923.6 430.8 922.4 431.4 920.8 432.0 919.8 432.7 920.1 433.3 921.5 433.9 923.0 434.6 923.7 435.2 923.0 435.8 921.5 436.5 920.2 437.1 919.9 437.7 920.8 438.4 922.3 439.0 923.4 439.6 923.3 440.3 922.2 440.9 920.8 441.5 920.1 442.2 920.5 442.8 921.7 443.4 922.8 444.1 923.2 444.7 922.6 445.3 921.4 446.0 920.5 446.6 920.5 447.3 921.2 447.9 922.3 448.5 922.9 M460.2 920.8 460.8 921.5 461.4 922.4 462.1 922.8 462.7 922.5 463.4 921.7 464.0 920.8 464.6 920.6 465.3 921.1 465.9 922.0 466.5 922.8 467.2 922.8 467.8 922.1 468.4 921.1 469.1 920.5 469.7 920.7 470.3 921.6 471.0 922.6 471.6 923.1 472.2 922.6 472.9 921.5 473.5 920.5 474.1 920.2 474.8 921.0 475.4 922.3 476.0 923.3 476.7 923.2 477.3 922.1 477.9 920.7 478.6 919.9 479.2 920.3 479.8 921.7 480.5 923.1 481.1 923.6 481.7 922.8 482.4 921.3 483.0 920.0 483.7 919.9 484.3 921.0 484.9 922.6 485.6 923.7 486.2 923.4 486.8 922.0 487.5 920.4 488.1 919.8 488.7 920.4 489.4 921.9 490.0 923.2 490.6 923.5 491.3 922.6 491.9 921.1 492.5 920.2 493.2 920.2 493.8 921.3 494.4 922.6 495.1 923.2 495.7 922.9 496.3 921.8 497.0 920.7 497.6 920.3 498.2 920.9 498.9 922.0 499.5 922.8 500.1 922.9 500.8 922.2 M42.1 973.6 42.7 973.9 43.4 974.7 44.0 975.6 44.6 975.9 45.3 975.4 45.9 974.5 46.5 973.7 47.2 973.6 47.8 974.3 48.4 975.3 49.1 975.9 49.7 975.8 50.3 974.9 51.0 973.9 51.6 973.4 52.2 973.8 52.9 974.9 53.5 975.9 54.2 976.1 54.8 975.4 55.4 974.2 56.1 973.3 56.7 973.3 57.3 974.3 58.0 975.6 58.6 976.4 59.2 976.1 59.9 974.8 60.5 973.4 61.1 972.9 61.8 973.6 62.4 975.1 63.0 976.4 63.7 976.6 64.3 975.5 64.9 973.9 65.6 972.8 66.2 973.0 66.8 974.4 67.5 976.0 68.1 976.7 68.7 976.1 69.4 974.6 70.0 973.2 70.6 972.9 71.3 973.8 71.9 975.3 72.5 976.4 73.2 976.3 73.8 975.3 74.5 973.9 75.1 973.1 75.7 973.5 76.4 974.6 77.0 975.8 77.6 976.2 78.3 975.6 78.9 974.5 79.5 973.6 80.2 973.4 80.8 974.2 81.4 975.2 82.1 975.9 82.7 975.8 M94.4 975.7 95.0 975.8 95.6 975.2 96.3 974.3 96.9 973.7 97.5 973.7 98.2 974.5 98.8 975.4 99.4 975.9 100.1 975.6 100.7 974.7 101.3 973.8 102.0 973.5 102.6 974.0 103.2 975.0 103.9 975.9 104.5 976.0 105.1 975.2 105.8 974.1 106.4 973.4 107.0 973.5 107.7 974.5 108.3 975.7 109.0 976.3 109.6 975.8 110.2 974.6 110.9 973.4 111.5 973.0 112.1 973.9 112.8 975.3 113.4 976.4 114.0 976.4 114.7 975.3 115.3 973.7 115.9 972.8 116.6 973.2 117.2 974.6 117.8 976.2 118.5 976.7 119.1 975.9 119.7 974.3 120.4 973.0 121.0 972.9 121.6 973.9 122.3 975.5 122.9 976.5 123.5 976.3 124.2 975.1 124.8 973.6 125.4 973.0 126.1 973.5 126.7 974.8 127.3 976.0 128.0 976.3 128.6 975.6 129.3 974.3 129.9 973.4 130.5 973.4 131.2 974.3 131.8 975.4 132.4 976.1 133.1 975.8 133.7 974.8 134.3 973.8 135.0 973.5 M146.6 974.6 147.3 975.4 147.9 975.9 148.5 975.5 149.2 974.6 149.8 973.8 150.4 973.6 151.1 974.2 151.7 975.1 152.3 975.8 153.0 975.8 153.6 975.1 154.2 974.1 154.9 973.5 155.5 973.7 156.1 974.7 156.8 975.7 157.4 976.1 158.0 975.6 158.7 974.5 159.3 973.5 159.9 973.3 160.6 974.1 161.2 975.4 161.8 976.3 162.5 976.1 163.1 975.0 163.7 973.7 164.4 973.0 165.0 973.4 165.7 974.8 166.3 976.2 166.9 976.6 167.6 975.8 168.2 974.2 168.8 972.9 169.5 972.9 170.1 974.1 170.7 975.7 171.4 976.7 172.0 976.3 172.6 974.9 173.3 973.4 173.9 972.8 174.5 973.5 175.2 975.0 175.8 976.3 176.4 976.5 177.1 975.5 177.7 974.1 178.3 973.1 179.0 973.3 179.6 974.4 180.2 975.7 180.9 976.3 181.5 975.9 182.1 974.7 182.8 973.6 183.4 973.3 184.0 974.0 184.7 975.1 185.3 975.9 186.0 975.9 186.6 975.2 187.2 974.1 M198.9 973.6 199.5 974.1 200.1 975.0 200.8 975.7 201.4 975.8 202.1 975.1 202.7 974.2 203.3 973.6 204.0 973.8 204.6 974.6 205.2 975.5 205.9 975.9 206.5 975.6 207.1 974.6 207.8 973.7 208.4 973.5 209.0 974.1 209.7 975.2 210.3 976.0 210.9 976.0 211.6 975.1 212.2 973.9 212.8 973.2 213.5 973.5 214.1 974.7 214.7 975.9 215.4 976.4 216.0 975.8 216.6 974.4 217.3 973.2 217.9 973.0 218.5 974.0 219.2 975.5 219.8 976.6 220.4 976.4 221.1 975.1 221.7 973.5 222.4 972.7 223.0 973.3 223.6 974.8 224.3 976.3 224.9 976.7 225.5 975.8 226.2 974.2 226.8 973.0 227.4 973.0 228.1 974.2 228.7 975.7 229.3 976.5 230.0 976.1 230.6 974.9 231.2 973.6 231.9 973.1 232.5 973.7 233.1 975.0 233.8 976.0 234.4 976.2 235.0 975.4 235.7 974.2 236.3 973.4 236.9 973.5 237.6 974.4 238.2 975.5 238.8 976.0 239.5 975.6 M251.1 973.6 251.8 974.0 252.4 974.9 253.0 975.7 253.7 975.8 254.3 975.3 254.9 974.3 255.6 973.7 256.2 973.7 256.8 974.4 257.5 975.4 258.1 975.9 258.8 975.7 259.4 974.8 260.0 973.8 260.7 973.4 261.3 973.9 261.9 975.0 262.6 975.9 263.2 976.1 263.8 975.3 264.5 974.1 265.1 973.3 265.7 973.4 266.4 974.5 267.0 975.8 267.6 976.4 268.3 975.9 268.9 974.6 269.5 973.3 270.2 972.9 270.8 973.8 271.4 975.3 272.1 976.5 272.7 976.5 273.3 975.3 274.0 973.7 274.6 972.8 275.2 973.2 275.9 974.6 276.5 976.1 277.1 976.7 277.8 976.0 278.4 974.4 279.1 973.1 279.7 972.9 280.3 973.9 281.0 975.5 281.6 976.4 282.2 976.3 282.9 975.1 283.5 973.7 284.1 973.1 284.8 973.6 285.4 974.8 286.0 975.9 286.7 976.2 287.3 975.5 287.9 974.4 288.6 973.5 289.2 973.5 289.8 974.3 290.5 975.4 291.1 976.0 291.7 975.7 M303.4 975.6 304.0 974.7 304.7 973.9 305.3 973.6 305.9 974.1 306.6 975.0 307.2 975.8 307.8 975.8 308.5 975.1 309.1 974.2 309.7 973.6 310.4 973.7 311.0 974.6 311.6 975.6 312.3 976.0 312.9 975.6 313.5 974.6 314.2 973.6 314.8 973.4 315.5 974.1 316.1 975.2 316.7 976.1 317.4 976.1 318.0 975.1 318.6 973.8 319.3 973.1 319.9 973.4 320.5 974.7 321.2 976.0 321.8 976.5 322.4 975.8 323.1 974.3 323.7 973.1 324.3 972.9 325.0 974.0 325.6 975.6 326.2 976.6 326.9 976.4 327.5 975.0 328.1 973.5 328.8 972.7 329.4 973.4 330.0 974.9 330.7 976.3 331.3 976.6 331.9 975.7 332.6 974.2 333.2 973.0 333.8 973.1 334.5 974.2 335.1 975.6 335.8 976.4 336.4 976.0 337.0 974.8 337.7 973.6 338.3 973.2 338.9 973.8 339.6 975.0 340.2 975.9 340.8 976.1 341.5 975.3 342.1 974.2 342.7 973.5 343.4 973.6 344.0 974.5 M355.7 974.8 356.3 975.6 356.9 975.8 357.6 975.3 358.2 974.4 358.8 973.7 359.5 973.7 360.1 974.4 360.7 975.3 361.4 975.9 362.0 975.7 362.6 974.8 363.3 973.9 363.9 973.5 364.5 973.9 365.2 975.0 365.8 975.9 366.4 976.0 367.1 975.3 367.7 974.2 368.3 973.3 369.0 973.4 369.6 974.4 370.3 975.7 370.9 976.3 371.5 975.9 372.2 974.7 372.8 973.4 373.4 973.0 374.1 973.8 374.7 975.2 375.3 976.4 376.0 976.5 376.6 975.4 377.2 973.8 377.9 972.8 378.5 973.1 379.1 974.5 379.8 976.1 380.4 976.7 381.0 976.0 381.7 974.5 382.3 973.1 382.9 972.8 383.6 973.9 384.2 975.4 384.8 976.5 385.5 976.3 386.1 975.2 386.7 973.7 387.4 973.0 388.0 973.5 388.6 974.7 389.3 975.9 389.9 976.3 390.6 975.6 391.2 974.4 391.8 973.4 392.5 973.4 393.1 974.2 393.7 975.3 394.4 976.0 395.0 975.8 395.6 974.9 396.3 973.9 M407.9 974.9 408.6 975.7 409.2 975.8 409.8 975.2 410.5 974.3 411.1 973.6 411.7 973.7 412.4 974.5 413.0 975.4 413.6 975.9 414.3 975.6 414.9 974.7 415.5 973.8 416.2 973.5 416.8 974.0 417.4 975.1 418.1 975.9 418.7 976.0 419.3 975.2 420.0 974.0 420.6 973.3 421.2 973.5 421.9 974.6 422.5 975.8 423.1 976.3 423.8 975.8 424.4 974.5 425.0 973.3 425.7 973.0 426.3 973.9 427.0 975.4 427.6 976.5 428.2 976.4 428.9 975.2 429.5 973.6 430.1 972.8 430.8 973.2 431.4 974.7 432.0 976.2 432.7 976.7 433.3 975.9 433.9 974.3 434.6 973.0 435.2 972.9 435.8 974.0 436.5 975.6 437.1 976.5 437.7 976.3 438.4 975.0 439.0 973.6 439.6 973.0 440.3 973.6 440.9 974.9 441.5 976.0 442.2 976.3 442.8 975.5 443.4 974.3 444.1 973.4 444.7 973.4 445.3 974.3 446.0 975.4 446.6 976.0 447.3 975.7 447.9 974.8 448.5 973.8 M460.2 974.8 460.8 973.9 461.4 973.6 462.1 974.1 462.7 975.0 463.4 975.7 464.0 975.8 464.6 975.2 465.3 974.2 465.9 973.6 466.5 973.7 467.2 974.5 467.8 975.5 468.4 976.0 469.1 975.6 469.7 974.6 470.3 973.7 471.0 973.4 471.6 974.0 472.2 975.2 472.9 976.1 473.5 976.1 474.1 975.2 474.8 973.9 475.4 973.1 476.0 973.4 476.7 974.6 477.3 975.9 477.9 976.5 478.6 975.9 479.2 974.4 479.8 973.1 480.5 972.9 481.1 973.9 481.7 975.5 482.4 976.6 483.0 976.5 483.7 975.1 484.3 973.5 484.9 972.7 485.6 973.3 486.2 974.8 486.8 976.2 487.5 976.7 488.1 975.8 488.7 974.2 489.4 973.1 490.0 973.0 490.6 974.1 491.3 975.6 491.9 976.4 492.5 976.1 493.2 974.9 493.8 973.7 494.4 973.2 495.1 973.7 495.7 974.9 496.3 975.9 497.0 976.1 497.6 975.4 498.2 974.2 498.9 973.5 499.5 973.6 500.1 974.4 500.8 975.4 M94.4 1028.4 95.0 1027.5 95.6 1026.8 96.3 1026.7 96.9 1027.3 97.5 1028.2 98.2 1028.8 98.8 1028.7 99.4 1027.9 100.1 1027.0 100.7 1026.5 101.3 1026.9 102.0 1027.8 102.6 1028.7 103.2 1029.0 103.9 1028.4 104.5 1027.3 105.1 1026.5 105.8 1026.5 106.4 1027.3 107.0 1028.5 107.7 1029.2 108.3 1028.9 109.0 1027.8 109.6 1026.6 110.2 1026.1 110.9 1026.7 111.5 1028.0 112.1 1029.3 112.8 1029.5 113.4 1028.5 114.0 1027.0 114.7 1025.9 115.3 1026.1 115.9 1027.4 116.6 1028.9 117.2 1029.7 117.8 1029.2 118.5 1027.7 119.1 1026.2 119.7 1025.8 120.4 1026.7 121.0 1028.3 121.6 1029.5 122.3 1029.5 122.9 1028.4 123.5 1026.8 124.2 1025.9 124.8 1026.3 125.4 1027.6 126.1 1028.9 126.7 1029.4 127.3 1028.8 128.0 1027.5 128.6 1026.4 129.3 1026.3 129.9 1027.1 130.5 1028.3 131.2 1029.1 131.8 1029.0 132.4 1028.1 133.1 1027.0 133.7 1026.5 134.3 1026.8 135.0 1027.7 M146.6 1027.0 147.3 1026.6 147.9 1027.0 148.5 1027.9 149.2 1028.7 149.8 1028.8 150.4 1028.3 151.1 1027.3 151.7 1026.6 152.3 1026.7 153.0 1027.5 153.6 1028.4 154.2 1029.0 154.9 1028.7 155.5 1027.7 156.1 1026.8 156.8 1026.4 157.4 1027.0 158.0 1028.1 158.7 1029.0 159.3 1029.1 159.9 1028.3 160.6 1027.0 161.2 1026.2 161.8 1026.4 162.5 1027.5 163.1 1028.9 163.7 1029.5 164.4 1028.9 165.0 1027.5 165.7 1026.2 166.3 1025.9 166.9 1026.8 167.6 1028.4 168.2 1029.6 168.8 1029.5 169.5 1028.3 170.1 1026.6 170.7 1025.8 171.4 1026.2 172.0 1027.7 172.6 1029.2 173.3 1029.7 173.9 1028.9 174.5 1027.3 175.2 1026.1 175.8 1026.0 176.4 1027.0 177.1 1028.5 177.7 1029.4 178.3 1029.2 179.0 1028.0 179.6 1026.7 180.2 1026.1 180.9 1026.6 181.5 1027.8 182.1 1028.9 182.8 1029.2 183.4 1028.5 184.0 1027.3 184.7 1026.5 185.3 1026.5 186.0 1027.4 186.6 1028.4 187.2 1029.0 M198.9 1027.0 199.5 1026.6 200.1 1027.0 200.8 1027.9 201.4 1028.7 202.1 1028.8 202.7 1028.2 203.3 1027.3 204.0 1026.6 204.6 1026.7 205.2 1027.5 205.9 1028.5 206.5 1029.0 207.1 1028.7 207.8 1027.7 208.4 1026.8 209.0 1026.4 209.7 1027.0 210.3 1028.1 210.9 1029.0 211.6 1029.1 212.2 1028.3 212.8 1027.0 213.5 1026.2 214.1 1026.4 214.7 1027.5 215.4 1028.9 216.0 1029.5 216.6 1028.9 217.3 1027.5 217.9 1026.2 218.5 1025.9 219.2 1026.8 219.8 1028.4 220.4 1029.6 221.1 1029.5 221.7 1028.2 222.4 1026.6 223.0 1025.8 223.6 1026.2 224.3 1027.7 224.9 1029.2 225.5 1029.7 226.2 1028.9 226.8 1027.3 227.4 1026.1 228.1 1026.0 228.7 1027.0 229.3 1028.5 230.0 1029.4 230.6 1029.2 231.2 1028.0 231.9 1026.7 232.5 1026.1 233.1 1026.7 233.8 1027.9 234.4 1028.9 235.0 1029.2 235.7 1028.5 236.3 1027.3 236.9 1026.5 237.6 1026.5 238.2 1027.4 238.8 1028.4 239.5 1029.0 M251.1 1028.8 251.8 1028.7 252.4 1028.0 253.0 1027.1 253.7 1026.6 254.3 1026.9 254.9 1027.8 255.6 1028.6 256.2 1028.9 256.8 1028.4 257.5 1027.4 258.1 1026.7 258.8 1026.6 259.4 1027.3 260.0 1028.3 260.7 1029.0 261.3 1028.8 261.9 1027.9 262.6 1026.8 263.2 1026.3 263.8 1026.8 264.5 1027.9 265.1 1029.0 265.7 1029.3 266.4 1028.5 267.0 1027.2 267.6 1026.2 268.3 1026.2 268.9 1027.3 269.5 1028.7 270.2 1029.6 270.8 1029.2 271.4 1027.8 272.1 1026.3 272.7 1025.8 273.3 1026.6 274.0 1028.1 274.6 1029.5 275.2 1029.6 275.9 1028.5 276.5 1026.9 277.1 1025.8 277.8 1026.1 278.4 1027.4 279.1 1028.9 279.7 1029.6 280.3 1029.0 281.0 1027.6 281.6 1026.3 282.2 1026.0 282.9 1026.9 283.5 1028.2 284.1 1029.2 284.8 1029.2 285.4 1028.2 286.0 1027.0 286.7 1026.3 287.3 1026.6 287.9 1027.6 288.6 1028.7 289.2 1029.1 289.8 1028.6 290.5 1027.5 291.1 1026.7 291.7 1026.5 M303.4 1028.7 304.0 1028.8 304.7 1028.1 305.3 1027.2 305.9 1026.6 306.6 1026.8 307.2 1027.6 307.8 1028.5 308.5 1028.9 309.1 1028.5 309.7 1027.6 310.4 1026.7 311.0 1026.5 311.6 1027.2 312.3 1028.2 312.9 1029.0 313.5 1028.9 314.2 1028.1 314.8 1027.0 315.5 1026.3 316.1 1026.6 316.7 1027.7 317.4 1028.9 318.0 1029.3 318.6 1028.7 319.3 1027.4 319.9 1026.3 320.5 1026.1 321.2 1027.1 321.8 1028.6 322.4 1029.5 323.1 1029.3 323.7 1028.0 324.3 1026.5 325.0 1025.8 325.6 1026.4 326.2 1027.9 326.9 1029.3 327.5 1029.7 328.1 1028.7 328.8 1027.1 329.4 1025.9 330.0 1026.0 330.7 1027.2 331.3 1028.8 331.9 1029.6 332.6 1029.2 333.2 1027.8 333.8 1026.4 334.5 1026.0 335.1 1026.7 335.8 1028.1 336.4 1029.2 337.0 1029.3 337.7 1028.4 338.3 1027.1 338.9 1026.3 339.6 1026.5 340.2 1027.5 340.8 1028.6 341.5 1029.1 342.1 1028.7 342.7 1027.7 343.4 1026.7 344.0 1026.5 M355.7 1027.0 356.3 1026.6 356.9 1027.0 357.6 1027.9 358.2 1028.7 358.8 1028.8 359.5 1028.2 360.1 1027.3 360.7 1026.6 361.4 1026.7 362.0 1027.5 362.6 1028.5 363.3 1029.0 363.9 1028.7 364.5 1027.7 365.2 1026.7 365.8 1026.4 366.4 1027.0 367.1 1028.1 367.7 1029.0 368.3 1029.1 369.0 1028.2 369.6 1027.0 370.3 1026.2 370.9 1026.4 371.5 1027.6 372.2 1028.9 372.8 1029.5 373.4 1028.9 374.1 1027.5 374.7 1026.2 375.3 1025.9 376.0 1026.9 376.6 1028.4 377.2 1029.6 377.9 1029.5 378.5 1028.2 379.1 1026.6 379.8 1025.8 380.4 1026.2 381.0 1027.7 381.7 1029.2 382.3 1029.7 382.9 1028.9 383.6 1027.3 384.2 1026.1 384.8 1026.0 385.5 1027.1 386.1 1028.5 386.7 1029.4 387.4 1029.2 388.0 1028.0 388.6 1026.7 389.3 1026.1 389.9 1026.7 390.6 1027.9 391.2 1028.9 391.8 1029.2 392.5 1028.4 393.1 1027.3 393.7 1026.5 394.4 1026.5 395.0 1027.4 395.6 1028.4 396.3 1029.0 M407.9 1028.5 408.6 1028.9 409.2 1028.5 409.8 1027.6 410.5 1026.8 411.1 1026.6 411.7 1027.2 412.4 1028.1 413.0 1028.8 413.6 1028.8 414.3 1028.1 414.9 1027.1 415.5 1026.5 416.2 1026.8 416.8 1027.7 417.4 1028.7 418.1 1029.1 418.7 1028.5 419.3 1027.5 420.0 1026.5 420.6 1026.4 421.2 1027.2 421.9 1028.4 422.5 1029.3 423.1 1029.1 423.8 1028.0 424.4 1026.7 425.0 1026.0 425.7 1026.5 426.3 1027.9 427.0 1029.2 427.6 1029.6 428.2 1028.7 428.9 1027.2 429.5 1026.0 430.1 1025.9 430.8 1027.2 431.4 1028.8 432.0 1029.7 432.7 1029.3 433.3 1027.9 433.9 1026.3 434.6 1025.8 435.2 1026.5 435.8 1028.1 436.5 1029.4 437.1 1029.5 437.7 1028.5 438.4 1027.0 439.0 1026.1 439.6 1026.2 440.3 1027.4 440.9 1028.7 441.5 1029.3 442.2 1028.9 442.8 1027.7 443.4 1026.6 444.1 1026.3 444.7 1027.0 445.3 1028.1 446.0 1029.0 446.6 1029.0 447.3 1028.2 447.9 1027.1 448.5 1026.5 M42.1 1081.9 42.7 1081.5 43.4 1080.6 44.0 1079.8 44.6 1079.6 45.3 1080.2 45.9 1081.2 46.5 1081.8 47.2 1081.8 47.8 1081.0 48.4 1080.1 49.1 1079.5 49.7 1079.8 50.3 1080.7 51.0 1081.7 51.6 1082.0 52.2 1081.5 52.9 1080.4 53.5 1079.5 54.2 1079.4 54.8 1080.2 55.4 1081.4 56.1 1082.2 56.7 1082.1 57.3 1081.0 58.0 1079.7 58.6 1079.1 59.2 1079.6 59.9 1080.9 60.5 1082.2 61.1 1082.6 61.8 1081.7 62.4 1080.1 63.0 1079.0 63.7 1079.0 64.3 1080.2 64.9 1081.8 65.6 1082.7 66.2 1082.3 66.8 1080.8 67.5 1079.3 68.1 1078.8 68.7 1079.6 69.4 1081.1 70.0 1082.4 70.6 1082.6 71.3 1081.5 71.9 1080.0 72.5 1079.0 73.2 1079.2 73.8 1080.4 74.5 1081.8 75.1 1082.4 75.7 1081.9 76.4 1080.7 77.0 1079.6 77.6 1079.3 78.3 1080.0 78.9 1081.2 79.5 1082.0 80.2 1082.0 80.8 1081.2 81.4 1080.1 82.1 1079.5 82.7 1079.7 M94.4 1081.8 95.0 1081.6 95.6 1080.8 96.3 1080.0 96.9 1079.6 97.5 1080.0 98.2 1080.9 98.8 1081.7 99.4 1081.9 100.1 1081.3 100.7 1080.3 101.3 1079.6 102.0 1079.7 102.6 1080.5 103.2 1081.5 103.9 1082.0 104.5 1081.7 105.1 1080.7 105.8 1079.7 106.4 1079.3 107.0 1080.0 107.7 1081.2 108.3 1082.1 109.0 1082.2 109.6 1081.3 110.2 1079.9 110.9 1079.1 111.5 1079.3 112.1 1080.6 112.8 1082.0 113.4 1082.6 114.0 1082.0 114.7 1080.5 115.3 1079.1 115.9 1078.9 116.6 1079.8 117.2 1081.5 117.8 1082.6 118.5 1082.5 119.1 1081.2 119.7 1079.6 120.4 1078.8 121.0 1079.3 121.6 1080.7 122.3 1082.2 122.9 1082.6 123.5 1081.8 124.2 1080.3 124.8 1079.2 125.4 1079.1 126.1 1080.1 126.7 1081.5 127.3 1082.3 128.0 1082.1 128.6 1081.0 129.3 1079.8 129.9 1079.3 130.5 1079.8 131.2 1080.9 131.8 1081.9 132.4 1082.1 133.1 1081.4 133.7 1080.3 134.3 1079.6 135.0 1079.6 M146.6 1080.9 147.3 1080.0 147.9 1079.6 148.5 1080.0 149.2 1080.9 149.8 1081.7 150.4 1081.9 151.1 1081.3 151.7 1080.3 152.3 1079.6 153.0 1079.7 153.6 1080.4 154.2 1081.4 154.9 1082.0 155.5 1081.7 156.1 1080.8 156.8 1079.8 157.4 1079.4 158.0 1079.9 158.7 1081.1 159.3 1082.0 159.9 1082.2 160.6 1081.3 161.2 1080.1 161.8 1079.2 162.5 1079.4 163.1 1080.5 163.7 1081.9 164.4 1082.5 165.0 1082.0 165.7 1080.6 166.3 1079.2 166.9 1078.9 167.6 1079.8 168.2 1081.4 168.8 1082.6 169.5 1082.5 170.1 1081.3 170.7 1079.7 171.4 1078.8 172.0 1079.2 172.6 1080.6 173.3 1082.2 173.9 1082.7 174.5 1081.9 175.2 1080.4 175.8 1079.1 176.4 1079.0 177.1 1080.0 177.7 1081.5 178.3 1082.4 179.0 1082.2 179.6 1081.1 180.2 1079.8 180.9 1079.2 181.5 1079.7 182.1 1080.8 182.8 1081.9 183.4 1082.1 184.0 1081.5 184.7 1080.4 185.3 1079.6 186.0 1079.6 186.6 1080.3 187.2 1081.4 M198.9 1079.6 199.5 1080.1 200.1 1081.0 200.8 1081.7 201.4 1081.8 202.1 1081.2 202.7 1080.2 203.3 1079.6 204.0 1079.8 204.6 1080.6 205.2 1081.5 205.9 1082.0 206.5 1081.6 207.1 1080.7 207.8 1079.7 208.4 1079.5 209.0 1080.1 209.7 1081.2 210.3 1082.0 210.9 1082.0 211.6 1081.2 212.2 1080.0 212.8 1079.2 213.5 1079.5 214.1 1080.7 214.7 1081.9 215.4 1082.4 216.0 1081.8 216.6 1080.4 217.3 1079.2 217.9 1079.0 218.5 1080.0 219.2 1081.5 219.8 1082.6 220.4 1082.4 221.1 1081.1 221.7 1079.6 222.4 1078.8 223.0 1079.3 223.6 1080.8 224.3 1082.3 224.9 1082.7 225.5 1081.8 226.2 1080.2 226.8 1079.0 227.4 1079.0 228.1 1080.1 228.7 1081.6 229.3 1082.5 230.0 1082.2 230.6 1080.9 231.2 1079.6 231.9 1079.1 232.5 1079.7 233.1 1081.0 233.8 1082.0 234.4 1082.2 235.0 1081.4 235.7 1080.2 236.3 1079.5 236.9 1079.6 237.6 1080.4 238.2 1081.5 238.8 1082.0 239.5 1081.7 M251.1 1081.0 251.8 1081.7 252.4 1081.8 253.0 1081.2 253.7 1080.2 254.3 1079.6 254.9 1079.8 255.6 1080.6 256.2 1081.5 256.8 1081.9 257.5 1081.6 258.1 1080.6 258.8 1079.8 259.4 1079.5 260.0 1080.1 260.7 1081.2 261.3 1082.0 261.9 1082.0 262.6 1081.1 263.2 1080.0 263.8 1079.3 264.5 1079.6 265.1 1080.7 265.7 1081.9 266.4 1082.4 267.0 1081.8 267.6 1080.4 268.3 1079.3 268.9 1079.1 269.5 1080.0 270.2 1081.5 270.8 1082.5 271.4 1082.4 272.1 1081.1 272.7 1079.5 273.3 1078.8 274.0 1079.3 274.6 1080.9 275.2 1082.3 275.9 1082.7 276.5 1081.8 277.1 1080.2 277.8 1079.0 278.4 1079.0 279.1 1080.1 279.7 1081.7 280.3 1082.6 281.0 1082.2 281.6 1080.9 282.2 1079.5 282.9 1079.0 283.5 1079.7 284.1 1081.0 284.8 1082.1 285.4 1082.3 286.0 1081.4 286.7 1080.2 287.3 1079.4 287.9 1079.5 288.6 1080.4 289.2 1081.5 289.8 1082.1 290.5 1081.7 291.1 1080.7 291.7 1079.8 M303.4 1081.6 304.0 1081.9 304.7 1081.3 305.3 1080.4 305.9 1079.7 306.6 1079.7 307.2 1080.4 307.8 1081.3 308.5 1081.9 309.1 1081.7 309.7 1080.8 310.4 1079.9 311.0 1079.5 311.6 1080.0 312.3 1080.9 312.9 1081.8 313.5 1082.0 314.2 1081.3 314.8 1080.2 315.5 1079.4 316.1 1079.5 316.7 1080.4 317.4 1081.6 318.0 1082.3 318.6 1081.9 319.3 1080.7 319.9 1079.5 320.5 1079.0 321.2 1079.8 321.8 1081.2 322.4 1082.4 323.1 1082.5 323.7 1081.4 324.3 1079.8 325.0 1078.9 325.6 1079.1 326.2 1080.5 326.9 1082.1 327.5 1082.7 328.1 1082.1 328.8 1080.5 329.4 1079.1 330.0 1078.8 330.7 1079.8 331.3 1081.4 331.9 1082.5 332.6 1082.4 333.2 1081.2 333.8 1079.8 334.5 1079.0 335.1 1079.4 335.8 1080.7 336.4 1082.0 337.0 1082.3 337.7 1081.7 338.3 1080.4 338.9 1079.5 339.6 1079.4 340.2 1080.2 340.8 1081.4 341.5 1082.1 342.1 1081.9 342.7 1081.0 343.4 1079.9 344.0 1079.5 M355.7 1079.9 356.3 1080.7 356.9 1081.5 357.6 1081.9 358.2 1081.5 358.8 1080.6 359.5 1079.8 360.1 1079.6 360.7 1080.3 361.4 1081.2 362.0 1081.9 362.6 1081.8 363.3 1081.0 363.9 1080.0 364.5 1079.5 365.2 1079.8 365.8 1080.8 366.4 1081.8 367.1 1082.1 367.7 1081.5 368.3 1080.4 369.0 1079.4 369.6 1079.3 370.3 1080.2 370.9 1081.5 371.5 1082.4 372.2 1082.1 372.8 1080.9 373.4 1079.6 374.1 1078.9 374.7 1079.5 375.3 1081.0 376.0 1082.3 376.6 1082.6 377.2 1081.6 377.9 1080.0 378.5 1078.9 379.1 1079.0 379.8 1080.3 380.4 1081.9 381.0 1082.7 381.7 1082.2 382.3 1080.8 382.9 1079.3 383.6 1078.8 384.2 1079.7 384.8 1081.2 385.5 1082.4 386.1 1082.4 386.7 1081.4 387.4 1080.0 388.0 1079.1 388.6 1079.4 389.3 1080.5 389.9 1081.8 390.6 1082.3 391.2 1081.8 391.8 1080.6 392.5 1079.6 393.1 1079.4 393.7 1080.1 394.4 1081.2 395.0 1081.9 395.6 1081.9 396.3 1081.1 M407.9 1081.2 408.6 1081.8 409.2 1081.7 409.8 1081.0 410.5 1080.1 411.1 1079.6 411.7 1079.9 412.4 1080.7 413.0 1081.6 413.6 1081.9 414.3 1081.4 414.9 1080.5 415.5 1079.7 416.2 1079.6 416.8 1080.3 417.4 1081.3 418.1 1082.0 418.7 1081.9 419.3 1080.9 420.0 1079.8 420.6 1079.3 421.2 1079.7 421.9 1080.9 422.5 1082.0 423.1 1082.3 423.8 1081.6 424.4 1080.2 425.0 1079.1 425.7 1079.2 426.3 1080.3 427.0 1081.7 427.6 1082.6 428.2 1082.2 428.9 1080.8 429.5 1079.3 430.1 1078.8 430.8 1079.6 431.4 1081.1 432.0 1082.5 432.7 1082.7 433.3 1081.5 433.9 1079.9 434.6 1078.9 435.2 1079.1 435.8 1080.4 436.5 1081.9 437.1 1082.6 437.7 1082.0 438.4 1080.6 439.0 1079.4 439.6 1079.1 440.3 1079.9 440.9 1081.2 441.5 1082.2 442.2 1082.2 442.8 1081.2 443.4 1080.0 444.1 1079.3 444.7 1079.6 445.3 1080.6 446.0 1081.7 446.6 1082.1 447.3 1081.6 447.9 1080.6 448.5 1079.7 M460.2 1079.6 460.8 1080.0 461.4 1080.9 462.1 1081.7 462.7 1081.9 463.4 1081.3 464.0 1080.4 464.6 1079.7 465.3 1079.7 465.9 1080.4 466.5 1081.4 467.2 1082.0 467.8 1081.7 468.4 1080.8 469.1 1079.8 469.7 1079.5 470.3 1079.9 471.0 1081.0 471.6 1082.0 472.2 1082.1 472.9 1081.3 473.5 1080.1 474.1 1079.3 474.8 1079.4 475.4 1080.5 476.0 1081.8 476.7 1082.4 477.3 1082.0 477.9 1080.6 478.6 1079.3 479.2 1078.9 479.8 1079.8 480.5 1081.3 481.1 1082.5 481.7 1082.5 482.4 1081.4 483.0 1079.7 483.7 1078.8 484.3 1079.2 484.9 1080.6 485.6 1082.1 486.2 1082.7 486.8 1082.0 487.5 1080.4 488.1 1079.1 488.7 1078.9 489.4 1079.9 490.0 1081.5 490.6 1082.5 491.3 1082.3 491.9 1081.1 492.5 1079.8 493.2 1079.1 493.8 1079.6 494.4 1080.8 495.1 1081.9 495.7 1082.2 496.3 1081.6 497.0 1080.4 497.6 1079.5 498.2 1079.5 498.9 1080.3 499.5 1081.4 500.1 1082.0 500.8 1081.8 M42.1 1132.7 42.7 1132.8 43.4 1133.5 44.0 1134.4 44.6 1134.9 45.3 1134.6 45.9 1133.8 46.5 1132.9 47.2 1132.6 47.8 1133.1 48.4 1134.0 49.1 1134.8 49.7 1134.9 50.3 1134.2 51.0 1133.2 51.6 1132.5 52.2 1132.6 52.9 1133.6 53.5 1134.7 54.2 1135.2 54.8 1134.8 55.4 1133.6 56.1 1132.5 56.7 1132.2 57.3 1133.0 58.0 1134.3 58.6 1135.3 59.2 1135.3 59.9 1134.2 60.5 1132.8 61.1 1131.9 61.8 1132.3 62.4 1133.7 63.0 1135.1 63.7 1135.7 64.3 1135.0 64.9 1133.4 65.6 1132.0 66.2 1131.9 66.8 1132.9 67.5 1134.6 68.1 1135.7 68.7 1135.4 69.4 1134.1 70.0 1132.6 70.6 1131.9 71.3 1132.4 71.9 1133.9 72.5 1135.2 73.2 1135.5 73.8 1134.7 74.5 1133.3 75.1 1132.3 75.7 1132.3 76.4 1133.3 77.0 1134.5 77.6 1135.2 78.3 1134.9 78.9 1133.9 79.5 1132.8 80.2 1132.4 80.8 1132.9 81.4 1134.0 82.1 1134.8 82.7 1135.0 M94.4 1132.7 95.0 1133.1 95.6 1134.0 96.3 1134.8 96.9 1134.8 97.5 1134.2 98.2 1133.2 98.8 1132.6 99.4 1132.8 100.1 1133.6 100.7 1134.6 101.3 1135.0 102.0 1134.6 102.6 1133.6 103.2 1132.7 103.9 1132.5 104.5 1133.1 105.1 1134.2 105.8 1135.1 106.4 1135.0 107.0 1134.1 107.7 1132.9 108.3 1132.2 109.0 1132.6 109.6 1133.7 110.2 1135.0 110.9 1135.4 111.5 1134.8 112.1 1133.4 112.8 1132.2 113.4 1132.0 114.0 1133.0 114.7 1134.6 115.3 1135.6 115.9 1135.4 116.6 1134.1 117.2 1132.5 117.8 1131.8 118.5 1132.4 119.1 1133.9 119.7 1135.4 120.4 1135.7 121.0 1134.8 121.6 1133.2 122.3 1132.0 122.9 1132.0 123.5 1133.2 124.2 1134.7 124.8 1135.5 125.4 1135.1 126.1 1133.9 126.7 1132.6 127.3 1132.1 128.0 1132.8 128.6 1134.0 129.3 1135.1 129.9 1135.2 130.5 1134.4 131.2 1133.2 131.8 1132.4 132.4 1132.6 133.1 1133.5 133.7 1134.5 134.3 1135.0 135.0 1134.7 M146.6 1134.0 147.3 1133.1 147.9 1132.6 148.5 1132.9 149.2 1133.8 149.8 1134.6 150.4 1134.9 151.1 1134.4 151.7 1133.5 152.3 1132.7 153.0 1132.6 153.6 1133.3 154.2 1134.4 154.9 1135.0 155.5 1134.8 156.1 1133.9 156.8 1132.9 157.4 1132.4 158.0 1132.8 158.7 1133.9 159.3 1135.0 159.9 1135.2 160.6 1134.5 161.2 1133.2 161.8 1132.3 162.5 1132.3 163.1 1133.3 163.7 1134.7 164.4 1135.5 165.0 1135.1 165.7 1133.8 166.3 1132.4 166.9 1131.9 167.6 1132.6 168.2 1134.2 168.8 1135.5 169.5 1135.6 170.1 1134.5 170.7 1132.9 171.4 1131.8 172.0 1132.1 172.6 1133.5 173.3 1135.0 173.9 1135.7 174.5 1135.1 175.2 1133.6 175.8 1132.3 176.4 1132.0 177.1 1132.9 177.7 1134.3 178.3 1135.3 179.0 1135.3 179.6 1134.2 180.2 1132.9 180.9 1132.2 181.5 1132.6 182.1 1133.7 182.8 1134.8 183.4 1135.2 184.0 1134.6 184.7 1133.5 185.3 1132.6 186.0 1132.5 186.6 1133.2 187.2 1134.3 M198.9 1132.8 199.5 1132.7 200.1 1133.4 200.8 1134.3 201.4 1134.9 202.1 1134.7 202.7 1133.9 203.3 1133.0 204.0 1132.6 204.6 1133.0 205.2 1133.9 205.9 1134.7 206.5 1135.0 207.1 1134.4 207.8 1133.3 208.4 1132.6 209.0 1132.6 209.7 1133.4 210.3 1134.5 210.9 1135.2 211.6 1134.9 212.2 1133.8 212.8 1132.7 213.5 1132.2 214.1 1132.8 214.7 1134.1 215.4 1135.2 216.0 1135.4 216.6 1134.5 217.3 1133.0 217.9 1132.0 218.5 1132.2 219.2 1133.4 219.8 1135.0 220.4 1135.7 221.1 1135.2 221.7 1133.6 222.4 1132.2 223.0 1131.8 223.6 1132.7 224.3 1134.3 224.9 1135.6 225.5 1135.6 226.2 1134.4 226.8 1132.8 227.4 1131.9 228.1 1132.3 228.7 1133.6 229.3 1135.0 230.0 1135.5 230.6 1134.9 231.2 1133.5 231.9 1132.4 232.5 1132.2 233.1 1133.1 233.8 1134.3 234.4 1135.2 235.0 1135.0 235.7 1134.1 236.3 1132.9 236.9 1132.4 237.6 1132.8 238.2 1133.8 238.8 1134.7 239.5 1135.0 M251.1 1133.0 251.8 1132.6 252.4 1133.1 253.0 1133.9 253.7 1134.7 254.3 1134.9 254.9 1134.3 255.6 1133.3 256.2 1132.6 256.8 1132.7 257.5 1133.5 258.1 1134.5 258.8 1135.0 259.4 1134.7 260.0 1133.7 260.7 1132.8 261.3 1132.4 261.9 1133.0 262.6 1134.1 263.2 1135.0 263.8 1135.1 264.5 1134.3 265.1 1133.0 265.7 1132.2 266.4 1132.4 267.0 1133.6 267.6 1134.9 268.3 1135.5 268.9 1134.9 269.5 1133.5 270.2 1132.2 270.8 1131.9 271.4 1132.9 272.1 1134.4 272.7 1135.6 273.3 1135.5 274.0 1134.2 274.6 1132.6 275.2 1131.8 275.9 1132.2 276.5 1133.7 277.1 1135.2 277.8 1135.7 278.4 1134.9 279.1 1133.3 279.7 1132.1 280.3 1132.0 281.0 1133.1 281.6 1134.6 282.2 1135.5 282.9 1135.2 283.5 1134.0 284.1 1132.7 284.8 1132.2 285.4 1132.7 286.0 1133.9 286.7 1135.0 287.3 1135.2 287.9 1134.5 288.6 1133.3 289.2 1132.5 289.8 1132.6 290.5 1133.4 291.1 1134.4 291.7 1135.0 M303.4 1134.9 304.0 1134.3 304.7 1133.4 305.3 1132.7 305.9 1132.7 306.6 1133.4 307.2 1134.4 307.8 1134.9 308.5 1134.7 309.1 1133.8 309.7 1132.9 310.4 1132.5 311.0 1133.0 311.6 1134.0 312.3 1134.8 312.9 1135.0 313.5 1134.3 314.2 1133.2 314.8 1132.4 315.5 1132.5 316.1 1133.5 316.7 1134.7 317.4 1135.3 318.0 1134.9 318.6 1133.7 319.3 1132.5 319.9 1132.1 320.5 1132.8 321.2 1134.2 321.8 1135.4 322.4 1135.5 323.1 1134.4 323.7 1132.8 324.3 1131.9 325.0 1132.2 325.6 1133.6 326.2 1135.1 326.9 1135.8 327.5 1135.1 328.1 1133.5 328.8 1132.1 329.4 1131.8 330.0 1132.9 330.7 1134.5 331.3 1135.6 331.9 1135.4 332.6 1134.2 333.2 1132.7 333.8 1132.0 334.5 1132.4 335.1 1133.8 335.8 1135.0 336.4 1135.4 337.0 1134.7 337.7 1133.4 338.3 1132.4 338.9 1132.4 339.6 1133.2 340.2 1134.4 340.8 1135.1 341.5 1134.9 342.1 1133.9 342.7 1132.9 343.4 1132.5 344.0 1132.9 M355.7 1134.8 356.3 1134.2 356.9 1133.3 357.6 1132.7 358.2 1132.8 358.8 1133.6 359.5 1134.5 360.1 1134.9 360.7 1134.6 361.4 1133.7 362.0 1132.8 362.6 1132.6 363.3 1133.1 363.9 1134.1 364.5 1134.9 365.2 1135.0 365.8 1134.2 366.4 1133.1 367.1 1132.4 367.7 1132.6 368.3 1133.6 369.0 1134.8 369.6 1135.3 370.3 1134.8 370.9 1133.5 371.5 1132.4 372.2 1132.1 372.8 1133.0 373.4 1134.4 374.1 1135.5 374.7 1135.4 375.3 1134.2 376.0 1132.6 376.6 1131.8 377.2 1132.3 377.9 1133.8 378.5 1135.3 379.1 1135.7 379.8 1134.9 380.4 1133.3 381.0 1132.0 381.7 1131.9 382.3 1133.1 382.9 1134.7 383.6 1135.6 384.2 1135.3 384.8 1134.0 385.5 1132.5 386.1 1132.0 386.7 1132.6 387.4 1134.0 388.0 1135.1 388.6 1135.4 389.3 1134.5 389.9 1133.2 390.6 1132.3 391.2 1132.4 391.8 1133.4 392.5 1134.5 393.1 1135.1 393.7 1134.8 394.4 1133.8 395.0 1132.8 395.6 1132.5 396.3 1133.0 M407.9 1133.2 408.6 1132.7 409.2 1132.9 409.8 1133.7 410.5 1134.5 411.1 1134.9 411.7 1134.5 412.4 1133.6 413.0 1132.8 413.6 1132.6 414.3 1133.2 414.9 1134.2 415.5 1134.9 416.2 1134.9 416.8 1134.1 417.4 1133.0 418.1 1132.4 418.7 1132.7 419.3 1133.8 420.0 1134.8 420.6 1135.2 421.2 1134.6 421.9 1133.4 422.5 1132.4 423.1 1132.2 423.8 1133.2 424.4 1134.5 425.0 1135.4 425.7 1135.2 426.3 1134.0 427.0 1132.6 427.6 1131.9 428.2 1132.5 428.9 1134.0 429.5 1135.3 430.1 1135.7 430.8 1134.7 431.4 1133.1 432.0 1131.9 432.7 1132.0 433.3 1133.2 433.9 1134.8 434.6 1135.7 435.2 1135.3 435.8 1133.8 436.5 1132.4 437.1 1131.9 437.7 1132.7 438.4 1134.1 439.0 1135.3 439.6 1135.4 440.3 1134.4 440.9 1133.1 441.5 1132.2 442.2 1132.4 442.8 1133.5 443.4 1134.7 444.1 1135.2 444.7 1134.8 445.3 1133.7 446.0 1132.7 446.6 1132.5 447.3 1133.1 447.9 1134.1 448.5 1134.9 M460.2 1133.4 460.8 1134.3 461.4 1134.9 462.1 1134.7 462.7 1133.9 463.4 1133.0 464.0 1132.6 464.6 1133.0 465.3 1133.9 465.9 1134.7 466.5 1134.9 467.2 1134.3 467.8 1133.3 468.4 1132.6 469.1 1132.6 469.7 1133.4 470.3 1134.5 471.0 1135.1 471.6 1134.8 472.2 1133.8 472.9 1132.7 473.5 1132.3 474.1 1132.9 474.8 1134.1 475.4 1135.2 476.0 1135.3 476.7 1134.4 477.3 1133.0 477.9 1132.1 478.6 1132.2 479.2 1133.5 479.8 1134.9 480.5 1135.7 481.1 1135.1 481.7 1133.6 482.4 1132.2 483.0 1131.8 483.7 1132.7 484.3 1134.4 484.9 1135.6 485.6 1135.6 486.2 1134.3 486.8 1132.7 487.5 1131.8 488.1 1132.2 488.7 1133.6 489.4 1135.1 490.0 1135.6 490.6 1134.9 491.3 1133.5 491.9 1132.3 492.5 1132.1 493.2 1133.1 493.8 1134.4 494.4 1135.2 495.1 1135.1 495.7 1134.1 496.3 1132.9 497.0 1132.3 497.6 1132.8 498.2 1133.8 498.9 1134.8 499.5 1135.0 500.1 1134.5 500.8 1133.4 M146.6 1187.6 147.3 1187.9 147.9 1187.4 148.5 1186.5 149.2 1185.7 149.8 1185.7 150.4 1186.4 151.1 1187.3 151.7 1187.9 152.3 1187.7 153.0 1186.9 153.6 1185.9 154.2 1185.5 154.9 1186.0 155.5 1187.0 156.1 1187.9 156.8 1188.1 157.4 1187.4 158.0 1186.3 158.7 1185.4 159.3 1185.5 159.9 1186.4 160.6 1187.7 161.2 1188.3 161.8 1188.0 162.5 1186.8 163.1 1185.5 163.7 1185.1 164.4 1185.8 165.0 1187.2 165.7 1188.4 166.3 1188.5 166.9 1187.4 167.6 1185.9 168.2 1184.9 168.8 1185.1 169.5 1186.5 170.1 1188.1 170.7 1188.8 171.4 1188.1 172.0 1186.6 172.6 1185.2 173.3 1184.9 173.9 1185.8 174.5 1187.4 175.2 1188.5 175.8 1188.4 176.4 1187.3 177.1 1185.8 177.7 1185.0 178.3 1185.4 179.0 1186.7 179.6 1188.0 180.2 1188.4 180.9 1187.7 181.5 1186.5 182.1 1185.5 182.8 1185.4 183.4 1186.2 184.0 1187.4 184.7 1188.1 185.3 1187.9 186.0 1187.0 186.6 1186.0 187.2 1185.5 M198.9 1185.9 199.5 1186.7 200.1 1187.6 200.8 1187.9 201.4 1187.4 202.1 1186.5 202.7 1185.8 203.3 1185.7 204.0 1186.3 204.6 1187.3 205.2 1187.9 205.9 1187.8 206.5 1187.0 207.1 1186.0 207.8 1185.5 208.4 1185.9 209.0 1186.9 209.7 1187.9 210.3 1188.1 210.9 1187.5 211.6 1186.3 212.2 1185.4 212.8 1185.4 213.5 1186.3 214.1 1187.6 214.7 1188.4 215.4 1188.1 216.0 1186.9 216.6 1185.5 217.3 1185.0 217.9 1185.6 218.5 1187.1 219.2 1188.4 219.8 1188.6 220.4 1187.6 221.1 1186.0 221.7 1184.9 222.4 1185.0 223.0 1186.4 223.6 1188.0 224.3 1188.8 224.9 1188.2 225.5 1186.7 226.2 1185.3 226.8 1184.9 227.4 1185.7 228.1 1187.3 228.7 1188.4 229.3 1188.4 230.0 1187.3 230.6 1185.9 231.2 1185.1 231.9 1185.4 232.5 1186.6 233.1 1187.8 233.8 1188.3 234.4 1187.7 235.0 1186.6 235.7 1185.6 236.3 1185.4 236.9 1186.2 237.6 1187.3 238.2 1188.0 238.8 1187.9 239.5 1187.1 M251.1 1186.8 251.8 1187.6 252.4 1187.9 253.0 1187.4 253.7 1186.5 254.3 1185.8 254.9 1185.7 255.6 1186.4 256.2 1187.3 256.8 1187.9 257.5 1187.8 258.1 1186.9 258.8 1186.0 259.4 1185.5 260.0 1185.9 260.7 1186.9 261.3 1187.9 261.9 1188.1 262.6 1187.4 263.2 1186.3 263.8 1185.4 264.5 1185.4 265.1 1186.4 265.7 1187.6 266.4 1188.4 267.0 1188.0 267.6 1186.8 268.3 1185.5 268.9 1185.0 269.5 1185.7 270.2 1187.2 270.8 1188.4 271.4 1188.6 272.1 1187.5 272.7 1185.9 273.3 1184.9 274.0 1185.1 274.6 1186.4 275.2 1188.0 275.9 1188.8 276.5 1188.2 277.1 1186.6 277.8 1185.2 278.4 1184.9 279.1 1185.8 279.7 1187.3 280.3 1188.5 281.0 1188.4 281.6 1187.3 282.2 1185.9 282.9 1185.1 283.5 1185.4 284.1 1186.7 284.8 1187.9 285.4 1188.3 286.0 1187.7 286.7 1186.5 287.3 1185.5 287.9 1185.4 288.6 1186.2 289.2 1187.3 289.8 1188.0 290.5 1187.9 291.1 1187.0 291.7 1186.0 M303.4 1187.9 304.0 1187.6 304.7 1186.7 305.3 1185.9 305.9 1185.6 306.6 1186.2 307.2 1187.1 307.8 1187.8 308.5 1187.9 309.1 1187.2 309.7 1186.2 310.4 1185.6 311.0 1185.8 311.6 1186.6 312.3 1187.6 312.9 1188.1 313.5 1187.6 314.2 1186.6 314.8 1185.6 315.5 1185.4 316.1 1186.1 316.7 1187.3 317.4 1188.2 318.0 1188.2 318.6 1187.1 319.3 1185.8 319.9 1185.1 320.5 1185.5 321.2 1186.8 321.8 1188.1 322.4 1188.6 323.1 1187.8 323.7 1186.3 324.3 1185.1 325.0 1184.9 325.6 1186.1 326.2 1187.7 326.9 1188.7 327.5 1188.4 328.1 1187.0 328.8 1185.5 329.4 1184.8 330.0 1185.4 330.7 1187.0 331.3 1188.3 331.9 1188.6 332.6 1187.7 333.2 1186.2 333.8 1185.1 334.5 1185.2 335.1 1186.3 335.8 1187.7 336.4 1188.4 337.0 1188.0 337.7 1186.8 338.3 1185.7 338.9 1185.3 339.6 1185.9 340.2 1187.0 340.8 1188.0 341.5 1188.1 342.1 1187.3 342.7 1186.2 343.4 1185.5 344.0 1185.7 M355.7 1185.9 356.3 1185.7 356.9 1186.2 357.6 1187.1 358.2 1187.8 358.8 1187.8 359.5 1187.1 360.1 1186.2 360.7 1185.6 361.4 1185.8 362.0 1186.7 362.6 1187.6 363.3 1188.0 363.9 1187.6 364.5 1186.6 365.2 1185.7 365.8 1185.5 366.4 1186.2 367.1 1187.3 367.7 1188.1 368.3 1188.0 369.0 1187.1 369.6 1185.9 370.3 1185.2 370.9 1185.6 371.5 1186.8 372.2 1188.1 372.8 1188.5 373.4 1187.7 374.1 1186.3 374.7 1185.1 375.3 1185.0 376.0 1186.1 376.6 1187.7 377.2 1188.7 377.9 1188.4 378.5 1187.0 379.1 1185.4 379.8 1184.8 380.4 1185.5 381.0 1187.0 381.7 1188.4 382.3 1188.7 382.9 1187.7 383.6 1186.1 384.2 1185.0 384.8 1185.1 385.5 1186.3 386.1 1187.8 386.7 1188.5 387.4 1188.1 388.0 1186.8 388.6 1185.6 389.3 1185.2 389.9 1185.9 390.6 1187.1 391.2 1188.1 391.8 1188.1 392.5 1187.3 393.1 1186.2 393.7 1185.5 394.4 1185.7 395.0 1186.6 395.6 1187.6 396.3 1188.0 M198.9 1240.8 199.5 1240.1 200.1 1239.2 200.8 1238.7 201.4 1238.9 202.1 1239.7 202.7 1240.6 203.3 1240.9 204.0 1240.5 204.6 1239.6 205.2 1238.7 205.9 1238.6 206.5 1239.3 207.1 1240.3 207.8 1241.0 208.4 1240.9 209.0 1240.0 209.7 1238.9 210.3 1238.4 210.9 1238.8 211.6 1239.9 212.2 1240.9 212.8 1241.3 213.5 1240.6 214.1 1239.3 214.7 1238.3 215.4 1238.2 216.0 1239.2 216.6 1240.7 217.3 1241.6 217.9 1241.3 218.5 1239.9 219.2 1238.5 219.8 1237.8 220.4 1238.5 221.1 1240.1 221.7 1241.4 222.4 1241.7 223.0 1240.7 223.6 1239.0 224.3 1237.9 224.9 1238.0 225.5 1239.3 226.2 1240.9 226.8 1241.7 227.4 1241.2 228.1 1239.8 228.7 1238.4 229.3 1238.0 230.0 1238.8 230.6 1240.2 231.2 1241.3 231.9 1241.3 232.5 1240.3 233.1 1239.1 233.8 1238.3 234.4 1238.6 235.0 1239.6 235.7 1240.7 236.3 1241.2 236.9 1240.7 237.6 1239.6 238.2 1238.7 238.8 1238.5 239.5 1239.2 M251.1 1238.8 251.8 1239.6 252.4 1240.5 253.0 1240.9 253.7 1240.6 254.3 1239.7 254.9 1238.9 255.6 1238.6 256.2 1239.2 256.8 1240.1 257.5 1240.9 258.1 1240.9 258.8 1240.2 259.4 1239.1 260.0 1238.5 260.7 1238.7 261.3 1239.7 261.9 1240.7 262.6 1241.2 263.2 1240.7 263.8 1239.5 264.5 1238.5 265.1 1238.3 265.7 1239.1 266.4 1240.4 267.0 1241.3 267.6 1241.3 268.3 1240.1 268.9 1238.7 269.5 1238.0 270.2 1238.4 270.8 1239.8 271.4 1241.2 272.1 1241.7 272.7 1240.9 273.3 1239.3 274.0 1238.0 274.6 1237.9 275.2 1239.1 275.9 1240.7 276.5 1241.7 277.1 1241.4 277.8 1240.0 278.4 1238.5 279.1 1237.9 279.7 1238.5 280.3 1240.0 281.0 1241.3 281.6 1241.5 282.2 1240.6 282.9 1239.2 283.5 1238.2 284.1 1238.3 284.8 1239.4 285.4 1240.7 286.0 1241.3 286.7 1240.9 287.3 1239.8 287.9 1238.7 288.6 1238.4 289.2 1239.0 289.8 1240.1 290.5 1240.9 291.1 1241.0 291.7 1240.3 M303.4 1240.7 304.0 1239.9 304.7 1239.1 305.3 1238.7 305.9 1239.0 306.6 1239.9 307.2 1240.7 307.8 1240.9 308.5 1240.4 309.1 1239.4 309.7 1238.7 310.4 1238.7 311.0 1239.4 311.6 1240.4 312.3 1241.0 312.9 1240.8 313.5 1239.8 314.2 1238.8 314.8 1238.4 315.5 1238.9 316.1 1240.1 316.7 1241.1 317.4 1241.2 318.0 1240.4 318.6 1239.1 319.3 1238.2 319.9 1238.3 320.5 1239.5 321.2 1240.9 321.8 1241.6 322.4 1241.1 323.1 1239.7 323.7 1238.3 324.3 1237.9 325.0 1238.7 325.6 1240.3 326.2 1241.6 326.9 1241.6 327.5 1240.4 328.1 1238.8 328.8 1237.8 329.4 1238.2 330.0 1239.6 330.7 1241.1 331.3 1241.7 331.9 1241.0 332.6 1239.5 333.2 1238.2 333.8 1238.0 334.5 1239.0 335.1 1240.4 335.8 1241.4 336.4 1241.2 337.0 1240.1 337.7 1238.9 338.3 1238.3 338.9 1238.7 339.6 1239.8 340.2 1240.8 340.8 1241.2 341.5 1240.5 342.1 1239.5 342.7 1238.6 343.4 1238.6 344.0 1239.3 M251.1 1293.5 251.8 1292.6 252.4 1291.8 253.0 1291.7 253.7 1292.3 254.3 1293.3 254.9 1293.9 255.6 1293.8 256.2 1293.0 256.8 1292.1 257.5 1291.6 258.1 1291.9 258.8 1292.9 259.4 1293.8 260.0 1294.1 260.7 1293.5 261.3 1292.4 261.9 1291.6 262.6 1291.5 263.2 1292.3 263.8 1293.5 264.5 1294.3 265.1 1294.0 265.7 1292.9 266.4 1291.7 267.0 1291.1 267.6 1291.7 268.3 1293.0 268.9 1294.3 269.5 1294.5 270.2 1293.6 270.8 1292.1 271.4 1291.0 272.1 1291.1 272.7 1292.4 273.3 1293.9 274.0 1294.8 274.6 1294.3 275.2 1292.8 275.9 1291.3 276.5 1290.8 277.1 1291.7 277.8 1293.3 278.4 1294.5 279.1 1294.6 279.7 1293.5 280.3 1291.9 281.0 1291.0 281.6 1291.3 282.2 1292.6 282.9 1293.9 283.5 1294.5 284.1 1293.9 284.8 1292.6 285.4 1291.5 286.0 1291.3 286.7 1292.1 287.3 1293.3 287.9 1294.1 288.6 1294.0 289.2 1293.1 289.8 1292.1 290.5 1291.5 291.1 1291.8 291.7 1292.8" stroke="#0a0aff" stroke-width="1.10" fill="none" stroke-linejoin="round"/>
<path d="M299.50,344.40 A26.10,24.90 0 0 1 351.70,344.40 A26.10,24.90 0 0 1 299.50,344.40" fill="none" stroke="#000" stroke-width="4.4" stroke-dasharray="12.6,4.3"/>
<path d="M301.50,971.70 A26.10,24.90 0 0 1 353.70,971.70 A26.10,24.90 0 0 1 301.50,971.70" fill="none" stroke="#000" stroke-width="4.4" stroke-dasharray="12.6,4.3"/>
<line x1="812.50" y1="243.00" x2="812.50" y2="529.50" stroke="#6a6a6a" stroke-width="1.00" stroke-dasharray="3,1.74" stroke-dashoffset="2.04"/>
<line x1="922.40" y1="243.00" x2="922.40" y2="529.50" stroke="#6a6a6a" stroke-width="1.00" stroke-dasharray="3,1.74" stroke-dashoffset="2.04"/>
<line x1="1031.50" y1="243.00" x2="1031.50" y2="529.50" stroke="#6a6a6a" stroke-width="1.00" stroke-dasharray="3,1.74" stroke-dashoffset="2.04"/>
<line x1="1140.50" y1="243.00" x2="1140.50" y2="529.50" stroke="#6a6a6a" stroke-width="1.00" stroke-dasharray="3,1.74" stroke-dashoffset="2.04"/>
<line x1="1249.60" y1="243.00" x2="1249.60" y2="529.50" stroke="#6a6a6a" stroke-width="1.00" stroke-dasharray="3,1.74" stroke-dashoffset="2.04"/>
<line x1="784.90" y1="243.00" x2="789.40" y2="243.00" stroke="#888" stroke-width="1.00"/>
<line x1="784.90" y1="290.60" x2="789.40" y2="290.60" stroke="#888" stroke-width="1.00"/>
<line x1="784.90" y1="338.40" x2="789.40" y2="338.40" stroke="#888" stroke-width="1.00"/>
<line x1="784.90" y1="433.90" x2="789.40" y2="433.90" stroke="#888" stroke-width="1.00"/>
<line x1="784.90" y1="482.20" x2="789.40" y2="482.20" stroke="#888" stroke-width="1.00"/>
<line x1="784.90" y1="529.50" x2="789.40" y2="529.50" stroke="#888" stroke-width="1.00"/>
<line x1="1270.00" y1="243.00" x2="1271.30" y2="243.00" stroke="#888" stroke-width="1.00"/>
<line x1="1270.00" y1="290.60" x2="1271.30" y2="290.60" stroke="#888" stroke-width="1.00"/>
<line x1="1270.00" y1="338.40" x2="1271.30" y2="338.40" stroke="#888" stroke-width="1.00"/>
<line x1="1270.00" y1="433.90" x2="1271.30" y2="433.90" stroke="#888" stroke-width="1.00"/>
<line x1="1270.00" y1="482.20" x2="1271.30" y2="482.20" stroke="#888" stroke-width="1.00"/>
<line x1="1270.00" y1="529.50" x2="1271.30" y2="529.50" stroke="#888" stroke-width="1.00"/>
<line x1="812.50" y1="572.10" x2="812.50" y2="577.60" stroke="#888" stroke-width="1.00"/>
<line x1="894.60" y1="572.10" x2="894.60" y2="577.60" stroke="#888" stroke-width="1.00"/>
<line x1="976.40" y1="572.10" x2="976.40" y2="577.60" stroke="#888" stroke-width="1.00"/>
<line x1="1058.40" y1="572.10" x2="1058.40" y2="577.60" stroke="#888" stroke-width="1.00"/>
<line x1="1140.30" y1="572.10" x2="1140.30" y2="577.60" stroke="#888" stroke-width="1.00"/>
<line x1="1222.50" y1="572.10" x2="1222.50" y2="577.60" stroke="#888" stroke-width="1.00"/>
<line x1="812.70" y1="198.50" x2="812.70" y2="200.50" stroke="#999" stroke-width="1.00"/>
<line x1="894.70" y1="198.50" x2="894.70" y2="200.50" stroke="#999" stroke-width="1.00"/>
<line x1="1222.50" y1="198.50" x2="1222.50" y2="200.50" stroke="#999" stroke-width="1.00"/>
<path d="M785.00,391.50 L788.67,392.00 L792.33,393.00 L796.00,393.50 L799.41,393.05 L802.82,391.75 L806.23,389.73 L809.64,387.18 L813.05,384.35 L816.46,381.52 L819.87,378.97 L823.28,376.95 L826.69,375.65 L830.10,375.20 L833.54,376.05 L836.99,378.49 L840.43,382.22 L843.88,386.81 L847.32,391.69 L850.77,396.27 L854.21,400.01 L857.66,402.45 L861.10,403.30 L864.45,402.27 L867.80,399.28 L871.15,394.62 L874.50,388.75 L877.85,382.25 L881.20,375.75 L884.55,369.88 L887.90,365.22 L891.25,362.23 L894.60,361.20 L897.86,362.82 L901.12,367.51 L904.38,374.82 L907.64,384.04 L910.90,394.25 L914.16,404.46 L917.42,413.68 L920.68,420.99 L923.94,425.68 L927.20,427.30 L930.54,424.13 L933.89,414.99 L937.23,401.00 L940.58,383.83 L943.92,365.57 L947.27,348.40 L950.61,334.41 L953.96,325.27 L957.30,322.10 L960.52,326.74 L963.74,340.10 L966.97,360.57 L970.19,385.69 L973.41,412.41 L976.63,437.52 L979.86,458.00 L983.08,471.36 L986.30,476.00 L989.53,470.00 L992.77,452.73 L996.00,426.28 L999.23,393.82 L1002.47,359.28 L1005.70,326.83 L1008.93,300.37 L1012.17,283.10 L1015.40,277.10 L1018.58,284.05 L1021.76,304.08 L1024.93,334.75 L1028.11,372.38 L1031.29,412.42 L1034.47,450.05 L1037.64,480.72 L1040.82,500.75 L1044.00,507.70 L1047.14,500.10 L1050.29,478.23 L1053.43,444.73 L1056.58,403.62 L1059.72,359.88 L1062.87,318.78 L1066.01,285.27 L1069.16,263.40 L1072.30,255.80 L1075.51,263.80 L1078.72,286.83 L1081.93,322.12 L1085.14,365.42 L1088.36,411.48 L1091.57,454.77 L1094.78,490.07 L1097.99,513.10 L1101.20,521.10 L1104.34,513.16 L1107.49,490.31 L1110.63,455.30 L1113.78,412.35 L1116.92,366.65 L1120.07,323.70 L1123.21,288.69 L1126.36,265.84 L1129.50,257.90 L1132.99,267.17 L1136.47,293.57 L1139.96,333.09 L1143.45,379.70 L1146.94,426.31 L1150.43,465.83 L1153.91,492.23 L1157.40,501.50 L1160.57,495.24 L1163.73,477.23 L1166.90,449.62 L1170.07,415.77 L1173.23,379.73 L1176.40,345.88 L1179.57,318.27 L1182.73,300.26 L1185.90,294.00 L1189.07,298.70 L1192.23,312.24 L1195.40,332.97 L1198.57,358.41 L1201.73,385.49 L1204.90,410.92 L1208.07,431.66 L1211.23,445.20 L1214.40,449.90 L1217.66,446.85 L1220.91,438.06 L1224.17,424.60 L1227.42,408.09 L1230.68,390.51 L1233.93,374.00 L1237.19,360.54 L1240.44,351.75 L1243.70,348.70 L1247.06,350.71 L1250.42,356.42 L1253.79,364.97 L1257.15,375.05 L1260.51,385.13 L1263.88,393.68 L1267.24,399.39 L1270.60,401.40" stroke="#e4402c" stroke-width="1.50" fill="none"/>
<path d="M785.00,386.20 L788.25,386.65 L791.50,387.75 L794.75,388.85 L798.00,389.30 L801.14,388.97 L804.29,388.04 L807.43,386.70 L810.57,385.20 L813.71,383.86 L816.86,382.93 L820.00,382.60 L823.26,382.87 L826.52,383.64 L829.79,384.79 L833.05,386.15 L836.31,387.51 L839.58,388.66 L842.84,389.43 L846.10,389.70 L849.53,389.38 L852.96,388.48 L856.39,387.17 L859.81,385.73 L863.24,384.42 L866.67,383.52 L870.10,383.20 L873.54,383.45 L876.99,384.16 L880.43,385.18 L883.87,386.32 L887.31,387.34 L890.76,388.05 L894.20,388.30 L897.34,388.10 L900.49,387.53 L903.63,386.71 L906.77,385.79 L909.91,384.97 L913.06,384.40 L916.20,384.20 L919.36,384.47 L922.51,385.24 L925.67,386.34 L928.83,387.56 L931.99,388.66 L935.14,389.43 L938.30,389.70 L941.79,389.23 L945.27,387.91 L948.76,386.01 L952.24,383.89 L955.73,381.99 L959.21,380.67 L962.70,380.20 L965.90,380.74 L969.10,382.26 L972.30,384.55 L975.50,387.25 L978.70,389.95 L981.90,392.24 L985.10,393.76 L988.30,394.30 L991.69,393.61 L995.07,391.65 L998.46,388.71 L1001.85,385.25 L1005.24,381.79 L1008.62,378.85 L1012.01,376.89 L1015.40,376.20 L1018.58,376.88 L1021.76,378.86 L1024.93,381.88 L1028.11,385.58 L1031.29,389.52 L1034.47,393.22 L1037.64,396.24 L1040.82,398.22 L1044.00,398.90 L1047.27,398.05 L1050.53,395.61 L1053.80,391.88 L1057.07,387.29 L1060.33,382.41 L1063.60,377.82 L1066.87,374.09 L1070.13,371.65 L1073.40,370.80 L1076.88,372.03 L1080.35,375.52 L1083.83,380.74 L1087.30,386.90 L1090.78,393.06 L1094.25,398.28 L1097.73,401.77 L1101.20,403.00 L1104.56,401.76 L1107.92,398.23 L1111.29,392.94 L1114.65,386.70 L1118.01,380.46 L1121.38,375.17 L1124.74,371.64 L1128.10,370.40 L1131.24,371.24 L1134.39,373.66 L1137.53,377.38 L1140.68,381.93 L1143.82,386.77 L1146.97,391.32 L1150.11,395.04 L1153.26,397.46 L1156.40,398.30 L1159.57,397.68 L1162.73,395.88 L1165.90,393.12 L1169.07,389.75 L1172.23,386.15 L1175.40,382.78 L1178.57,380.02 L1181.73,378.22 L1184.90,377.60 L1188.10,377.94 L1191.30,378.93 L1194.50,380.46 L1197.70,382.40 L1200.90,384.55 L1204.10,386.70 L1207.30,388.64 L1210.50,390.17 L1213.70,391.16 L1216.90,391.50 L1220.09,391.27 L1223.28,390.61 L1226.47,389.57 L1229.66,388.23 L1232.85,386.70 L1236.05,385.10 L1239.24,383.57 L1242.43,382.23 L1245.62,381.19 L1248.81,380.53 L1252.00,380.30 L1255.10,380.88 L1258.20,382.48 L1261.30,384.65 L1264.40,386.82 L1267.50,388.42 L1270.60,389.00" stroke="#2e40a6" stroke-width="2.20" fill="none"/>
<line x1="783.40" y1="200.20" x2="783.40" y2="580.70" stroke="#000" stroke-width="4.00"/>
<line x1="781.40" y1="578.60" x2="1282.00" y2="578.60" stroke="#000" stroke-width="4.20"/>
<line x1="921.80" y1="215.20" x2="1195.60" y2="215.20" stroke="#000" stroke-width="2.70"/>
<line x1="923.20" y1="207.80" x2="923.20" y2="216.50" stroke="#000" stroke-width="2.80"/>
<line x1="977.40" y1="207.80" x2="977.40" y2="216.50" stroke="#000" stroke-width="2.80"/>
<line x1="1031.20" y1="207.80" x2="1031.20" y2="216.50" stroke="#000" stroke-width="2.80"/>
<line x1="1085.40" y1="207.80" x2="1085.40" y2="216.50" stroke="#000" stroke-width="2.80"/>
<line x1="1139.40" y1="207.80" x2="1139.40" y2="216.50" stroke="#000" stroke-width="2.80"/>
<line x1="1194.20" y1="207.80" x2="1194.20" y2="216.50" stroke="#000" stroke-width="2.80"/>
<polygon points="900.22,177.18 909.99,170.57 915.10,180.34 913.43,182.01 918.82,188.34 917.43,190.38 925.15,204.98 909.71,192.06 911.11,190.94 905.71,184.90 907.11,183.22" fill="#707070" stroke="#000" stroke-width="2.5" stroke-linejoin="round"/>
<polygon points="954.22,177.18 963.99,170.57 969.10,180.34 967.43,182.01 972.82,188.34 971.43,190.38 979.15,204.98 963.71,192.06 965.11,190.94 959.71,184.90 961.11,183.22" fill="#707070" stroke="#000" stroke-width="2.5" stroke-linejoin="round"/>
<polygon points="1009.22,177.18 1018.99,170.57 1024.10,180.34 1022.43,182.01 1027.82,188.34 1026.43,190.38 1034.15,204.98 1018.71,192.06 1020.11,190.94 1014.71,184.90 1016.11,183.22" fill="#707070" stroke="#000" stroke-width="2.5" stroke-linejoin="round"/>
<polygon points="1063.02,177.18 1072.79,170.57 1077.90,180.34 1076.23,182.01 1081.62,188.34 1080.23,190.38 1087.95,204.98 1072.51,192.06 1073.90,190.94 1068.51,184.90 1069.91,183.22" fill="#707070" stroke="#000" stroke-width="2.5" stroke-linejoin="round"/>
<rect x="1149.30" y="169.50" width="33.10" height="33.90" fill="#c2c2c2" stroke="#000" stroke-width="2.80"/>
<line x1="1151.90" y1="171.10" x2="1151.90" y2="201.80" stroke="#aaaaaa" stroke-width="0.90"/>
<line x1="1155.10" y1="171.10" x2="1155.10" y2="201.80" stroke="#aaaaaa" stroke-width="0.90"/>
<line x1="1158.30" y1="171.10" x2="1158.30" y2="201.80" stroke="#aaaaaa" stroke-width="0.90"/>
<line x1="1161.50" y1="171.10" x2="1161.50" y2="201.80" stroke="#aaaaaa" stroke-width="0.90"/>
<line x1="1164.70" y1="171.10" x2="1164.70" y2="201.80" stroke="#aaaaaa" stroke-width="0.90"/>
<line x1="1167.90" y1="171.10" x2="1167.90" y2="201.80" stroke="#aaaaaa" stroke-width="0.90"/>
<line x1="1171.10" y1="171.10" x2="1171.10" y2="201.80" stroke="#aaaaaa" stroke-width="0.90"/>
<line x1="1174.30" y1="171.10" x2="1174.30" y2="201.80" stroke="#aaaaaa" stroke-width="0.90"/>
<line x1="1177.50" y1="171.10" x2="1177.50" y2="201.80" stroke="#aaaaaa" stroke-width="0.90"/>
<text transform="translate(760.16,219.60) scale(1,0.9635)" font-size="34.69" font-weight="bold" fill="#000">2</text>
<text transform="translate(760.52,408.65) scale(1,1.0175)" font-size="34.47" font-weight="bold" fill="#000">0</text>
<text transform="translate(748.64,600.20) scale(1,0.9720)" font-size="33.95" font-weight="bold" fill="#000">-2</text>
<text transform="translate(779.65,630.06) scale(1,1.0087)" font-size="33.79" font-weight="bold" fill="#000">-199.5</text>
<text transform="translate(898.96,630.06) scale(1,1.0146)" font-size="33.59" font-weight="bold" fill="#000">-133</text>
<text transform="translate(1002.95,628.28) scale(1,0.9597)" font-size="33.76" font-weight="bold" fill="#000">-66.5</text>
<text transform="translate(1134.15,628.28) scale(1,0.8956)" font-size="36.17" font-weight="bold" fill="#000">0</text>
<text transform="translate(1224.54,628.25) scale(1,1.0327)" font-size="34.10" font-weight="bold" fill="#000">66.5</text>
<text transform="translate(850.75,560.10) scale(1,1.1775)" font-size="34.96" font-weight="bold" fill="#000">T1</text>
<text transform="translate(966.90,560.10) scale(1,1.0227)" font-size="40.09" font-weight="bold" fill="#000">T2</text>
<text transform="translate(1074.61,560.09) scale(1,1.0528)" font-size="38.93" font-weight="bold" fill="#000">T3</text>
<text transform="translate(1182.81,559.70) scale(1,1.0787)" font-size="38.70" font-weight="bold" fill="#000">T4</text>
<text transform="translate(940.41,688.78) scale(1,1.0218)" font-size="39.25" font-weight="bold" fill="#000">Time (ms)</text>
<text transform="translate(734.10,483.99) rotate(-90) scale(1,1.0112)" font-size="39.56" font-weight="bold" fill="#000">Amplitude (µV)</text>
<text transform="translate(488.84,148.81) scale(1,0.9795)" font-size="45.18" font-weight="bold" fill="#000">Rhythmic</text>
<line x1="822.30" y1="835.00" x2="822.30" y2="1120.70" stroke="#6a6a6a" stroke-width="1.00" stroke-dasharray="3,1.74" stroke-dashoffset="2.04"/>
<line x1="931.60" y1="835.00" x2="931.60" y2="1120.70" stroke="#6a6a6a" stroke-width="1.00" stroke-dasharray="3,1.74" stroke-dashoffset="2.04"/>
<line x1="1039.90" y1="835.00" x2="1039.90" y2="1120.70" stroke="#6a6a6a" stroke-width="1.00" stroke-dasharray="3,1.74" stroke-dashoffset="2.04"/>
<line x1="1148.30" y1="835.00" x2="1148.30" y2="1120.70" stroke="#6a6a6a" stroke-width="1.00" stroke-dasharray="3,1.74" stroke-dashoffset="2.04"/>
<line x1="1257.50" y1="835.00" x2="1257.50" y2="1120.70" stroke="#6a6a6a" stroke-width="1.00" stroke-dasharray="3,1.74" stroke-dashoffset="2.04"/>
<line x1="1278.50" y1="834.90" x2="1279.80" y2="834.90" stroke="#888" stroke-width="1.00"/>
<line x1="1278.50" y1="882.20" x2="1279.80" y2="882.20" stroke="#888" stroke-width="1.00"/>
<line x1="1278.50" y1="929.50" x2="1279.80" y2="929.50" stroke="#888" stroke-width="1.00"/>
<line x1="1278.50" y1="977.60" x2="1279.80" y2="977.60" stroke="#888" stroke-width="1.00"/>
<line x1="1278.50" y1="1025.20" x2="1279.80" y2="1025.20" stroke="#888" stroke-width="1.00"/>
<line x1="1278.50" y1="1072.80" x2="1279.80" y2="1072.80" stroke="#888" stroke-width="1.00"/>
<line x1="1278.50" y1="1120.00" x2="1279.80" y2="1120.00" stroke="#888" stroke-width="1.00"/>
<line x1="822.50" y1="1160.30" x2="822.50" y2="1165.80" stroke="#888" stroke-width="1.00"/>
<line x1="903.80" y1="1160.30" x2="903.80" y2="1165.80" stroke="#888" stroke-width="1.00"/>
<line x1="985.00" y1="1160.30" x2="985.00" y2="1165.80" stroke="#888" stroke-width="1.00"/>
<line x1="1066.70" y1="1160.30" x2="1066.70" y2="1165.80" stroke="#888" stroke-width="1.00"/>
<line x1="1148.50" y1="1160.30" x2="1148.50" y2="1165.80" stroke="#888" stroke-width="1.00"/>
<line x1="1230.30" y1="1160.30" x2="1230.30" y2="1165.80" stroke="#888" stroke-width="1.00"/>
<path d="M797.00,986.00 L799.00,986.25 L801.00,986.50 L804.23,985.95 L807.47,984.36 L810.70,981.93 L813.93,978.94 L817.17,975.76 L820.40,972.78 L823.63,970.34 L826.87,968.75 L830.10,968.20 L833.28,968.62 L836.46,969.84 L839.65,971.77 L842.83,974.25 L846.01,977.08 L849.19,980.02 L852.37,982.85 L855.55,985.33 L858.74,987.26 L861.92,988.48 L865.10,988.90 L868.29,988.35 L871.48,986.75 L874.67,984.22 L877.86,980.98 L881.05,977.28 L884.25,973.42 L887.44,969.72 L890.63,966.48 L893.82,963.95 L897.01,962.35 L900.20,961.80 L903.50,962.81 L906.80,965.72 L910.10,970.27 L913.40,976.00 L916.70,982.35 L920.00,988.70 L923.30,994.43 L926.60,998.98 L929.90,1001.89 L933.20,1002.90 L936.61,1000.96 L940.02,995.38 L943.43,986.83 L946.84,976.33 L950.26,965.17 L953.67,954.68 L957.08,946.12 L960.49,940.54 L963.90,938.60 L967.17,941.30 L970.43,949.09 L973.70,961.02 L976.97,975.66 L980.23,991.24 L983.50,1005.88 L986.77,1017.81 L990.03,1025.60 L993.30,1028.30 L996.53,1024.98 L999.77,1015.42 L1003.00,1000.77 L1006.23,982.81 L1009.47,963.69 L1012.70,945.73 L1015.93,931.08 L1019.17,921.52 L1022.40,918.20 L1025.88,921.96 L1029.36,932.80 L1032.83,949.40 L1036.31,969.76 L1039.79,991.44 L1043.27,1011.80 L1046.74,1028.40 L1050.22,1039.24 L1053.70,1043.00 L1056.92,1038.81 L1060.14,1026.76 L1063.37,1008.30 L1066.59,985.65 L1069.81,961.55 L1073.03,938.90 L1076.26,920.44 L1079.48,908.39 L1082.70,904.20 L1086.17,910.02 L1089.65,926.58 L1093.12,951.36 L1096.60,980.60 L1100.08,1009.84 L1103.55,1034.62 L1107.03,1051.18 L1110.50,1057.00 L1113.99,1050.81 L1117.47,1033.17 L1120.96,1006.78 L1124.45,975.65 L1127.94,944.52 L1131.43,918.13 L1134.91,900.49 L1138.40,894.30 L1141.89,900.49 L1145.38,918.13 L1148.86,944.52 L1152.35,975.65 L1155.84,1006.78 L1159.33,1033.17 L1162.81,1050.81 L1166.30,1057.00 L1169.79,1051.28 L1173.28,1034.99 L1176.76,1010.61 L1180.25,981.85 L1183.74,953.09 L1187.22,928.71 L1190.71,912.42 L1194.20,906.70 L1197.67,911.45 L1201.15,924.99 L1204.62,945.25 L1208.10,969.15 L1211.58,993.05 L1215.05,1013.31 L1218.53,1026.85 L1222.00,1031.60 L1225.17,1028.84 L1228.33,1020.91 L1231.50,1008.75 L1234.67,993.84 L1237.83,977.96 L1241.00,963.05 L1244.17,950.89 L1247.33,942.96 L1250.50,940.20 L1253.76,941.96 L1257.01,947.03 L1260.27,954.80 L1263.52,964.33 L1266.78,974.47 L1270.03,984.00 L1273.29,991.77 L1276.54,996.84 L1279.80,998.60" stroke="#e4402c" stroke-width="1.50" fill="none"/>
<path d="M797.00,973.80 L800.14,974.24 L803.29,975.48 L806.43,977.26 L809.57,979.24 L812.71,981.02 L815.86,982.26 L819.00,982.70 L822.12,982.38 L825.24,981.47 L828.37,980.08 L831.49,978.36 L834.61,976.54 L837.73,974.83 L840.86,973.43 L843.98,972.52 L847.10,972.20 L850.23,972.60 L853.35,973.74 L856.48,975.44 L859.60,977.45 L862.73,979.46 L865.85,981.16 L868.98,982.30 L872.10,982.70 L875.33,982.41 L878.57,981.59 L881.80,980.33 L885.03,978.77 L888.27,977.13 L891.50,975.58 L894.73,974.31 L897.97,973.49 L901.20,973.20 L904.38,973.40 L907.56,974.00 L910.75,974.94 L913.93,976.15 L917.11,977.53 L920.29,978.97 L923.47,980.35 L926.65,981.56 L929.84,982.50 L933.02,983.10 L936.20,983.30 L939.54,982.84 L942.89,981.53 L946.23,979.52 L949.58,977.06 L952.92,974.44 L956.27,971.98 L959.61,969.97 L962.96,968.66 L966.30,968.20 L969.52,968.88 L972.74,970.83 L975.97,973.83 L979.19,977.50 L982.41,981.40 L985.63,985.08 L988.86,988.07 L992.08,990.02 L995.30,990.70 L998.53,989.78 L1001.77,987.13 L1005.00,983.08 L1008.23,978.10 L1011.47,972.80 L1014.70,967.83 L1017.93,963.77 L1021.17,961.12 L1024.40,960.20 L1027.66,961.36 L1030.91,964.69 L1034.17,969.80 L1037.42,976.07 L1040.68,982.73 L1043.93,989.00 L1047.19,994.11 L1050.44,997.44 L1053.70,998.60 L1056.99,997.23 L1060.28,993.29 L1063.57,987.25 L1066.86,979.84 L1070.14,971.96 L1073.43,964.55 L1076.72,958.51 L1080.01,954.57 L1083.30,953.20 L1086.70,955.07 L1090.10,960.39 L1093.50,968.36 L1096.90,977.75 L1100.30,987.14 L1103.70,995.11 L1107.10,1000.43 L1110.50,1002.30 L1113.91,1000.48 L1117.33,995.31 L1120.74,987.58 L1124.15,978.45 L1127.56,969.32 L1130.97,961.59 L1134.39,956.42 L1137.80,954.60 L1140.97,955.85 L1144.13,959.43 L1147.30,964.92 L1150.47,971.66 L1153.63,978.84 L1156.80,985.57 L1159.97,991.07 L1163.13,994.65 L1166.30,995.90 L1169.79,994.63 L1173.28,991.01 L1176.76,985.59 L1180.25,979.20 L1183.74,972.81 L1187.22,967.39 L1190.71,963.77 L1194.20,962.50 L1197.33,963.26 L1200.47,965.45 L1203.60,968.80 L1206.73,972.91 L1209.87,977.29 L1213.00,981.40 L1216.13,984.75 L1219.27,986.94 L1222.40,987.70 L1225.69,987.19 L1228.98,985.71 L1232.27,983.45 L1235.56,980.68 L1238.84,977.72 L1242.13,974.95 L1245.42,972.69 L1248.71,971.21 L1252.00,970.70 L1255.47,971.08 L1258.95,972.15 L1262.42,973.76 L1265.90,975.65 L1269.38,977.54 L1272.85,979.15 L1276.33,980.22 L1279.80,980.60" stroke="#2e40a6" stroke-width="2.20" fill="none"/>
<line x1="795.10" y1="788.80" x2="795.10" y2="1169.00" stroke="#000" stroke-width="4.00"/>
<line x1="793.10" y1="1166.80" x2="1294.00" y2="1166.80" stroke="#000" stroke-width="4.20"/>
<line x1="928.40" y1="796.40" x2="1203.20" y2="796.40" stroke="#000" stroke-width="2.70"/>
<line x1="929.80" y1="789.20" x2="929.80" y2="797.60" stroke="#000" stroke-width="2.80"/>
<line x1="1092.80" y1="789.20" x2="1092.80" y2="797.60" stroke="#000" stroke-width="2.80"/>
<line x1="1146.60" y1="789.20" x2="1146.60" y2="797.60" stroke="#000" stroke-width="2.80"/>
<line x1="1201.80" y1="789.20" x2="1201.80" y2="797.60" stroke="#000" stroke-width="2.80"/>
<line x1="984.60" y1="789.60" x2="984.60" y2="795.00" stroke="#8a8a8a" stroke-width="2.20"/>
<line x1="1038.80" y1="789.60" x2="1038.80" y2="795.00" stroke="#8a8a8a" stroke-width="2.20"/>
<polygon points="908.19,757.53 917.66,751.13 922.62,760.60 921.00,762.22 926.23,768.36 924.88,770.34 932.36,784.50 917.39,771.97 918.74,770.88 913.51,765.02 914.86,763.40" fill="#707070" stroke="#000" stroke-width="2.5" stroke-linejoin="round"/>
<polygon points="954.69,757.53 964.16,751.13 969.12,760.60 967.50,762.22 972.73,768.36 971.38,770.34 978.86,784.50 963.89,771.97 965.24,770.88 960.01,765.02 961.36,763.40" fill="#707070" stroke="#000" stroke-width="2.5" stroke-linejoin="round"/>
<polygon points="1020.69,757.53 1030.16,751.13 1035.12,760.60 1033.50,762.22 1038.73,768.36 1037.38,770.34 1044.86,784.50 1029.89,771.97 1031.24,770.88 1026.01,765.02 1027.36,763.40" fill="#707070" stroke="#000" stroke-width="2.5" stroke-linejoin="round"/>
<polygon points="1070.19,757.53 1079.66,751.13 1084.62,760.60 1083.00,762.22 1088.23,768.36 1086.88,770.34 1094.36,784.50 1079.39,771.97 1080.74,770.88 1075.51,765.02 1076.86,763.40" fill="#707070" stroke="#000" stroke-width="2.5" stroke-linejoin="round"/>
<line x1="969.60" y1="787.60" x2="995.50" y2="787.60" stroke="#000" stroke-width="3.00"/>
<polygon points="961.60,787.60 973.10,782.40 973.10,792.80" fill="#000"/>
<polygon points="1003.50,787.60 992.00,782.40 992.00,792.80" fill="#000"/>
<line x1="1025.60" y1="787.60" x2="1051.50" y2="787.60" stroke="#000" stroke-width="3.00"/>
<polygon points="1017.60,787.60 1029.10,782.40 1029.10,792.80" fill="#000"/>
<polygon points="1059.50,787.60 1048.00,782.40 1048.00,792.80" fill="#000"/>
<rect x="1157.80" y="750.10" width="32.50" height="33.50" fill="#c2c2c2" stroke="#000" stroke-width="2.80"/>
<line x1="1160.40" y1="751.70" x2="1160.40" y2="782.00" stroke="#aaaaaa" stroke-width="0.90"/>
<line x1="1163.60" y1="751.70" x2="1163.60" y2="782.00" stroke="#aaaaaa" stroke-width="0.90"/>
<line x1="1166.80" y1="751.70" x2="1166.80" y2="782.00" stroke="#aaaaaa" stroke-width="0.90"/>
<line x1="1170.00" y1="751.70" x2="1170.00" y2="782.00" stroke="#aaaaaa" stroke-width="0.90"/>
<line x1="1173.20" y1="751.70" x2="1173.20" y2="782.00" stroke="#aaaaaa" stroke-width="0.90"/>
<line x1="1176.40" y1="751.70" x2="1176.40" y2="782.00" stroke="#aaaaaa" stroke-width="0.90"/>
<line x1="1179.60" y1="751.70" x2="1179.60" y2="782.00" stroke="#aaaaaa" stroke-width="0.90"/>
<line x1="1182.80" y1="751.70" x2="1182.80" y2="782.00" stroke="#aaaaaa" stroke-width="0.90"/>
<line x1="1186.00" y1="751.70" x2="1186.00" y2="782.00" stroke="#aaaaaa" stroke-width="0.90"/>
<text transform="translate(772.17,808.50) scale(1,0.9899)" font-size="34.49" font-weight="bold" fill="#000">2</text>
<text transform="translate(772.20,996.55) scale(1,1.0091)" font-size="34.89" font-weight="bold" fill="#000">0</text>
<text transform="translate(766.67,1188.50) scale(1,0.9600)" font-size="33.33" font-weight="bold" fill="#000">-2</text>
<text transform="translate(788.66,1218.04) scale(1,1.0659)" font-size="33.43" font-weight="bold" fill="#000">-199.5</text>
<text transform="translate(907.25,1218.04) scale(1,1.0574)" font-size="33.70" font-weight="bold" fill="#000">-133</text>
<text transform="translate(1013.36,1217.85) scale(1,1.0629)" font-size="33.39" font-weight="bold" fill="#000">-66.5</text>
<text transform="translate(1144.68,1216.05) scale(1,0.9949)" font-size="35.53" font-weight="bold" fill="#000">0</text>
<text transform="translate(1232.94,1216.05) scale(1,1.0368)" font-size="34.10" font-weight="bold" fill="#000">66.5</text>
<text transform="translate(862.85,1150.70) scale(1,1.1929)" font-size="34.87" font-weight="bold" fill="#000">T1</text>
<text transform="translate(978.41,1150.70) scale(1,1.0484)" font-size="39.11" font-weight="bold" fill="#000">T2</text>
<text transform="translate(1085.80,1150.59) scale(1,1.0234)" font-size="39.91" font-weight="bold" fill="#000">T3</text>
<text transform="translate(1194.41,1149.90) scale(1,1.0741)" font-size="39.13" font-weight="bold" fill="#000">T4</text>
<text transform="translate(954.41,1278.36) scale(1,1.0291)" font-size="39.08" font-weight="bold" fill="#000">Time (ms)</text>
<text transform="translate(746.77,1102.29) rotate(-90)" font-size="39.63" font-weight="bold" fill="#000">Amplitude (µV)</text>
<text transform="translate(491.53,727.06) scale(1,0.9666)" font-size="45.30" font-weight="bold" fill="#000">Random</text>
<rect x="463.80" y="1246.90" width="312.40" height="124.40" fill="#fff" stroke="#000" stroke-width="1.60"/>
<rect x="488.80" y="1282.40" width="47.60" height="8.60" fill="#ff2200"/>
<rect x="488.80" y="1329.60" width="47.60" height="8.60" fill="#0a3cff"/>
<text transform="translate(552.90,1304.00) scale(1,1.0255)" font-size="39.27" fill="#000">Active TMS</text>
<text transform="translate(552.23,1352.60) scale(1,1.0066)" font-size="39.47" fill="#000">Sham TMS</text>
<rect x="305.20" y="1801.00" width="34.00" height="76.00" fill="#fed6c4"/>
<rect x="319.40" y="1789.50" width="6.00" height="12.00" fill="#000"/>
<rect x="313.60" y="1786.50" width="17.60" height="5.60" fill="#000"/>
<rect x="344.55" y="1639.00" width="34.00" height="238.00" fill="#fca783"/>
<rect x="358.75" y="1606.60" width="6.00" height="32.90" fill="#000"/>
<rect x="352.95" y="1603.60" width="17.60" height="5.60" fill="#000"/>
<rect x="383.90" y="1568.50" width="34.00" height="308.50" fill="#f57849"/>
<rect x="398.10" y="1528.00" width="6.00" height="41.00" fill="#000"/>
<rect x="392.30" y="1525.00" width="17.60" height="5.60" fill="#000"/>
<rect x="423.25" y="1695.10" width="34.00" height="181.90" fill="#e32400"/>
<rect x="437.45" y="1668.30" width="6.00" height="27.30" fill="#000"/>
<rect x="431.65" y="1665.30" width="17.60" height="5.60" fill="#000"/>
<rect x="501.20" y="1846.20" width="34.00" height="30.80" fill="#dcdcf6"/>
<rect x="515.40" y="1840.20" width="6.00" height="6.50" fill="#000"/>
<rect x="509.60" y="1837.20" width="17.60" height="5.60" fill="#000"/>
<rect x="540.55" y="1824.00" width="34.00" height="53.00" fill="#b0b5e7"/>
<rect x="554.75" y="1816.20" width="6.00" height="8.30" fill="#000"/>
<rect x="548.95" y="1813.20" width="17.60" height="5.60" fill="#000"/>
<rect x="579.90" y="1821.10" width="34.00" height="55.90" fill="#8890d3"/>
<rect x="594.10" y="1813.40" width="6.00" height="8.20" fill="#000"/>
<rect x="588.30" y="1810.40" width="17.60" height="5.60" fill="#000"/>
<rect x="619.25" y="1835.40" width="34.00" height="41.60" fill="#4382fc"/>
<rect x="633.45" y="1830.70" width="6.00" height="5.20" fill="#000"/>
<rect x="627.65" y="1827.70" width="17.60" height="5.60" fill="#000"/>
<rect x="789.30" y="1820.20" width="34.00" height="56.80" fill="#fed6c4"/>
<rect x="803.50" y="1811.00" width="6.00" height="9.70" fill="#000"/>
<rect x="797.70" y="1808.00" width="17.60" height="5.60" fill="#000"/>
<rect x="828.65" y="1733.70" width="34.00" height="143.30" fill="#fca783"/>
<rect x="842.85" y="1716.00" width="6.00" height="18.20" fill="#000"/>
<rect x="837.05" y="1713.00" width="17.60" height="5.60" fill="#000"/>
<rect x="868.00" y="1689.40" width="34.00" height="187.60" fill="#f57849"/>
<rect x="882.20" y="1666.70" width="6.00" height="23.20" fill="#000"/>
<rect x="876.40" y="1663.70" width="17.60" height="5.60" fill="#000"/>
<rect x="907.35" y="1743.70" width="34.00" height="133.30" fill="#e32400"/>
<rect x="921.55" y="1723.50" width="6.00" height="20.70" fill="#000"/>
<rect x="915.75" y="1720.50" width="17.60" height="5.60" fill="#000"/>
<rect x="985.80" y="1848.00" width="34.00" height="29.00" fill="#dcdcf6"/>
<rect x="1000.00" y="1845.80" width="6.00" height="2.70" fill="#000"/>
<rect x="994.20" y="1842.80" width="17.60" height="5.60" fill="#000"/>
<rect x="1025.15" y="1831.50" width="34.00" height="45.50" fill="#b0b5e7"/>
<rect x="1039.35" y="1827.00" width="6.00" height="5.00" fill="#000"/>
<rect x="1033.55" y="1824.00" width="17.60" height="5.60" fill="#000"/>
<rect x="1064.50" y="1817.00" width="34.00" height="60.00" fill="#8890d3"/>
<rect x="1078.70" y="1813.40" width="6.00" height="4.10" fill="#000"/>
<rect x="1072.90" y="1810.40" width="17.60" height="5.60" fill="#000"/>
<rect x="1103.85" y="1826.10" width="34.00" height="50.90" fill="#4382fc"/>
<rect x="1118.05" y="1820.80" width="6.00" height="5.80" fill="#000"/>
<rect x="1112.25" y="1817.80" width="17.60" height="5.60" fill="#000"/>
<text transform="translate(307.62,1869.70) scale(1,1.1796)" font-size="27.52" font-weight="bold" fill="#000">T1</text>
<text transform="translate(343.99,1869.70) scale(1,1.0449)" font-size="30.63" font-weight="bold" fill="#000">T2</text>
<text transform="translate(383.50,1869.58) scale(1,1.0548)" font-size="30.18" font-weight="bold" fill="#000">T3</text>
<text transform="translate(422.20,1869.70) scale(1,1.0759)" font-size="30.17" font-weight="bold" fill="#000">T4</text>
<text transform="translate(500.83,1872.10) scale(1,1.1759)" font-size="26.99" font-weight="bold" fill="#000">T1</text>
<text transform="translate(540.30,1869.30) scale(1,1.0400)" font-size="30.36" font-weight="bold" fill="#000">T2</text>
<text transform="translate(579.60,1869.19) scale(1,1.0501)" font-size="29.91" font-weight="bold" fill="#000">T3</text>
<text transform="translate(618.70,1869.30) scale(1,1.0707)" font-size="29.91" font-weight="bold" fill="#000">T4</text>
<text transform="translate(789.71,1866.40) scale(1,1.0524)" font-size="29.47" font-weight="bold" fill="#000">T1</text>
<text transform="translate(828.19,1866.40)" font-size="30.54" font-weight="bold" fill="#000">T2</text>
<text transform="translate(867.49,1866.30)" font-size="30.54" font-weight="bold" fill="#000">T3</text>
<text transform="translate(906.60,1866.40) scale(1,1.0190)" font-size="30.43" font-weight="bold" fill="#000">T4</text>
<text transform="translate(985.52,1871.30) scale(1,1.1631)" font-size="27.79" font-weight="bold" fill="#000">T1</text>
<text transform="translate(1024.32,1869.00) scale(1,1.1737)" font-size="28.48" font-weight="bold" fill="#000">T2</text>
<text transform="translate(1063.29,1868.87) scale(1,1.0885)" font-size="30.54" font-weight="bold" fill="#000">T3</text>
<text transform="translate(1103.20,1869.00) scale(1,1.1370)" font-size="29.83" font-weight="bold" fill="#000">T4</text>
<line x1="237.30" y1="1462.00" x2="237.30" y2="1890.50" stroke="#000" stroke-width="2.60"/>
<line x1="226.50" y1="1877.10" x2="1206.80" y2="1877.10" stroke="#000" stroke-width="3.00"/>
<line x1="226.50" y1="1877.00" x2="237.30" y2="1877.00" stroke="#000" stroke-width="2.50"/>
<line x1="226.50" y1="1825.34" x2="237.30" y2="1825.34" stroke="#000" stroke-width="2.50"/>
<line x1="226.50" y1="1773.68" x2="237.30" y2="1773.68" stroke="#000" stroke-width="2.50"/>
<line x1="226.50" y1="1722.02" x2="237.30" y2="1722.02" stroke="#000" stroke-width="2.50"/>
<line x1="226.50" y1="1670.36" x2="237.30" y2="1670.36" stroke="#000" stroke-width="2.50"/>
<line x1="226.50" y1="1618.70" x2="237.30" y2="1618.70" stroke="#000" stroke-width="2.50"/>
<line x1="226.50" y1="1567.04" x2="237.30" y2="1567.04" stroke="#000" stroke-width="2.50"/>
<line x1="226.50" y1="1515.38" x2="237.30" y2="1515.38" stroke="#000" stroke-width="2.50"/>
<line x1="226.50" y1="1463.72" x2="237.30" y2="1463.72" stroke="#000" stroke-width="2.50"/>
<line x1="721.90" y1="1877.00" x2="721.90" y2="1890.50" stroke="#000" stroke-width="2.60"/>
<line x1="1205.50" y1="1877.00" x2="1205.50" y2="1890.50" stroke="#000" stroke-width="2.60"/>
<text transform="translate(188.53,1891.69)" font-size="33.60" fill="#000">0</text>
<text transform="translate(160.98,1839.76)" font-size="33.60" fill="#000">0.2</text>
<text transform="translate(160.30,1787.83)" font-size="33.60" fill="#000">0.4</text>
<text transform="translate(160.64,1735.90)" font-size="33.60" fill="#000">0.6</text>
<text transform="translate(160.64,1683.97)" font-size="33.60" fill="#000">0.8</text>
<text transform="translate(188.86,1632.04)" font-size="33.60" fill="#000">1</text>
<text transform="translate(160.98,1580.28)" font-size="33.60" fill="#000">1.2</text>
<text transform="translate(160.30,1528.18)" font-size="33.60" fill="#000">1.4</text>
<text transform="translate(160.64,1476.25)" font-size="33.60" fill="#000">1.6</text>
<text transform="translate(418.14,1478.68) scale(1,0.9819)" font-size="45.18" font-weight="bold" fill="#000">Rhythmic</text>
<text transform="translate(869.47,1486.87) scale(1,0.9399)" font-size="46.15" font-weight="bold" fill="#000">Random</text>
<text transform="translate(87.29,1882.87) rotate(-90) scale(1,1.0317)" font-size="39.56" font-weight="bold" fill="#000">Evoked oscillations</text>
<text transform="translate(131.96,1839.19) rotate(-90) scale(1,1.0496)" font-size="39.63" font-weight="bold" fill="#000">Amplitude (µV)</text>
<text transform="translate(317.70,1947.11)" font-size="39.60" fill="#000">Active</text>
<text transform="translate(536.12,1947.11)" font-size="39.60" fill="#000">Sham</text>
<text transform="translate(816.00,1947.11)" font-size="39.60" fill="#000">Active</text>
<text transform="translate(1024.52,1947.11)" font-size="39.60" fill="#000">Sham</text></svg>
</body></html>
